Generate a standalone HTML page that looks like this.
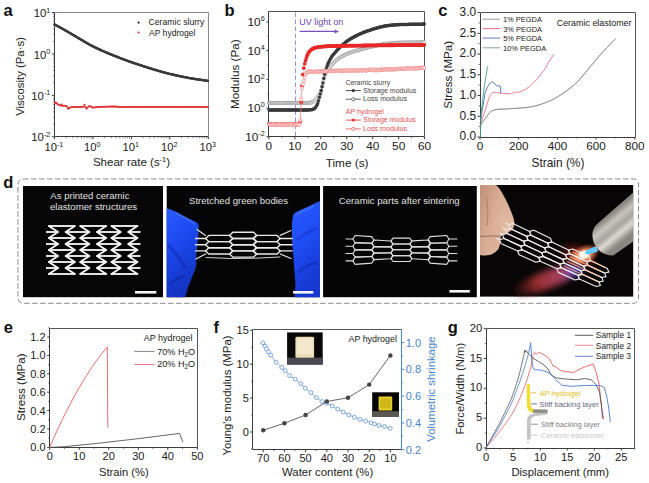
<!DOCTYPE html>
<html><head><meta charset="utf-8"><style>
html,body{margin:0;padding:0;background:#fff;width:649px;height:483px;overflow:hidden}
svg{display:block}
text{font-family:"Liberation Sans", sans-serif}
</style></head><body>
<svg width="649" height="483" viewBox="0 0 649 483" font-family='"Liberation Sans", sans-serif'><defs>
<linearGradient id="glL" x1="0" y1="0" x2="0.3" y2="1"><stop offset="0" stop-color="#2a5cff"/><stop offset="0.45" stop-color="#1c48f0"/><stop offset="1" stop-color="#1234c0"/></linearGradient>
<linearGradient id="glR" x1="0" y1="0" x2="0.3" y2="1"><stop offset="0" stop-color="#2a5cff"/><stop offset="0.5" stop-color="#1e4cf4"/><stop offset="1" stop-color="#1638d0"/></linearGradient>
<linearGradient id="torch" gradientUnits="userSpaceOnUse" x1="606" y1="218" x2="624" y2="240"><stop offset="0" stop-color="#8a8680"/><stop offset="0.25" stop-color="#c8c4be"/><stop offset="0.5" stop-color="#a8a49e"/><stop offset="0.72" stop-color="#dcd8d2"/><stop offset="1" stop-color="#8a8680"/></linearGradient>
<linearGradient id="plume" x1="0" y1="0" x2="1" y2="0"><stop offset="0" stop-color="#401010" stop-opacity="0.3"/><stop offset="0.35" stop-color="#9a3030"/><stop offset="0.7" stop-color="#a04060"/><stop offset="0.88" stop-color="#6050d0"/><stop offset="1" stop-color="#4060ff"/></linearGradient>
<linearGradient id="skin" x1="0" y1="0" x2="1" y2="0.6"><stop offset="0" stop-color="#c09078"/><stop offset="0.5" stop-color="#d8ae94"/><stop offset="1" stop-color="#e0b8a0"/></linearGradient>
<radialGradient id="redglow" cx="0.5" cy="0.5" r="0.5"><stop offset="0" stop-color="#c05030" stop-opacity="0.85"/><stop offset="0.5" stop-color="#802018" stop-opacity="0.5"/><stop offset="1" stop-color="#300808" stop-opacity="0"/></radialGradient>
<radialGradient id="glow" cx="0.5" cy="0.5" r="0.5"><stop offset="0" stop-color="#fff8f0"/><stop offset="0.35" stop-color="#ffb080"/><stop offset="1" stop-color="#ff6030" stop-opacity="0"/></radialGradient>
<radialGradient id="haze" cx="0.5" cy="0.5" r="0.5"><stop offset="0" stop-color="#a03068" stop-opacity="0.75"/><stop offset="0.6" stop-color="#602050" stop-opacity="0.45"/><stop offset="1" stop-color="#301030" stop-opacity="0"/></radialGradient>
<radialGradient id="bluef" cx="0.5" cy="0.5" r="0.5"><stop offset="0" stop-color="#a0d0ff"/><stop offset="0.5" stop-color="#3070ff" stop-opacity="0.8"/><stop offset="1" stop-color="#2040ff" stop-opacity="0"/></radialGradient>
<filter id="bl05" x="-50%" y="-50%" width="200%" height="200%"><feGaussianBlur stdDeviation="0.35"/></filter>
<filter id="bl1" x="-50%" y="-50%" width="200%" height="200%"><feGaussianBlur stdDeviation="0.6"/></filter>
<filter id="bl3" x="-50%" y="-50%" width="200%" height="200%"><feGaussianBlur stdDeviation="3"/></filter>
<filter id="bl5" x="-50%" y="-50%" width="200%" height="200%"><feGaussianBlur stdDeviation="5"/></filter>
</defs><line x1="54.50" y1="136.50" x2="208.50" y2="136.50" stroke="#3c3c3c" stroke-width="1"/>
<line x1="54.50" y1="12.50" x2="54.50" y2="136.50" stroke="#3c3c3c" stroke-width="1"/>
<line x1="54.50" y1="12.50" x2="208.50" y2="12.50" stroke="#8a8a8a" stroke-width="1"/>
<line x1="208.50" y1="12.50" x2="208.50" y2="136.50" stroke="#8a8a8a" stroke-width="1"/>
<line x1="54.50" y1="136.80" x2="54.50" y2="139.30" stroke="#3c3c3c" stroke-width="1"/>
<line x1="66.07" y1="136.80" x2="66.07" y2="138.30" stroke="#3c3c3c" stroke-width="0.6"/>
<line x1="72.85" y1="136.80" x2="72.85" y2="138.30" stroke="#3c3c3c" stroke-width="0.6"/>
<line x1="77.65" y1="136.80" x2="77.65" y2="138.30" stroke="#3c3c3c" stroke-width="0.6"/>
<line x1="81.38" y1="136.80" x2="81.38" y2="138.30" stroke="#3c3c3c" stroke-width="0.6"/>
<line x1="84.42" y1="136.80" x2="84.42" y2="138.30" stroke="#3c3c3c" stroke-width="0.6"/>
<line x1="86.99" y1="136.80" x2="86.99" y2="138.30" stroke="#3c3c3c" stroke-width="0.6"/>
<line x1="89.22" y1="136.80" x2="89.22" y2="138.30" stroke="#3c3c3c" stroke-width="0.6"/>
<line x1="91.19" y1="136.80" x2="91.19" y2="138.30" stroke="#3c3c3c" stroke-width="0.6"/>
<text x="53.90" y="151.10" font-size="11.2" text-anchor="middle" fill="#222">10<tspan dy="-4.6" font-size="7.2">-1</tspan></text>
<line x1="92.95" y1="136.80" x2="92.95" y2="139.30" stroke="#3c3c3c" stroke-width="1"/>
<line x1="104.52" y1="136.80" x2="104.52" y2="138.30" stroke="#3c3c3c" stroke-width="0.6"/>
<line x1="111.30" y1="136.80" x2="111.30" y2="138.30" stroke="#3c3c3c" stroke-width="0.6"/>
<line x1="116.10" y1="136.80" x2="116.10" y2="138.30" stroke="#3c3c3c" stroke-width="0.6"/>
<line x1="119.83" y1="136.80" x2="119.83" y2="138.30" stroke="#3c3c3c" stroke-width="0.6"/>
<line x1="122.87" y1="136.80" x2="122.87" y2="138.30" stroke="#3c3c3c" stroke-width="0.6"/>
<line x1="125.44" y1="136.80" x2="125.44" y2="138.30" stroke="#3c3c3c" stroke-width="0.6"/>
<line x1="127.67" y1="136.80" x2="127.67" y2="138.30" stroke="#3c3c3c" stroke-width="0.6"/>
<line x1="129.64" y1="136.80" x2="129.64" y2="138.30" stroke="#3c3c3c" stroke-width="0.6"/>
<text x="92.35" y="151.10" font-size="11.2" text-anchor="middle" fill="#222">10<tspan dy="-4.6" font-size="7.2">0</tspan></text>
<line x1="131.40" y1="136.80" x2="131.40" y2="139.30" stroke="#3c3c3c" stroke-width="1"/>
<line x1="142.97" y1="136.80" x2="142.97" y2="138.30" stroke="#3c3c3c" stroke-width="0.6"/>
<line x1="149.75" y1="136.80" x2="149.75" y2="138.30" stroke="#3c3c3c" stroke-width="0.6"/>
<line x1="154.55" y1="136.80" x2="154.55" y2="138.30" stroke="#3c3c3c" stroke-width="0.6"/>
<line x1="158.28" y1="136.80" x2="158.28" y2="138.30" stroke="#3c3c3c" stroke-width="0.6"/>
<line x1="161.32" y1="136.80" x2="161.32" y2="138.30" stroke="#3c3c3c" stroke-width="0.6"/>
<line x1="163.89" y1="136.80" x2="163.89" y2="138.30" stroke="#3c3c3c" stroke-width="0.6"/>
<line x1="166.12" y1="136.80" x2="166.12" y2="138.30" stroke="#3c3c3c" stroke-width="0.6"/>
<line x1="168.09" y1="136.80" x2="168.09" y2="138.30" stroke="#3c3c3c" stroke-width="0.6"/>
<text x="130.80" y="151.10" font-size="11.2" text-anchor="middle" fill="#222">10<tspan dy="-4.6" font-size="7.2">1</tspan></text>
<line x1="169.85" y1="136.80" x2="169.85" y2="139.30" stroke="#3c3c3c" stroke-width="1"/>
<line x1="181.42" y1="136.80" x2="181.42" y2="138.30" stroke="#3c3c3c" stroke-width="0.6"/>
<line x1="188.20" y1="136.80" x2="188.20" y2="138.30" stroke="#3c3c3c" stroke-width="0.6"/>
<line x1="193.00" y1="136.80" x2="193.00" y2="138.30" stroke="#3c3c3c" stroke-width="0.6"/>
<line x1="196.73" y1="136.80" x2="196.73" y2="138.30" stroke="#3c3c3c" stroke-width="0.6"/>
<line x1="199.77" y1="136.80" x2="199.77" y2="138.30" stroke="#3c3c3c" stroke-width="0.6"/>
<line x1="202.34" y1="136.80" x2="202.34" y2="138.30" stroke="#3c3c3c" stroke-width="0.6"/>
<line x1="204.57" y1="136.80" x2="204.57" y2="138.30" stroke="#3c3c3c" stroke-width="0.6"/>
<line x1="206.54" y1="136.80" x2="206.54" y2="138.30" stroke="#3c3c3c" stroke-width="0.6"/>
<text x="169.25" y="151.10" font-size="11.2" text-anchor="middle" fill="#222">10<tspan dy="-4.6" font-size="7.2">2</tspan></text>
<line x1="208.30" y1="136.80" x2="208.30" y2="139.30" stroke="#3c3c3c" stroke-width="1"/>
<text x="207.70" y="151.10" font-size="11.2" text-anchor="middle" fill="#222">10<tspan dy="-4.6" font-size="7.2">3</tspan></text>
<line x1="52.00" y1="136.79" x2="54.50" y2="136.79" stroke="#3c3c3c" stroke-width="1"/>
<line x1="53.00" y1="124.32" x2="54.50" y2="124.32" stroke="#3c3c3c" stroke-width="0.6"/>
<line x1="53.00" y1="117.02" x2="54.50" y2="117.02" stroke="#3c3c3c" stroke-width="0.6"/>
<line x1="53.00" y1="111.85" x2="54.50" y2="111.85" stroke="#3c3c3c" stroke-width="0.6"/>
<line x1="53.00" y1="107.83" x2="54.50" y2="107.83" stroke="#3c3c3c" stroke-width="0.6"/>
<line x1="53.00" y1="104.55" x2="54.50" y2="104.55" stroke="#3c3c3c" stroke-width="0.6"/>
<line x1="53.00" y1="101.78" x2="54.50" y2="101.78" stroke="#3c3c3c" stroke-width="0.6"/>
<line x1="53.00" y1="99.37" x2="54.50" y2="99.37" stroke="#3c3c3c" stroke-width="0.6"/>
<line x1="53.00" y1="97.26" x2="54.50" y2="97.26" stroke="#3c3c3c" stroke-width="0.6"/>
<text x="50.30" y="141.39" font-size="11.3" text-anchor="end" fill="#222">10<tspan dy="-4.6" font-size="7.2">-2</tspan></text>
<line x1="52.00" y1="95.36" x2="54.50" y2="95.36" stroke="#3c3c3c" stroke-width="1"/>
<line x1="53.00" y1="82.89" x2="54.50" y2="82.89" stroke="#3c3c3c" stroke-width="0.6"/>
<line x1="53.00" y1="75.59" x2="54.50" y2="75.59" stroke="#3c3c3c" stroke-width="0.6"/>
<line x1="53.00" y1="70.42" x2="54.50" y2="70.42" stroke="#3c3c3c" stroke-width="0.6"/>
<line x1="53.00" y1="66.40" x2="54.50" y2="66.40" stroke="#3c3c3c" stroke-width="0.6"/>
<line x1="53.00" y1="63.12" x2="54.50" y2="63.12" stroke="#3c3c3c" stroke-width="0.6"/>
<line x1="53.00" y1="60.35" x2="54.50" y2="60.35" stroke="#3c3c3c" stroke-width="0.6"/>
<line x1="53.00" y1="57.94" x2="54.50" y2="57.94" stroke="#3c3c3c" stroke-width="0.6"/>
<line x1="53.00" y1="55.83" x2="54.50" y2="55.83" stroke="#3c3c3c" stroke-width="0.6"/>
<text x="50.30" y="99.96" font-size="11.3" text-anchor="end" fill="#222">10<tspan dy="-4.6" font-size="7.2">-1</tspan></text>
<line x1="52.00" y1="53.93" x2="54.50" y2="53.93" stroke="#3c3c3c" stroke-width="1"/>
<line x1="53.00" y1="41.46" x2="54.50" y2="41.46" stroke="#3c3c3c" stroke-width="0.6"/>
<line x1="53.00" y1="34.16" x2="54.50" y2="34.16" stroke="#3c3c3c" stroke-width="0.6"/>
<line x1="53.00" y1="28.99" x2="54.50" y2="28.99" stroke="#3c3c3c" stroke-width="0.6"/>
<line x1="53.00" y1="24.97" x2="54.50" y2="24.97" stroke="#3c3c3c" stroke-width="0.6"/>
<line x1="53.00" y1="21.69" x2="54.50" y2="21.69" stroke="#3c3c3c" stroke-width="0.6"/>
<line x1="53.00" y1="18.92" x2="54.50" y2="18.92" stroke="#3c3c3c" stroke-width="0.6"/>
<line x1="53.00" y1="16.51" x2="54.50" y2="16.51" stroke="#3c3c3c" stroke-width="0.6"/>
<line x1="53.00" y1="14.40" x2="54.50" y2="14.40" stroke="#3c3c3c" stroke-width="0.6"/>
<text x="50.30" y="58.53" font-size="11.3" text-anchor="end" fill="#222">10<tspan dy="-4.6" font-size="7.2">0</tspan></text>
<line x1="52.00" y1="12.50" x2="54.50" y2="12.50" stroke="#3c3c3c" stroke-width="1"/>
<text x="50.30" y="17.10" font-size="11.3" text-anchor="end" fill="#222">10<tspan dy="-4.6" font-size="7.2">1</tspan></text>
<text x="8.15" y="15.80" font-size="16.5" text-anchor="middle" fill="#111" font-weight="bold">a</text>
<text x="23.90" y="115.85" font-size="11.38" fill="#222" transform="rotate(-90 23.90 115.85)">Viscosity (Pa·s)</text>
<text x="131.50" y="166.40" font-size="11.55" text-anchor="middle" fill="#222">Shear rate (s<tspan dy="-4.6" font-size="7.4">-1</tspan><tspan dy="4.6">)</tspan></text>
<polyline points="54.60,24.50 54.95,24.69 55.39,24.93 55.91,25.20 56.48,25.51 57.11,25.84 57.77,26.20 58.47,26.57 59.19,26.96 59.91,27.35 60.62,27.74 61.32,28.13 62.00,28.50 62.66,28.87 63.33,29.24 64.00,29.62 64.68,30.01 65.37,30.40 66.06,30.79 66.76,31.20 67.47,31.60 68.19,32.02 68.92,32.44 69.65,32.87 70.40,33.30 71.15,33.74 71.91,34.19 72.67,34.64 73.44,35.10 74.22,35.57 75.01,36.04 75.80,36.52 76.61,37.00 77.44,37.49 78.28,37.99 79.13,38.49 80.00,39.00 80.89,39.52 81.80,40.06 82.72,40.60 83.66,41.16 84.61,41.72 85.57,42.29 86.54,42.85 87.52,43.42 88.51,43.98 89.50,44.53 90.50,45.07 91.50,45.60 92.51,46.12 93.53,46.63 94.56,47.15 95.60,47.65 96.65,48.15 97.71,48.65 98.76,49.14 99.82,49.63 100.87,50.10 101.92,50.58 102.97,51.04 104.00,51.50 105.03,51.95 106.06,52.39 107.08,52.82 108.10,53.25 109.12,53.67 110.14,54.09 111.16,54.50 112.17,54.90 113.19,55.31 114.19,55.71 115.20,56.10 116.20,56.50 117.19,56.89 118.18,57.28 119.15,57.66 120.13,58.04 121.09,58.42 122.06,58.79 123.03,59.16 124.01,59.53 124.99,59.90 125.98,60.27 126.98,60.63 128.00,61.00 129.03,61.36 130.06,61.73 131.10,62.08 132.14,62.44 133.19,62.80 134.25,63.15 135.32,63.50 136.39,63.86 137.48,64.22 138.57,64.57 139.68,64.94 140.80,65.30 141.93,65.67 143.09,66.05 144.26,66.42 145.44,66.81 146.63,67.19 147.83,67.58 149.03,67.96 150.23,68.34 151.43,68.71 152.63,69.08 153.82,69.45 155.00,69.80 156.16,70.15 157.29,70.48 158.40,70.81 159.50,71.14 160.59,71.46 161.70,71.78 162.82,72.09 163.97,72.41 165.15,72.72 166.38,73.05 167.66,73.37 169.00,73.70 170.41,74.04 171.87,74.38 173.38,74.73 174.93,75.09 176.51,75.44 178.12,75.80 179.76,76.15 181.41,76.50 183.06,76.84 184.72,77.17 186.37,77.49 188.00,77.80 189.70,78.10 191.51,78.41 193.40,78.72 195.33,79.02 197.28,79.32 199.19,79.61 201.03,79.88 202.78,80.13 204.38,80.37 205.81,80.57 207.03,80.75 208.00,80.90" fill="none" stroke="#404040" stroke-width="2.3" stroke-linejoin="round" stroke-linecap="round"/>
<circle cx="54.60" cy="24.50" r="1.2" fill="#3a3a3a" stroke="none" stroke-width="0"/>
<circle cx="55.60" cy="25.04" r="1.2" fill="#3a3a3a" stroke="none" stroke-width="0"/>
<circle cx="56.60" cy="25.58" r="1.2" fill="#3a3a3a" stroke="none" stroke-width="0"/>
<circle cx="57.60" cy="26.11" r="1.2" fill="#3a3a3a" stroke="none" stroke-width="0"/>
<circle cx="58.60" cy="26.65" r="1.2" fill="#3a3a3a" stroke="none" stroke-width="0"/>
<circle cx="59.60" cy="27.19" r="1.2" fill="#3a3a3a" stroke="none" stroke-width="0"/>
<circle cx="60.60" cy="27.73" r="1.2" fill="#3a3a3a" stroke="none" stroke-width="0"/>
<circle cx="61.60" cy="28.28" r="1.2" fill="#3a3a3a" stroke="none" stroke-width="0"/>
<circle cx="62.60" cy="28.83" r="1.2" fill="#3a3a3a" stroke="none" stroke-width="0"/>
<circle cx="63.60" cy="29.39" r="1.2" fill="#3a3a3a" stroke="none" stroke-width="0"/>
<circle cx="64.60" cy="29.96" r="1.2" fill="#3a3a3a" stroke="none" stroke-width="0"/>
<circle cx="65.60" cy="30.53" r="1.2" fill="#3a3a3a" stroke="none" stroke-width="0"/>
<circle cx="66.60" cy="31.10" r="1.2" fill="#3a3a3a" stroke="none" stroke-width="0"/>
<circle cx="67.60" cy="31.68" r="1.2" fill="#3a3a3a" stroke="none" stroke-width="0"/>
<circle cx="68.60" cy="32.25" r="1.2" fill="#3a3a3a" stroke="none" stroke-width="0"/>
<circle cx="69.60" cy="32.83" r="1.2" fill="#3a3a3a" stroke="none" stroke-width="0"/>
<circle cx="70.60" cy="33.42" r="1.2" fill="#3a3a3a" stroke="none" stroke-width="0"/>
<circle cx="71.60" cy="34.00" r="1.2" fill="#3a3a3a" stroke="none" stroke-width="0"/>
<circle cx="72.60" cy="34.59" r="1.2" fill="#3a3a3a" stroke="none" stroke-width="0"/>
<circle cx="73.60" cy="35.19" r="1.2" fill="#3a3a3a" stroke="none" stroke-width="0"/>
<circle cx="74.60" cy="35.79" r="1.2" fill="#3a3a3a" stroke="none" stroke-width="0"/>
<circle cx="75.60" cy="36.39" r="1.2" fill="#3a3a3a" stroke="none" stroke-width="0"/>
<circle cx="76.60" cy="36.99" r="1.2" fill="#3a3a3a" stroke="none" stroke-width="0"/>
<circle cx="77.60" cy="37.58" r="1.2" fill="#3a3a3a" stroke="none" stroke-width="0"/>
<circle cx="78.60" cy="38.18" r="1.2" fill="#3a3a3a" stroke="none" stroke-width="0"/>
<circle cx="79.60" cy="38.77" r="1.2" fill="#3a3a3a" stroke="none" stroke-width="0"/>
<circle cx="80.60" cy="39.35" r="1.2" fill="#3a3a3a" stroke="none" stroke-width="0"/>
<circle cx="81.60" cy="39.94" r="1.2" fill="#3a3a3a" stroke="none" stroke-width="0"/>
<circle cx="82.60" cy="40.53" r="1.2" fill="#3a3a3a" stroke="none" stroke-width="0"/>
<circle cx="83.60" cy="41.13" r="1.2" fill="#3a3a3a" stroke="none" stroke-width="0"/>
<circle cx="84.60" cy="41.72" r="1.2" fill="#3a3a3a" stroke="none" stroke-width="0"/>
<circle cx="85.60" cy="42.31" r="1.2" fill="#3a3a3a" stroke="none" stroke-width="0"/>
<circle cx="86.60" cy="42.89" r="1.2" fill="#3a3a3a" stroke="none" stroke-width="0"/>
<circle cx="87.60" cy="43.46" r="1.2" fill="#3a3a3a" stroke="none" stroke-width="0"/>
<circle cx="88.60" cy="44.03" r="1.2" fill="#3a3a3a" stroke="none" stroke-width="0"/>
<circle cx="89.60" cy="44.59" r="1.2" fill="#3a3a3a" stroke="none" stroke-width="0"/>
<circle cx="90.60" cy="45.13" r="1.2" fill="#3a3a3a" stroke="none" stroke-width="0"/>
<circle cx="91.60" cy="45.65" r="1.2" fill="#3a3a3a" stroke="none" stroke-width="0"/>
<circle cx="92.60" cy="46.16" r="1.2" fill="#3a3a3a" stroke="none" stroke-width="0"/>
<circle cx="93.60" cy="46.67" r="1.2" fill="#3a3a3a" stroke="none" stroke-width="0"/>
<circle cx="94.60" cy="47.16" r="1.2" fill="#3a3a3a" stroke="none" stroke-width="0"/>
<circle cx="95.60" cy="47.65" r="1.2" fill="#3a3a3a" stroke="none" stroke-width="0"/>
<circle cx="96.60" cy="48.13" r="1.2" fill="#3a3a3a" stroke="none" stroke-width="0"/>
<circle cx="97.60" cy="48.60" r="1.2" fill="#3a3a3a" stroke="none" stroke-width="0"/>
<circle cx="98.60" cy="49.07" r="1.2" fill="#3a3a3a" stroke="none" stroke-width="0"/>
<circle cx="99.60" cy="49.53" r="1.2" fill="#3a3a3a" stroke="none" stroke-width="0"/>
<circle cx="100.60" cy="49.99" r="1.2" fill="#3a3a3a" stroke="none" stroke-width="0"/>
<circle cx="101.60" cy="50.44" r="1.2" fill="#3a3a3a" stroke="none" stroke-width="0"/>
<circle cx="102.60" cy="50.88" r="1.2" fill="#3a3a3a" stroke="none" stroke-width="0"/>
<circle cx="103.60" cy="51.32" r="1.2" fill="#3a3a3a" stroke="none" stroke-width="0"/>
<circle cx="104.60" cy="51.76" r="1.2" fill="#3a3a3a" stroke="none" stroke-width="0"/>
<circle cx="105.60" cy="52.19" r="1.2" fill="#3a3a3a" stroke="none" stroke-width="0"/>
<circle cx="106.60" cy="52.62" r="1.2" fill="#3a3a3a" stroke="none" stroke-width="0"/>
<circle cx="107.60" cy="53.04" r="1.2" fill="#3a3a3a" stroke="none" stroke-width="0"/>
<circle cx="108.60" cy="53.45" r="1.2" fill="#3a3a3a" stroke="none" stroke-width="0"/>
<circle cx="109.60" cy="53.86" r="1.2" fill="#3a3a3a" stroke="none" stroke-width="0"/>
<circle cx="110.60" cy="54.27" r="1.2" fill="#3a3a3a" stroke="none" stroke-width="0"/>
<circle cx="111.60" cy="54.67" r="1.2" fill="#3a3a3a" stroke="none" stroke-width="0"/>
<circle cx="112.60" cy="55.07" r="1.2" fill="#3a3a3a" stroke="none" stroke-width="0"/>
<circle cx="113.60" cy="55.47" r="1.2" fill="#3a3a3a" stroke="none" stroke-width="0"/>
<circle cx="114.60" cy="55.87" r="1.2" fill="#3a3a3a" stroke="none" stroke-width="0"/>
<circle cx="115.60" cy="56.26" r="1.2" fill="#3a3a3a" stroke="none" stroke-width="0"/>
<circle cx="116.60" cy="56.66" r="1.2" fill="#3a3a3a" stroke="none" stroke-width="0"/>
<circle cx="117.60" cy="57.05" r="1.2" fill="#3a3a3a" stroke="none" stroke-width="0"/>
<circle cx="118.60" cy="57.45" r="1.2" fill="#3a3a3a" stroke="none" stroke-width="0"/>
<circle cx="119.60" cy="57.84" r="1.2" fill="#3a3a3a" stroke="none" stroke-width="0"/>
<circle cx="120.60" cy="58.23" r="1.2" fill="#3a3a3a" stroke="none" stroke-width="0"/>
<circle cx="121.60" cy="58.61" r="1.2" fill="#3a3a3a" stroke="none" stroke-width="0"/>
<circle cx="122.60" cy="59.00" r="1.2" fill="#3a3a3a" stroke="none" stroke-width="0"/>
<circle cx="123.60" cy="59.38" r="1.2" fill="#3a3a3a" stroke="none" stroke-width="0"/>
<circle cx="124.60" cy="59.75" r="1.2" fill="#3a3a3a" stroke="none" stroke-width="0"/>
<circle cx="125.60" cy="60.13" r="1.2" fill="#3a3a3a" stroke="none" stroke-width="0"/>
<circle cx="126.60" cy="60.49" r="1.2" fill="#3a3a3a" stroke="none" stroke-width="0"/>
<circle cx="127.60" cy="60.86" r="1.2" fill="#3a3a3a" stroke="none" stroke-width="0"/>
<circle cx="128.60" cy="61.21" r="1.2" fill="#3a3a3a" stroke="none" stroke-width="0"/>
<circle cx="129.60" cy="61.57" r="1.2" fill="#3a3a3a" stroke="none" stroke-width="0"/>
<circle cx="130.60" cy="61.91" r="1.2" fill="#3a3a3a" stroke="none" stroke-width="0"/>
<circle cx="131.60" cy="62.26" r="1.2" fill="#3a3a3a" stroke="none" stroke-width="0"/>
<circle cx="132.60" cy="62.60" r="1.2" fill="#3a3a3a" stroke="none" stroke-width="0"/>
<circle cx="133.60" cy="62.93" r="1.2" fill="#3a3a3a" stroke="none" stroke-width="0"/>
<circle cx="134.60" cy="63.27" r="1.2" fill="#3a3a3a" stroke="none" stroke-width="0"/>
<circle cx="135.60" cy="63.60" r="1.2" fill="#3a3a3a" stroke="none" stroke-width="0"/>
<circle cx="136.60" cy="63.93" r="1.2" fill="#3a3a3a" stroke="none" stroke-width="0"/>
<circle cx="137.60" cy="64.26" r="1.2" fill="#3a3a3a" stroke="none" stroke-width="0"/>
<circle cx="138.60" cy="64.58" r="1.2" fill="#3a3a3a" stroke="none" stroke-width="0"/>
<circle cx="139.60" cy="64.91" r="1.2" fill="#3a3a3a" stroke="none" stroke-width="0"/>
<circle cx="140.60" cy="65.23" r="1.2" fill="#3a3a3a" stroke="none" stroke-width="0"/>
<circle cx="141.60" cy="65.56" r="1.2" fill="#3a3a3a" stroke="none" stroke-width="0"/>
<circle cx="142.60" cy="65.89" r="1.2" fill="#3a3a3a" stroke="none" stroke-width="0"/>
<circle cx="143.60" cy="66.21" r="1.2" fill="#3a3a3a" stroke="none" stroke-width="0"/>
<circle cx="144.60" cy="66.54" r="1.2" fill="#3a3a3a" stroke="none" stroke-width="0"/>
<circle cx="145.60" cy="66.86" r="1.2" fill="#3a3a3a" stroke="none" stroke-width="0"/>
<circle cx="146.60" cy="67.19" r="1.2" fill="#3a3a3a" stroke="none" stroke-width="0"/>
<circle cx="147.60" cy="67.51" r="1.2" fill="#3a3a3a" stroke="none" stroke-width="0"/>
<circle cx="148.60" cy="67.83" r="1.2" fill="#3a3a3a" stroke="none" stroke-width="0"/>
<circle cx="149.60" cy="68.14" r="1.2" fill="#3a3a3a" stroke="none" stroke-width="0"/>
<circle cx="150.60" cy="68.46" r="1.2" fill="#3a3a3a" stroke="none" stroke-width="0"/>
<circle cx="151.60" cy="68.77" r="1.2" fill="#3a3a3a" stroke="none" stroke-width="0"/>
<circle cx="152.60" cy="69.08" r="1.2" fill="#3a3a3a" stroke="none" stroke-width="0"/>
<circle cx="153.60" cy="69.38" r="1.2" fill="#3a3a3a" stroke="none" stroke-width="0"/>
<circle cx="154.60" cy="69.68" r="1.2" fill="#3a3a3a" stroke="none" stroke-width="0"/>
<circle cx="155.60" cy="69.98" r="1.2" fill="#3a3a3a" stroke="none" stroke-width="0"/>
<circle cx="156.60" cy="70.27" r="1.2" fill="#3a3a3a" stroke="none" stroke-width="0"/>
<circle cx="157.60" cy="70.57" r="1.2" fill="#3a3a3a" stroke="none" stroke-width="0"/>
<circle cx="158.60" cy="70.86" r="1.2" fill="#3a3a3a" stroke="none" stroke-width="0"/>
<circle cx="159.60" cy="71.15" r="1.2" fill="#3a3a3a" stroke="none" stroke-width="0"/>
<circle cx="160.60" cy="71.44" r="1.2" fill="#3a3a3a" stroke="none" stroke-width="0"/>
<circle cx="161.60" cy="71.73" r="1.2" fill="#3a3a3a" stroke="none" stroke-width="0"/>
<circle cx="162.60" cy="72.01" r="1.2" fill="#3a3a3a" stroke="none" stroke-width="0"/>
<circle cx="163.60" cy="72.29" r="1.2" fill="#3a3a3a" stroke="none" stroke-width="0"/>
<circle cx="164.60" cy="72.56" r="1.2" fill="#3a3a3a" stroke="none" stroke-width="0"/>
<circle cx="165.60" cy="72.83" r="1.2" fill="#3a3a3a" stroke="none" stroke-width="0"/>
<circle cx="166.60" cy="73.09" r="1.2" fill="#3a3a3a" stroke="none" stroke-width="0"/>
<circle cx="167.60" cy="73.35" r="1.2" fill="#3a3a3a" stroke="none" stroke-width="0"/>
<circle cx="168.60" cy="73.60" r="1.2" fill="#3a3a3a" stroke="none" stroke-width="0"/>
<circle cx="169.60" cy="73.85" r="1.2" fill="#3a3a3a" stroke="none" stroke-width="0"/>
<circle cx="170.60" cy="74.09" r="1.2" fill="#3a3a3a" stroke="none" stroke-width="0"/>
<circle cx="171.60" cy="74.33" r="1.2" fill="#3a3a3a" stroke="none" stroke-width="0"/>
<circle cx="172.60" cy="74.56" r="1.2" fill="#3a3a3a" stroke="none" stroke-width="0"/>
<circle cx="173.60" cy="74.80" r="1.2" fill="#3a3a3a" stroke="none" stroke-width="0"/>
<circle cx="174.60" cy="75.03" r="1.2" fill="#3a3a3a" stroke="none" stroke-width="0"/>
<circle cx="175.60" cy="75.26" r="1.2" fill="#3a3a3a" stroke="none" stroke-width="0"/>
<circle cx="176.60" cy="75.48" r="1.2" fill="#3a3a3a" stroke="none" stroke-width="0"/>
<circle cx="177.60" cy="75.71" r="1.2" fill="#3a3a3a" stroke="none" stroke-width="0"/>
<circle cx="178.60" cy="75.92" r="1.2" fill="#3a3a3a" stroke="none" stroke-width="0"/>
<circle cx="179.60" cy="76.14" r="1.2" fill="#3a3a3a" stroke="none" stroke-width="0"/>
<circle cx="180.60" cy="76.35" r="1.2" fill="#3a3a3a" stroke="none" stroke-width="0"/>
<circle cx="181.60" cy="76.56" r="1.2" fill="#3a3a3a" stroke="none" stroke-width="0"/>
<circle cx="182.60" cy="76.76" r="1.2" fill="#3a3a3a" stroke="none" stroke-width="0"/>
<circle cx="183.60" cy="76.96" r="1.2" fill="#3a3a3a" stroke="none" stroke-width="0"/>
<circle cx="184.60" cy="77.16" r="1.2" fill="#3a3a3a" stroke="none" stroke-width="0"/>
<circle cx="185.60" cy="77.35" r="1.2" fill="#3a3a3a" stroke="none" stroke-width="0"/>
<circle cx="186.60" cy="77.54" r="1.2" fill="#3a3a3a" stroke="none" stroke-width="0"/>
<circle cx="187.60" cy="77.73" r="1.2" fill="#3a3a3a" stroke="none" stroke-width="0"/>
<circle cx="188.60" cy="77.91" r="1.2" fill="#3a3a3a" stroke="none" stroke-width="0"/>
<circle cx="189.60" cy="78.08" r="1.2" fill="#3a3a3a" stroke="none" stroke-width="0"/>
<circle cx="190.60" cy="78.25" r="1.2" fill="#3a3a3a" stroke="none" stroke-width="0"/>
<circle cx="191.60" cy="78.42" r="1.2" fill="#3a3a3a" stroke="none" stroke-width="0"/>
<circle cx="192.60" cy="78.58" r="1.2" fill="#3a3a3a" stroke="none" stroke-width="0"/>
<circle cx="193.60" cy="78.74" r="1.2" fill="#3a3a3a" stroke="none" stroke-width="0"/>
<circle cx="194.60" cy="78.90" r="1.2" fill="#3a3a3a" stroke="none" stroke-width="0"/>
<circle cx="195.60" cy="79.05" r="1.2" fill="#3a3a3a" stroke="none" stroke-width="0"/>
<circle cx="196.60" cy="79.20" r="1.2" fill="#3a3a3a" stroke="none" stroke-width="0"/>
<circle cx="197.60" cy="79.35" r="1.2" fill="#3a3a3a" stroke="none" stroke-width="0"/>
<circle cx="198.60" cy="79.50" r="1.2" fill="#3a3a3a" stroke="none" stroke-width="0"/>
<circle cx="199.60" cy="79.65" r="1.2" fill="#3a3a3a" stroke="none" stroke-width="0"/>
<circle cx="200.60" cy="79.80" r="1.2" fill="#3a3a3a" stroke="none" stroke-width="0"/>
<circle cx="201.60" cy="79.94" r="1.2" fill="#3a3a3a" stroke="none" stroke-width="0"/>
<circle cx="202.60" cy="80.09" r="1.2" fill="#3a3a3a" stroke="none" stroke-width="0"/>
<circle cx="203.60" cy="80.24" r="1.2" fill="#3a3a3a" stroke="none" stroke-width="0"/>
<circle cx="204.60" cy="80.39" r="1.2" fill="#3a3a3a" stroke="none" stroke-width="0"/>
<circle cx="205.60" cy="80.53" r="1.2" fill="#3a3a3a" stroke="none" stroke-width="0"/>
<circle cx="206.60" cy="80.69" r="1.2" fill="#3a3a3a" stroke="none" stroke-width="0"/>
<circle cx="207.60" cy="80.84" r="1.2" fill="#3a3a3a" stroke="none" stroke-width="0"/>
<circle cx="208.00" cy="80.90" r="1.2" fill="#3a3a3a" stroke="none" stroke-width="0"/>
<polyline points="54.80,103.40 56.50,103.10 58.00,104.30 59.70,105.20 62.90,105.80 66.20,105.80 68.30,108.20 71.60,107.10 77.00,106.90 82.40,107.10 84.50,106.20 86.70,108.10 89.40,106.00 93.10,107.60 98.50,106.90 103.90,106.70 114.70,106.50 120.00,106.90 140.00,107.00 170.00,107.00 208.20,107.00" fill="none" stroke="#e33a3a" stroke-width="1.5" stroke-linejoin="round" stroke-linecap="round"/>
<circle cx="54.80" cy="103.40" r="0.95" fill="#e03a3a" stroke="none" stroke-width="0"/>
<circle cx="56.10" cy="103.13" r="0.95" fill="#e03a3a" stroke="none" stroke-width="0"/>
<circle cx="57.40" cy="103.74" r="0.95" fill="#e03a3a" stroke="none" stroke-width="0"/>
<circle cx="58.70" cy="104.74" r="0.95" fill="#e03a3a" stroke="none" stroke-width="0"/>
<circle cx="60.00" cy="105.29" r="0.95" fill="#e03a3a" stroke="none" stroke-width="0"/>
<circle cx="61.30" cy="105.62" r="0.95" fill="#e03a3a" stroke="none" stroke-width="0"/>
<circle cx="62.60" cy="105.79" r="0.95" fill="#e03a3a" stroke="none" stroke-width="0"/>
<circle cx="63.90" cy="105.80" r="0.95" fill="#e03a3a" stroke="none" stroke-width="0"/>
<circle cx="65.20" cy="105.80" r="0.95" fill="#e03a3a" stroke="none" stroke-width="0"/>
<circle cx="66.50" cy="105.93" r="0.95" fill="#e03a3a" stroke="none" stroke-width="0"/>
<circle cx="67.80" cy="107.86" r="0.95" fill="#e03a3a" stroke="none" stroke-width="0"/>
<circle cx="69.10" cy="108.05" r="0.95" fill="#e03a3a" stroke="none" stroke-width="0"/>
<circle cx="70.40" cy="107.47" r="0.95" fill="#e03a3a" stroke="none" stroke-width="0"/>
<circle cx="71.70" cy="107.09" r="0.95" fill="#e03a3a" stroke="none" stroke-width="0"/>
<circle cx="73.00" cy="107.01" r="0.95" fill="#e03a3a" stroke="none" stroke-width="0"/>
<circle cx="74.30" cy="106.95" r="0.95" fill="#e03a3a" stroke="none" stroke-width="0"/>
<circle cx="75.60" cy="106.91" r="0.95" fill="#e03a3a" stroke="none" stroke-width="0"/>
<circle cx="76.90" cy="106.90" r="0.95" fill="#e03a3a" stroke="none" stroke-width="0"/>
<circle cx="78.20" cy="106.93" r="0.95" fill="#e03a3a" stroke="none" stroke-width="0"/>
<circle cx="79.50" cy="106.99" r="0.95" fill="#e03a3a" stroke="none" stroke-width="0"/>
<circle cx="80.80" cy="107.06" r="0.95" fill="#e03a3a" stroke="none" stroke-width="0"/>
<circle cx="82.10" cy="107.10" r="0.95" fill="#e03a3a" stroke="none" stroke-width="0"/>
<circle cx="83.40" cy="106.68" r="0.95" fill="#e03a3a" stroke="none" stroke-width="0"/>
<circle cx="84.70" cy="106.24" r="0.95" fill="#e03a3a" stroke="none" stroke-width="0"/>
<circle cx="86.00" cy="107.65" r="0.95" fill="#e03a3a" stroke="none" stroke-width="0"/>
<circle cx="87.30" cy="107.83" r="0.95" fill="#e03a3a" stroke="none" stroke-width="0"/>
<circle cx="88.60" cy="106.44" r="0.95" fill="#e03a3a" stroke="none" stroke-width="0"/>
<circle cx="89.90" cy="106.08" r="0.95" fill="#e03a3a" stroke="none" stroke-width="0"/>
<circle cx="91.20" cy="106.77" r="0.95" fill="#e03a3a" stroke="none" stroke-width="0"/>
<circle cx="92.50" cy="107.49" r="0.95" fill="#e03a3a" stroke="none" stroke-width="0"/>
<circle cx="93.80" cy="107.57" r="0.95" fill="#e03a3a" stroke="none" stroke-width="0"/>
<circle cx="95.10" cy="107.41" r="0.95" fill="#e03a3a" stroke="none" stroke-width="0"/>
<circle cx="96.40" cy="107.18" r="0.95" fill="#e03a3a" stroke="none" stroke-width="0"/>
<circle cx="97.70" cy="106.97" r="0.95" fill="#e03a3a" stroke="none" stroke-width="0"/>
<circle cx="99.00" cy="106.87" r="0.95" fill="#e03a3a" stroke="none" stroke-width="0"/>
<circle cx="100.30" cy="106.81" r="0.95" fill="#e03a3a" stroke="none" stroke-width="0"/>
<circle cx="101.60" cy="106.76" r="0.95" fill="#e03a3a" stroke="none" stroke-width="0"/>
<circle cx="102.90" cy="106.73" r="0.95" fill="#e03a3a" stroke="none" stroke-width="0"/>
<circle cx="104.20" cy="106.69" r="0.95" fill="#e03a3a" stroke="none" stroke-width="0"/>
<circle cx="105.50" cy="106.66" r="0.95" fill="#e03a3a" stroke="none" stroke-width="0"/>
<circle cx="106.80" cy="106.62" r="0.95" fill="#e03a3a" stroke="none" stroke-width="0"/>
<circle cx="108.10" cy="106.59" r="0.95" fill="#e03a3a" stroke="none" stroke-width="0"/>
<circle cx="109.40" cy="106.56" r="0.95" fill="#e03a3a" stroke="none" stroke-width="0"/>
<circle cx="110.70" cy="106.54" r="0.95" fill="#e03a3a" stroke="none" stroke-width="0"/>
<circle cx="112.00" cy="106.52" r="0.95" fill="#e03a3a" stroke="none" stroke-width="0"/>
<circle cx="113.30" cy="106.51" r="0.95" fill="#e03a3a" stroke="none" stroke-width="0"/>
<circle cx="114.60" cy="106.50" r="0.95" fill="#e03a3a" stroke="none" stroke-width="0"/>
<circle cx="115.90" cy="106.55" r="0.95" fill="#e03a3a" stroke="none" stroke-width="0"/>
<circle cx="117.20" cy="106.68" r="0.95" fill="#e03a3a" stroke="none" stroke-width="0"/>
<circle cx="118.50" cy="106.81" r="0.95" fill="#e03a3a" stroke="none" stroke-width="0"/>
<circle cx="119.80" cy="106.90" r="0.95" fill="#e03a3a" stroke="none" stroke-width="0"/>
<circle cx="121.10" cy="106.91" r="0.95" fill="#e03a3a" stroke="none" stroke-width="0"/>
<circle cx="122.40" cy="106.92" r="0.95" fill="#e03a3a" stroke="none" stroke-width="0"/>
<circle cx="123.70" cy="106.94" r="0.95" fill="#e03a3a" stroke="none" stroke-width="0"/>
<circle cx="125.00" cy="106.95" r="0.95" fill="#e03a3a" stroke="none" stroke-width="0"/>
<circle cx="126.30" cy="106.96" r="0.95" fill="#e03a3a" stroke="none" stroke-width="0"/>
<circle cx="127.60" cy="106.97" r="0.95" fill="#e03a3a" stroke="none" stroke-width="0"/>
<circle cx="128.90" cy="106.97" r="0.95" fill="#e03a3a" stroke="none" stroke-width="0"/>
<circle cx="130.20" cy="106.98" r="0.95" fill="#e03a3a" stroke="none" stroke-width="0"/>
<circle cx="131.50" cy="106.98" r="0.95" fill="#e03a3a" stroke="none" stroke-width="0"/>
<circle cx="132.80" cy="106.99" r="0.95" fill="#e03a3a" stroke="none" stroke-width="0"/>
<circle cx="134.10" cy="106.99" r="0.95" fill="#e03a3a" stroke="none" stroke-width="0"/>
<circle cx="135.40" cy="107.00" r="0.95" fill="#e03a3a" stroke="none" stroke-width="0"/>
<circle cx="136.70" cy="107.00" r="0.95" fill="#e03a3a" stroke="none" stroke-width="0"/>
<circle cx="138.00" cy="107.00" r="0.95" fill="#e03a3a" stroke="none" stroke-width="0"/>
<circle cx="139.30" cy="107.00" r="0.95" fill="#e03a3a" stroke="none" stroke-width="0"/>
<circle cx="140.60" cy="107.00" r="0.95" fill="#e03a3a" stroke="none" stroke-width="0"/>
<circle cx="141.90" cy="107.00" r="0.95" fill="#e03a3a" stroke="none" stroke-width="0"/>
<circle cx="143.20" cy="107.00" r="0.95" fill="#e03a3a" stroke="none" stroke-width="0"/>
<circle cx="144.50" cy="107.00" r="0.95" fill="#e03a3a" stroke="none" stroke-width="0"/>
<circle cx="145.80" cy="107.00" r="0.95" fill="#e03a3a" stroke="none" stroke-width="0"/>
<circle cx="147.10" cy="107.00" r="0.95" fill="#e03a3a" stroke="none" stroke-width="0"/>
<circle cx="148.40" cy="107.00" r="0.95" fill="#e03a3a" stroke="none" stroke-width="0"/>
<circle cx="149.70" cy="107.00" r="0.95" fill="#e03a3a" stroke="none" stroke-width="0"/>
<circle cx="151.00" cy="107.00" r="0.95" fill="#e03a3a" stroke="none" stroke-width="0"/>
<circle cx="152.30" cy="107.00" r="0.95" fill="#e03a3a" stroke="none" stroke-width="0"/>
<circle cx="153.60" cy="107.00" r="0.95" fill="#e03a3a" stroke="none" stroke-width="0"/>
<circle cx="154.90" cy="107.00" r="0.95" fill="#e03a3a" stroke="none" stroke-width="0"/>
<circle cx="156.20" cy="107.00" r="0.95" fill="#e03a3a" stroke="none" stroke-width="0"/>
<circle cx="157.50" cy="107.00" r="0.95" fill="#e03a3a" stroke="none" stroke-width="0"/>
<circle cx="158.80" cy="107.00" r="0.95" fill="#e03a3a" stroke="none" stroke-width="0"/>
<circle cx="160.10" cy="107.00" r="0.95" fill="#e03a3a" stroke="none" stroke-width="0"/>
<circle cx="161.40" cy="107.00" r="0.95" fill="#e03a3a" stroke="none" stroke-width="0"/>
<circle cx="162.70" cy="107.00" r="0.95" fill="#e03a3a" stroke="none" stroke-width="0"/>
<circle cx="164.00" cy="107.00" r="0.95" fill="#e03a3a" stroke="none" stroke-width="0"/>
<circle cx="165.30" cy="107.00" r="0.95" fill="#e03a3a" stroke="none" stroke-width="0"/>
<circle cx="166.60" cy="107.00" r="0.95" fill="#e03a3a" stroke="none" stroke-width="0"/>
<circle cx="167.90" cy="107.00" r="0.95" fill="#e03a3a" stroke="none" stroke-width="0"/>
<circle cx="169.20" cy="107.00" r="0.95" fill="#e03a3a" stroke="none" stroke-width="0"/>
<circle cx="170.50" cy="107.00" r="0.95" fill="#e03a3a" stroke="none" stroke-width="0"/>
<circle cx="171.80" cy="107.00" r="0.95" fill="#e03a3a" stroke="none" stroke-width="0"/>
<circle cx="173.10" cy="107.00" r="0.95" fill="#e03a3a" stroke="none" stroke-width="0"/>
<circle cx="174.40" cy="107.00" r="0.95" fill="#e03a3a" stroke="none" stroke-width="0"/>
<circle cx="175.70" cy="107.00" r="0.95" fill="#e03a3a" stroke="none" stroke-width="0"/>
<circle cx="177.00" cy="107.00" r="0.95" fill="#e03a3a" stroke="none" stroke-width="0"/>
<circle cx="178.30" cy="107.00" r="0.95" fill="#e03a3a" stroke="none" stroke-width="0"/>
<circle cx="179.60" cy="107.00" r="0.95" fill="#e03a3a" stroke="none" stroke-width="0"/>
<circle cx="180.90" cy="107.00" r="0.95" fill="#e03a3a" stroke="none" stroke-width="0"/>
<circle cx="182.20" cy="107.00" r="0.95" fill="#e03a3a" stroke="none" stroke-width="0"/>
<circle cx="183.50" cy="107.00" r="0.95" fill="#e03a3a" stroke="none" stroke-width="0"/>
<circle cx="184.80" cy="107.00" r="0.95" fill="#e03a3a" stroke="none" stroke-width="0"/>
<circle cx="186.10" cy="107.00" r="0.95" fill="#e03a3a" stroke="none" stroke-width="0"/>
<circle cx="187.40" cy="107.00" r="0.95" fill="#e03a3a" stroke="none" stroke-width="0"/>
<circle cx="188.70" cy="107.00" r="0.95" fill="#e03a3a" stroke="none" stroke-width="0"/>
<circle cx="190.00" cy="107.00" r="0.95" fill="#e03a3a" stroke="none" stroke-width="0"/>
<circle cx="191.30" cy="107.00" r="0.95" fill="#e03a3a" stroke="none" stroke-width="0"/>
<circle cx="192.60" cy="107.00" r="0.95" fill="#e03a3a" stroke="none" stroke-width="0"/>
<circle cx="193.90" cy="107.00" r="0.95" fill="#e03a3a" stroke="none" stroke-width="0"/>
<circle cx="195.20" cy="107.00" r="0.95" fill="#e03a3a" stroke="none" stroke-width="0"/>
<circle cx="196.50" cy="107.00" r="0.95" fill="#e03a3a" stroke="none" stroke-width="0"/>
<circle cx="197.80" cy="107.00" r="0.95" fill="#e03a3a" stroke="none" stroke-width="0"/>
<circle cx="199.10" cy="107.00" r="0.95" fill="#e03a3a" stroke="none" stroke-width="0"/>
<circle cx="200.40" cy="107.00" r="0.95" fill="#e03a3a" stroke="none" stroke-width="0"/>
<circle cx="201.70" cy="107.00" r="0.95" fill="#e03a3a" stroke="none" stroke-width="0"/>
<circle cx="203.00" cy="107.00" r="0.95" fill="#e03a3a" stroke="none" stroke-width="0"/>
<circle cx="204.30" cy="107.00" r="0.95" fill="#e03a3a" stroke="none" stroke-width="0"/>
<circle cx="205.60" cy="107.00" r="0.95" fill="#e03a3a" stroke="none" stroke-width="0"/>
<circle cx="206.90" cy="107.00" r="0.95" fill="#e03a3a" stroke="none" stroke-width="0"/>
<circle cx="208.20" cy="107.00" r="0.95" fill="#e03a3a" stroke="none" stroke-width="0"/>
<circle cx="55.20" cy="102.60" r="1.1" fill="#e03a3a" stroke="none" stroke-width="0"/>
<circle cx="84.50" cy="104.80" r="1.1" fill="#e03a3a" stroke="none" stroke-width="0"/>
<circle cx="86.70" cy="108.60" r="1.1" fill="#e03a3a" stroke="none" stroke-width="0"/>
<circle cx="68.30" cy="108.70" r="1.1" fill="#e03a3a" stroke="none" stroke-width="0"/>
<circle cx="61.50" cy="104.50" r="1.1" fill="#e03a3a" stroke="none" stroke-width="0"/>
<circle cx="138.60" cy="22.60" r="1.1" fill="#222" stroke="none" stroke-width="0"/>
<text x="148.52" y="24.90" font-size="8.66" fill="#222">Ceramic slurry</text>
<circle cx="138.60" cy="32.50" r="1.1" fill="#e03a3a" stroke="none" stroke-width="0"/>
<text x="148.95" y="35.60" font-size="8.58" fill="#222">AP hydrogel</text>
<line x1="268.50" y1="136.50" x2="424.50" y2="136.50" stroke="#3c3c3c" stroke-width="1"/>
<line x1="268.50" y1="11.50" x2="268.50" y2="136.50" stroke="#3c3c3c" stroke-width="1"/>
<line x1="268.50" y1="11.50" x2="424.50" y2="11.50" stroke="#555" stroke-width="1"/>
<line x1="424.50" y1="11.50" x2="424.50" y2="136.50" stroke="#555" stroke-width="1"/>
<line x1="268.90" y1="136.80" x2="268.90" y2="139.30" stroke="#3c3c3c" stroke-width="1"/>
<text x="268.90" y="150.40" font-size="11.8" text-anchor="middle" fill="#222">0</text>
<line x1="281.88" y1="136.80" x2="281.88" y2="138.30" stroke="#3c3c3c" stroke-width="0.7"/>
<line x1="294.85" y1="136.80" x2="294.85" y2="139.30" stroke="#3c3c3c" stroke-width="1"/>
<text x="294.85" y="150.40" font-size="11.8" text-anchor="middle" fill="#222">10</text>
<line x1="307.82" y1="136.80" x2="307.82" y2="138.30" stroke="#3c3c3c" stroke-width="0.7"/>
<line x1="320.80" y1="136.80" x2="320.80" y2="139.30" stroke="#3c3c3c" stroke-width="1"/>
<text x="320.80" y="150.40" font-size="11.8" text-anchor="middle" fill="#222">20</text>
<line x1="333.77" y1="136.80" x2="333.77" y2="138.30" stroke="#3c3c3c" stroke-width="0.7"/>
<line x1="346.75" y1="136.80" x2="346.75" y2="139.30" stroke="#3c3c3c" stroke-width="1"/>
<text x="346.75" y="150.40" font-size="11.8" text-anchor="middle" fill="#222">30</text>
<line x1="359.73" y1="136.80" x2="359.73" y2="138.30" stroke="#3c3c3c" stroke-width="0.7"/>
<line x1="372.70" y1="136.80" x2="372.70" y2="139.30" stroke="#3c3c3c" stroke-width="1"/>
<text x="372.70" y="150.40" font-size="11.8" text-anchor="middle" fill="#222">40</text>
<line x1="385.68" y1="136.80" x2="385.68" y2="138.30" stroke="#3c3c3c" stroke-width="0.7"/>
<line x1="398.65" y1="136.80" x2="398.65" y2="139.30" stroke="#3c3c3c" stroke-width="1"/>
<text x="398.65" y="150.40" font-size="11.8" text-anchor="middle" fill="#222">50</text>
<line x1="411.62" y1="136.80" x2="411.62" y2="138.30" stroke="#3c3c3c" stroke-width="0.7"/>
<line x1="424.60" y1="136.80" x2="424.60" y2="139.30" stroke="#3c3c3c" stroke-width="1"/>
<text x="424.60" y="150.40" font-size="11.8" text-anchor="middle" fill="#222">60</text>
<line x1="266.40" y1="136.80" x2="268.90" y2="136.80" stroke="#3c3c3c" stroke-width="1"/>
<text x="264.70" y="140.70" font-size="11.8" text-anchor="end" fill="#222">10<tspan dy="-4.6" font-size="7.2">-2</tspan></text>
<line x1="267.40" y1="122.45" x2="268.90" y2="122.45" stroke="#3c3c3c" stroke-width="0.7"/>
<line x1="266.40" y1="108.10" x2="268.90" y2="108.10" stroke="#3c3c3c" stroke-width="1"/>
<text x="264.70" y="112.00" font-size="11.8" text-anchor="end" fill="#222">10<tspan dy="-4.6" font-size="7.2">0</tspan></text>
<line x1="267.40" y1="93.75" x2="268.90" y2="93.75" stroke="#3c3c3c" stroke-width="0.7"/>
<line x1="266.40" y1="79.40" x2="268.90" y2="79.40" stroke="#3c3c3c" stroke-width="1"/>
<text x="264.70" y="83.30" font-size="11.8" text-anchor="end" fill="#222">10<tspan dy="-4.6" font-size="7.2">2</tspan></text>
<line x1="267.40" y1="65.05" x2="268.90" y2="65.05" stroke="#3c3c3c" stroke-width="0.7"/>
<line x1="266.40" y1="50.70" x2="268.90" y2="50.70" stroke="#3c3c3c" stroke-width="1"/>
<text x="264.70" y="54.60" font-size="11.8" text-anchor="end" fill="#222">10<tspan dy="-4.6" font-size="7.2">4</tspan></text>
<line x1="267.40" y1="36.35" x2="268.90" y2="36.35" stroke="#3c3c3c" stroke-width="0.7"/>
<line x1="266.40" y1="22.00" x2="268.90" y2="22.00" stroke="#3c3c3c" stroke-width="1"/>
<text x="264.70" y="25.90" font-size="11.8" text-anchor="end" fill="#222">10<tspan dy="-4.6" font-size="7.2">6</tspan></text>
<text x="229.60" y="15.60" font-size="16.5" text-anchor="middle" fill="#111" font-weight="bold">b</text>
<text x="238.70" y="109.09" font-size="11.75" fill="#222" transform="rotate(-90 238.70 109.09)">Modulus (Pa)</text>
<text x="325.71" y="166.60" font-size="11.81" fill="#222">Time (s)</text>
<line x1="295.50" y1="12.50" x2="295.50" y2="136.80" stroke="#8a70d0" stroke-width="0.8" stroke-dasharray="4.5,2.5"/>
<text x="299.32" y="24.90" font-size="9.00" fill="#6a45a8">UV light on</text>
<line x1="299.70" y1="31.40" x2="336.00" y2="31.40" stroke="#7b4fc0" stroke-width="1.1"/>
<polygon points="339.00,31.40 334.50,29.40 334.50,33.40" fill="#7b4fc0"/>
<polyline points="269.00,103.00 269.25,103.00 269.50,103.00 269.75,103.00 270.00,103.00 270.25,103.00 270.50,103.00 270.75,103.00 271.00,103.00 271.25,103.00 271.50,103.00 271.75,103.00 272.00,103.00 272.25,103.00 272.50,103.00 272.75,103.00 273.00,103.00 273.25,103.00 273.50,103.00 273.75,103.00 274.00,103.00 274.25,103.00 274.50,103.00 274.75,103.00 275.00,103.00 275.25,103.00 275.50,103.00 275.75,103.00 276.00,103.00 276.25,103.00 276.50,103.00 276.75,103.00 277.00,103.00 277.25,103.00 277.50,103.00 277.75,103.00 278.00,103.00 278.25,103.00 278.50,103.00 278.75,103.00 279.00,103.00 279.25,103.00 279.50,103.00 279.75,103.00 280.00,103.00 280.25,103.00 280.50,103.00 280.75,103.00 281.00,103.00 281.25,103.00 281.50,103.00 281.75,103.00 282.00,103.00 282.25,103.00 282.50,103.00 282.75,103.00 283.00,103.00 283.25,103.00 283.50,103.00 283.75,103.00 284.00,103.00 284.25,103.00 284.50,103.00 284.75,103.00 285.00,103.00 285.25,103.00 285.50,103.00 285.75,103.00 286.00,103.00 286.25,103.00 286.50,103.00 286.75,103.00 287.00,103.00 287.25,103.00 287.50,103.00 287.75,103.00 288.00,103.00 288.25,103.00 288.50,103.00 288.75,103.00 289.00,103.00 289.25,103.00 289.50,103.00 289.75,103.00 290.00,103.00 290.25,103.00 290.50,103.00 290.75,103.00 291.00,103.00 291.25,103.00 291.50,103.00 291.75,103.00 292.00,103.00 292.25,103.00 292.50,103.00 292.75,103.00 293.00,103.00 293.25,103.00 293.50,103.00 293.75,103.00 294.00,103.00 294.25,103.00 294.50,103.00 294.75,103.00 295.00,103.00 295.25,103.00 295.50,103.00 295.75,103.00 296.00,103.00 296.25,103.00 296.50,103.00 296.75,103.00 297.00,103.00 297.25,103.00 297.50,103.00 297.75,103.00 298.00,103.00 298.25,103.00 298.50,103.00 298.75,103.00 299.00,103.00 299.25,103.00 299.50,103.00 299.75,103.00 300.00,103.00 300.25,103.00 300.50,103.00 300.75,103.00 301.00,103.00 301.25,103.00 301.50,103.00 301.75,103.00 302.00,103.00 302.25,103.00 302.50,103.00 302.75,103.00 303.00,103.00 303.25,103.00 303.50,103.00 303.75,103.00 304.00,102.99 304.25,102.99 304.50,102.99 304.75,102.98 305.00,102.98 305.25,102.97 305.50,102.96 305.75,102.95 306.00,102.95 306.25,102.94 306.50,102.93 306.75,102.91 307.00,102.90 307.25,102.89 307.50,102.88 307.75,102.86 308.00,102.85 308.25,102.83 308.50,102.81 308.75,102.80 309.00,102.78 309.25,102.76 309.50,102.74 309.75,102.72 310.00,102.70 310.25,102.67 310.50,102.65 310.75,102.63 311.00,102.60 311.25,102.56 311.50,102.50 311.75,102.41 312.00,102.31 312.25,102.19 312.50,102.05 312.75,101.89 313.00,101.73 313.25,101.55 313.50,101.37 313.75,101.17 314.00,100.98 314.25,100.78 314.50,100.58 314.75,100.38 315.00,100.15 315.25,99.90 315.50,99.63 315.75,99.34 316.00,99.03 316.25,98.71 316.50,98.38 316.75,98.04 317.00,97.69 317.25,97.34 317.50,96.99 317.75,96.63 318.00,96.28 318.25,95.93 318.50,95.60 318.75,95.27 319.00,94.95 319.25,94.62 319.50,94.28 319.75,93.92 320.00,93.53 320.25,93.10 320.50,92.63 320.75,92.11 321.00,91.48 321.25,90.67 321.50,89.69 321.75,88.58 322.00,87.37 322.25,86.10 322.50,84.79 322.75,83.48 323.00,82.20 323.25,80.98 323.50,79.85 323.75,78.85 324.00,78.00 324.25,77.26 324.50,76.55 324.75,75.86 325.00,75.21 325.25,74.59 325.50,74.00 325.75,73.43 326.00,72.89 326.25,72.38 326.50,71.89 326.75,71.43 327.00,71.00 327.25,70.59 327.50,70.20 327.75,69.82 328.00,69.46 328.25,69.12 328.50,68.79 328.75,68.47 329.00,68.16 329.25,67.86 329.50,67.56 329.75,67.27 330.00,66.99 330.25,66.70 330.50,66.41 330.75,66.13 331.00,65.84 331.25,65.55 331.50,65.27 331.75,64.98 332.00,64.70 332.25,64.42 332.50,64.14 332.75,63.86 333.00,63.58 333.25,63.31 333.50,63.04 333.75,62.77 334.00,62.51 334.25,62.25 334.50,61.99 334.75,61.74 335.00,61.49 335.25,61.24 335.50,61.00 335.75,60.76 336.00,60.53 336.25,60.31 336.50,60.09 336.75,59.87 337.00,59.67 337.25,59.47 337.50,59.27 337.75,59.08 338.00,58.90 338.25,58.72 338.50,58.55 338.75,58.38 339.00,58.21 339.25,58.04 339.50,57.88 339.75,57.72 340.00,57.56 340.25,57.40 340.50,57.25 340.75,57.10 341.00,56.95 341.25,56.80 341.50,56.65 341.75,56.51 342.00,56.37 342.25,56.23 342.50,56.09 342.75,55.96 343.00,55.82 343.25,55.69 343.50,55.56 343.75,55.43 344.00,55.31 344.25,55.18 344.50,55.06 344.75,54.94 345.00,54.82 345.25,54.70 345.50,54.59 345.75,54.47 346.00,54.36 346.25,54.25 346.50,54.14 346.75,54.03 347.00,53.92 347.25,53.81 347.50,53.71 347.75,53.60 348.00,53.50 348.25,53.40 348.50,53.30 348.75,53.20 349.00,53.10 349.25,53.01 349.50,52.91 349.75,52.82 350.00,52.73 350.25,52.64 350.50,52.55 350.75,52.46 351.00,52.37 351.25,52.29 351.50,52.20 351.75,52.12 352.00,52.04 352.25,51.95 352.50,51.87 352.75,51.79 353.00,51.71 353.25,51.63 353.50,51.56 353.75,51.48 354.00,51.40 354.25,51.32 354.50,51.25 354.75,51.17 355.00,51.10 355.25,51.02 355.50,50.95 355.75,50.87 356.00,50.80 356.25,50.72 356.50,50.65 356.75,50.57 357.00,50.50 357.25,50.43 357.50,50.35 357.75,50.28 358.00,50.20 358.25,50.13 358.50,50.06 358.75,49.98 359.00,49.91 359.25,49.84 359.50,49.77 359.75,49.69 360.00,49.62 360.25,49.55 360.50,49.48 360.75,49.41 361.00,49.34 361.25,49.26 361.50,49.19 361.75,49.12 362.00,49.05 362.25,48.98 362.50,48.91 362.75,48.84 363.00,48.78 363.25,48.71 363.50,48.64 363.75,48.57 364.00,48.50 364.25,48.44 364.50,48.37 364.75,48.30 365.00,48.23 365.25,48.17 365.50,48.10 365.75,48.04 366.00,47.97 366.25,47.91 366.50,47.84 366.75,47.78 367.00,47.71 367.25,47.65 367.50,47.59 367.75,47.52 368.00,47.46 368.25,47.40 368.50,47.34 368.75,47.28 369.00,47.21 369.25,47.15 369.50,47.09 369.75,47.03 370.00,46.97 370.25,46.91 370.50,46.86 370.75,46.80 371.00,46.74 371.25,46.68 371.50,46.62 371.75,46.57 372.00,46.51 372.25,46.46 372.50,46.40 372.75,46.34 373.00,46.29 373.25,46.23 373.50,46.18 373.75,46.12 374.00,46.07 374.25,46.01 374.50,45.96 374.75,45.90 375.00,45.84 375.25,45.79 375.50,45.73 375.75,45.68 376.00,45.62 376.25,45.57 376.50,45.52 376.75,45.46 377.00,45.41 377.25,45.35 377.50,45.30 377.75,45.25 378.00,45.20 378.25,45.15 378.50,45.09 378.75,45.04 379.00,44.99 379.25,44.94 379.50,44.89 379.75,44.84 380.00,44.80 380.25,44.75 380.50,44.70 380.75,44.66 381.00,44.61 381.25,44.57 381.50,44.52 381.75,44.48 382.00,44.44 382.25,44.40 382.50,44.35 382.75,44.31 383.00,44.28 383.25,44.24 383.50,44.20 383.75,44.16 384.00,44.13 384.25,44.10 384.50,44.06 384.75,44.03 385.00,44.00 385.25,43.97 385.50,43.94 385.75,43.91 386.00,43.88 386.25,43.85 386.50,43.82 386.75,43.79 387.00,43.76 387.25,43.73 387.50,43.70 387.75,43.68 388.00,43.65 388.25,43.62 388.50,43.59 388.75,43.56 389.00,43.54 389.25,43.51 389.50,43.48 389.75,43.45 390.00,43.43 390.25,43.40 390.50,43.37 390.75,43.35 391.00,43.32 391.25,43.30 391.50,43.27 391.75,43.25 392.00,43.23 392.25,43.20 392.50,43.18 392.75,43.16 393.00,43.13 393.25,43.11 393.50,43.09 393.75,43.07 394.00,43.05 394.25,43.03 394.50,43.01 394.75,42.99 395.00,42.97 395.25,42.95 395.50,42.93 395.75,42.91 396.00,42.90 396.25,42.88 396.50,42.86 396.75,42.85 397.00,42.83 397.25,42.82 397.50,42.81 397.75,42.79 398.00,42.78 398.25,42.77 398.50,42.76 398.75,42.74 399.00,42.73 399.25,42.72 399.50,42.72 399.75,42.71 400.00,42.70 400.25,42.69 400.50,42.69 400.75,42.68 401.00,42.67 401.25,42.66 401.50,42.66 401.75,42.65 402.00,42.65 402.25,42.64 402.50,42.63 402.75,42.63 403.00,42.62 403.25,42.62 403.50,42.61 403.75,42.60 404.00,42.60 404.25,42.59 404.50,42.59 404.75,42.58 405.00,42.58 405.25,42.57 405.50,42.57 405.75,42.56 406.00,42.56 406.25,42.55 406.50,42.55 406.75,42.54 407.00,42.54 407.25,42.53 407.50,42.53 407.75,42.53 408.00,42.52 408.25,42.52 408.50,42.51 408.75,42.51 409.00,42.51 409.25,42.50 409.50,42.50 409.75,42.49 410.00,42.49 410.25,42.49 410.50,42.48 410.75,42.48 411.00,42.48 411.25,42.47 411.50,42.47 411.75,42.47 412.00,42.46 412.25,42.46 412.50,42.46 412.75,42.45 413.00,42.45 413.25,42.45 413.50,42.44 413.75,42.44 414.00,42.44 414.25,42.43 414.50,42.43 414.75,42.43 415.00,42.42 415.25,42.42 415.50,42.42 415.75,42.42 416.00,42.41 416.25,42.41 416.50,42.41 416.75,42.40 417.00,42.40 417.25,42.40 417.50,42.39 417.75,42.39 418.00,42.39 418.25,42.38 418.50,42.38 418.75,42.38 419.00,42.37 419.25,42.37 419.50,42.37 419.75,42.37 420.00,42.36 420.25,42.36 420.50,42.36 420.75,42.35 421.00,42.35 421.25,42.34 421.50,42.34 421.75,42.34 422.00,42.33 422.25,42.33 422.50,42.33 422.75,42.32 423.00,42.32 423.25,42.32 423.50,42.31 423.75,42.31 424.00,42.30 424.20,42.30" fill="none" stroke="#949494" stroke-width="0.8" stroke-linejoin="round" stroke-linecap="round"/>
<circle cx="269.00" cy="103.00" r="1.6" fill="#fff" stroke="#949494" stroke-width="0.65"/>
<circle cx="269.95" cy="103.00" r="1.6" fill="#fff" stroke="#949494" stroke-width="0.65"/>
<circle cx="270.90" cy="103.00" r="1.6" fill="#fff" stroke="#949494" stroke-width="0.65"/>
<circle cx="271.85" cy="103.00" r="1.6" fill="#fff" stroke="#949494" stroke-width="0.65"/>
<circle cx="272.80" cy="103.00" r="1.6" fill="#fff" stroke="#949494" stroke-width="0.65"/>
<circle cx="273.75" cy="103.00" r="1.6" fill="#fff" stroke="#949494" stroke-width="0.65"/>
<circle cx="274.70" cy="103.00" r="1.6" fill="#fff" stroke="#949494" stroke-width="0.65"/>
<circle cx="275.65" cy="103.00" r="1.6" fill="#fff" stroke="#949494" stroke-width="0.65"/>
<circle cx="276.60" cy="103.00" r="1.6" fill="#fff" stroke="#949494" stroke-width="0.65"/>
<circle cx="277.55" cy="103.00" r="1.6" fill="#fff" stroke="#949494" stroke-width="0.65"/>
<circle cx="278.50" cy="103.00" r="1.6" fill="#fff" stroke="#949494" stroke-width="0.65"/>
<circle cx="279.45" cy="103.00" r="1.6" fill="#fff" stroke="#949494" stroke-width="0.65"/>
<circle cx="280.40" cy="103.00" r="1.6" fill="#fff" stroke="#949494" stroke-width="0.65"/>
<circle cx="281.35" cy="103.00" r="1.6" fill="#fff" stroke="#949494" stroke-width="0.65"/>
<circle cx="282.30" cy="103.00" r="1.6" fill="#fff" stroke="#949494" stroke-width="0.65"/>
<circle cx="283.25" cy="103.00" r="1.6" fill="#fff" stroke="#949494" stroke-width="0.65"/>
<circle cx="284.20" cy="103.00" r="1.6" fill="#fff" stroke="#949494" stroke-width="0.65"/>
<circle cx="285.15" cy="103.00" r="1.6" fill="#fff" stroke="#949494" stroke-width="0.65"/>
<circle cx="286.10" cy="103.00" r="1.6" fill="#fff" stroke="#949494" stroke-width="0.65"/>
<circle cx="287.05" cy="103.00" r="1.6" fill="#fff" stroke="#949494" stroke-width="0.65"/>
<circle cx="288.00" cy="103.00" r="1.6" fill="#fff" stroke="#949494" stroke-width="0.65"/>
<circle cx="288.95" cy="103.00" r="1.6" fill="#fff" stroke="#949494" stroke-width="0.65"/>
<circle cx="289.90" cy="103.00" r="1.6" fill="#fff" stroke="#949494" stroke-width="0.65"/>
<circle cx="290.85" cy="103.00" r="1.6" fill="#fff" stroke="#949494" stroke-width="0.65"/>
<circle cx="291.80" cy="103.00" r="1.6" fill="#fff" stroke="#949494" stroke-width="0.65"/>
<circle cx="292.75" cy="103.00" r="1.6" fill="#fff" stroke="#949494" stroke-width="0.65"/>
<circle cx="293.70" cy="103.00" r="1.6" fill="#fff" stroke="#949494" stroke-width="0.65"/>
<circle cx="294.65" cy="103.00" r="1.6" fill="#fff" stroke="#949494" stroke-width="0.65"/>
<circle cx="295.60" cy="103.00" r="1.6" fill="#fff" stroke="#949494" stroke-width="0.65"/>
<circle cx="296.55" cy="103.00" r="1.6" fill="#fff" stroke="#949494" stroke-width="0.65"/>
<circle cx="297.50" cy="103.00" r="1.6" fill="#fff" stroke="#949494" stroke-width="0.65"/>
<circle cx="298.45" cy="103.00" r="1.6" fill="#fff" stroke="#949494" stroke-width="0.65"/>
<circle cx="299.40" cy="103.00" r="1.6" fill="#fff" stroke="#949494" stroke-width="0.65"/>
<circle cx="300.35" cy="103.00" r="1.6" fill="#fff" stroke="#949494" stroke-width="0.65"/>
<circle cx="301.30" cy="103.00" r="1.6" fill="#fff" stroke="#949494" stroke-width="0.65"/>
<circle cx="302.25" cy="103.00" r="1.6" fill="#fff" stroke="#949494" stroke-width="0.65"/>
<circle cx="303.20" cy="103.00" r="1.6" fill="#fff" stroke="#949494" stroke-width="0.65"/>
<circle cx="304.15" cy="102.99" r="1.6" fill="#fff" stroke="#949494" stroke-width="0.65"/>
<circle cx="305.10" cy="102.97" r="1.6" fill="#fff" stroke="#949494" stroke-width="0.65"/>
<circle cx="306.05" cy="102.94" r="1.6" fill="#fff" stroke="#949494" stroke-width="0.65"/>
<circle cx="307.00" cy="102.90" r="1.6" fill="#fff" stroke="#949494" stroke-width="0.65"/>
<circle cx="307.95" cy="102.85" r="1.6" fill="#fff" stroke="#949494" stroke-width="0.65"/>
<circle cx="308.90" cy="102.79" r="1.6" fill="#fff" stroke="#949494" stroke-width="0.65"/>
<circle cx="309.85" cy="102.71" r="1.6" fill="#fff" stroke="#949494" stroke-width="0.65"/>
<circle cx="310.80" cy="102.62" r="1.6" fill="#fff" stroke="#949494" stroke-width="0.65"/>
<circle cx="311.75" cy="102.41" r="1.6" fill="#fff" stroke="#949494" stroke-width="0.65"/>
<circle cx="312.70" cy="101.93" r="1.6" fill="#fff" stroke="#949494" stroke-width="0.65"/>
<circle cx="313.65" cy="101.25" r="1.6" fill="#fff" stroke="#949494" stroke-width="0.65"/>
<circle cx="314.60" cy="100.50" r="1.6" fill="#fff" stroke="#949494" stroke-width="0.65"/>
<circle cx="315.55" cy="99.57" r="1.6" fill="#fff" stroke="#949494" stroke-width="0.65"/>
<circle cx="316.50" cy="98.38" r="1.6" fill="#fff" stroke="#949494" stroke-width="0.65"/>
<circle cx="317.45" cy="97.06" r="1.6" fill="#fff" stroke="#949494" stroke-width="0.65"/>
<circle cx="318.40" cy="95.73" r="1.6" fill="#fff" stroke="#949494" stroke-width="0.65"/>
<circle cx="319.35" cy="94.48" r="1.6" fill="#fff" stroke="#949494" stroke-width="0.65"/>
<circle cx="320.30" cy="93.01" r="1.6" fill="#fff" stroke="#949494" stroke-width="0.65"/>
<circle cx="321.25" cy="90.67" r="1.6" fill="#fff" stroke="#949494" stroke-width="0.65"/>
<circle cx="322.20" cy="86.36" r="1.6" fill="#fff" stroke="#949494" stroke-width="0.65"/>
<circle cx="323.15" cy="81.46" r="1.6" fill="#fff" stroke="#949494" stroke-width="0.65"/>
<circle cx="324.10" cy="77.70" r="1.6" fill="#fff" stroke="#949494" stroke-width="0.65"/>
<circle cx="325.05" cy="75.09" r="1.6" fill="#fff" stroke="#949494" stroke-width="0.65"/>
<circle cx="326.00" cy="72.89" r="1.6" fill="#fff" stroke="#949494" stroke-width="0.65"/>
<circle cx="326.95" cy="71.08" r="1.6" fill="#fff" stroke="#949494" stroke-width="0.65"/>
<circle cx="327.90" cy="69.60" r="1.6" fill="#fff" stroke="#949494" stroke-width="0.65"/>
<circle cx="328.85" cy="68.35" r="1.6" fill="#fff" stroke="#949494" stroke-width="0.65"/>
<circle cx="329.80" cy="67.22" r="1.6" fill="#fff" stroke="#949494" stroke-width="0.65"/>
<circle cx="330.75" cy="66.13" r="1.6" fill="#fff" stroke="#949494" stroke-width="0.65"/>
<circle cx="331.70" cy="65.04" r="1.6" fill="#fff" stroke="#949494" stroke-width="0.65"/>
<circle cx="332.65" cy="63.97" r="1.6" fill="#fff" stroke="#949494" stroke-width="0.65"/>
<circle cx="333.60" cy="62.93" r="1.6" fill="#fff" stroke="#949494" stroke-width="0.65"/>
<circle cx="334.55" cy="61.94" r="1.6" fill="#fff" stroke="#949494" stroke-width="0.65"/>
<circle cx="335.50" cy="61.00" r="1.6" fill="#fff" stroke="#949494" stroke-width="0.65"/>
<circle cx="336.45" cy="60.13" r="1.6" fill="#fff" stroke="#949494" stroke-width="0.65"/>
<circle cx="337.40" cy="59.35" r="1.6" fill="#fff" stroke="#949494" stroke-width="0.65"/>
<circle cx="338.35" cy="58.65" r="1.6" fill="#fff" stroke="#949494" stroke-width="0.65"/>
<circle cx="339.30" cy="58.01" r="1.6" fill="#fff" stroke="#949494" stroke-width="0.65"/>
<circle cx="340.25" cy="57.40" r="1.6" fill="#fff" stroke="#949494" stroke-width="0.65"/>
<circle cx="341.20" cy="56.83" r="1.6" fill="#fff" stroke="#949494" stroke-width="0.65"/>
<circle cx="342.15" cy="56.28" r="1.6" fill="#fff" stroke="#949494" stroke-width="0.65"/>
<circle cx="343.10" cy="55.77" r="1.6" fill="#fff" stroke="#949494" stroke-width="0.65"/>
<circle cx="344.05" cy="55.28" r="1.6" fill="#fff" stroke="#949494" stroke-width="0.65"/>
<circle cx="345.00" cy="54.82" r="1.6" fill="#fff" stroke="#949494" stroke-width="0.65"/>
<circle cx="345.95" cy="54.38" r="1.6" fill="#fff" stroke="#949494" stroke-width="0.65"/>
<circle cx="346.90" cy="53.96" r="1.6" fill="#fff" stroke="#949494" stroke-width="0.65"/>
<circle cx="347.85" cy="53.56" r="1.6" fill="#fff" stroke="#949494" stroke-width="0.65"/>
<circle cx="348.80" cy="53.18" r="1.6" fill="#fff" stroke="#949494" stroke-width="0.65"/>
<circle cx="349.75" cy="52.82" r="1.6" fill="#fff" stroke="#949494" stroke-width="0.65"/>
<circle cx="350.70" cy="52.48" r="1.6" fill="#fff" stroke="#949494" stroke-width="0.65"/>
<circle cx="351.65" cy="52.15" r="1.6" fill="#fff" stroke="#949494" stroke-width="0.65"/>
<circle cx="352.60" cy="51.84" r="1.6" fill="#fff" stroke="#949494" stroke-width="0.65"/>
<circle cx="353.55" cy="51.54" r="1.6" fill="#fff" stroke="#949494" stroke-width="0.65"/>
<circle cx="354.50" cy="51.25" r="1.6" fill="#fff" stroke="#949494" stroke-width="0.65"/>
<circle cx="355.45" cy="50.96" r="1.6" fill="#fff" stroke="#949494" stroke-width="0.65"/>
<circle cx="356.40" cy="50.68" r="1.6" fill="#fff" stroke="#949494" stroke-width="0.65"/>
<circle cx="357.35" cy="50.40" r="1.6" fill="#fff" stroke="#949494" stroke-width="0.65"/>
<circle cx="358.30" cy="50.12" r="1.6" fill="#fff" stroke="#949494" stroke-width="0.65"/>
<circle cx="359.25" cy="49.84" r="1.6" fill="#fff" stroke="#949494" stroke-width="0.65"/>
<circle cx="360.20" cy="49.56" r="1.6" fill="#fff" stroke="#949494" stroke-width="0.65"/>
<circle cx="361.15" cy="49.29" r="1.6" fill="#fff" stroke="#949494" stroke-width="0.65"/>
<circle cx="362.10" cy="49.03" r="1.6" fill="#fff" stroke="#949494" stroke-width="0.65"/>
<circle cx="363.05" cy="48.76" r="1.6" fill="#fff" stroke="#949494" stroke-width="0.65"/>
<circle cx="364.00" cy="48.50" r="1.6" fill="#fff" stroke="#949494" stroke-width="0.65"/>
<circle cx="364.95" cy="48.25" r="1.6" fill="#fff" stroke="#949494" stroke-width="0.65"/>
<circle cx="365.90" cy="48.00" r="1.6" fill="#fff" stroke="#949494" stroke-width="0.65"/>
<circle cx="366.85" cy="47.75" r="1.6" fill="#fff" stroke="#949494" stroke-width="0.65"/>
<circle cx="367.80" cy="47.51" r="1.6" fill="#fff" stroke="#949494" stroke-width="0.65"/>
<circle cx="368.75" cy="47.28" r="1.6" fill="#fff" stroke="#949494" stroke-width="0.65"/>
<circle cx="369.70" cy="47.05" r="1.6" fill="#fff" stroke="#949494" stroke-width="0.65"/>
<circle cx="370.65" cy="46.82" r="1.6" fill="#fff" stroke="#949494" stroke-width="0.65"/>
<circle cx="371.60" cy="46.60" r="1.6" fill="#fff" stroke="#949494" stroke-width="0.65"/>
<circle cx="372.55" cy="46.39" r="1.6" fill="#fff" stroke="#949494" stroke-width="0.65"/>
<circle cx="373.50" cy="46.18" r="1.6" fill="#fff" stroke="#949494" stroke-width="0.65"/>
<circle cx="374.45" cy="45.97" r="1.6" fill="#fff" stroke="#949494" stroke-width="0.65"/>
<circle cx="375.40" cy="45.76" r="1.6" fill="#fff" stroke="#949494" stroke-width="0.65"/>
<circle cx="376.35" cy="45.55" r="1.6" fill="#fff" stroke="#949494" stroke-width="0.65"/>
<circle cx="377.30" cy="45.34" r="1.6" fill="#fff" stroke="#949494" stroke-width="0.65"/>
<circle cx="378.25" cy="45.15" r="1.6" fill="#fff" stroke="#949494" stroke-width="0.65"/>
<circle cx="379.20" cy="44.95" r="1.6" fill="#fff" stroke="#949494" stroke-width="0.65"/>
<circle cx="380.15" cy="44.77" r="1.6" fill="#fff" stroke="#949494" stroke-width="0.65"/>
<circle cx="381.10" cy="44.59" r="1.6" fill="#fff" stroke="#949494" stroke-width="0.65"/>
<circle cx="382.05" cy="44.43" r="1.6" fill="#fff" stroke="#949494" stroke-width="0.65"/>
<circle cx="383.00" cy="44.28" r="1.6" fill="#fff" stroke="#949494" stroke-width="0.65"/>
<circle cx="383.95" cy="44.14" r="1.6" fill="#fff" stroke="#949494" stroke-width="0.65"/>
<circle cx="384.90" cy="44.01" r="1.6" fill="#fff" stroke="#949494" stroke-width="0.65"/>
<circle cx="385.85" cy="43.90" r="1.6" fill="#fff" stroke="#949494" stroke-width="0.65"/>
<circle cx="386.80" cy="43.79" r="1.6" fill="#fff" stroke="#949494" stroke-width="0.65"/>
<circle cx="387.75" cy="43.68" r="1.6" fill="#fff" stroke="#949494" stroke-width="0.65"/>
<circle cx="388.70" cy="43.57" r="1.6" fill="#fff" stroke="#949494" stroke-width="0.65"/>
<circle cx="389.65" cy="43.46" r="1.6" fill="#fff" stroke="#949494" stroke-width="0.65"/>
<circle cx="390.60" cy="43.36" r="1.6" fill="#fff" stroke="#949494" stroke-width="0.65"/>
<circle cx="391.55" cy="43.27" r="1.6" fill="#fff" stroke="#949494" stroke-width="0.65"/>
<circle cx="392.50" cy="43.18" r="1.6" fill="#fff" stroke="#949494" stroke-width="0.65"/>
<circle cx="393.45" cy="43.09" r="1.6" fill="#fff" stroke="#949494" stroke-width="0.65"/>
<circle cx="394.40" cy="43.01" r="1.6" fill="#fff" stroke="#949494" stroke-width="0.65"/>
<circle cx="395.35" cy="42.94" r="1.6" fill="#fff" stroke="#949494" stroke-width="0.65"/>
<circle cx="396.30" cy="42.88" r="1.6" fill="#fff" stroke="#949494" stroke-width="0.65"/>
<circle cx="397.25" cy="42.82" r="1.6" fill="#fff" stroke="#949494" stroke-width="0.65"/>
<circle cx="398.20" cy="42.77" r="1.6" fill="#fff" stroke="#949494" stroke-width="0.65"/>
<circle cx="399.15" cy="42.73" r="1.6" fill="#fff" stroke="#949494" stroke-width="0.65"/>
<circle cx="400.10" cy="42.70" r="1.6" fill="#fff" stroke="#949494" stroke-width="0.65"/>
<circle cx="401.05" cy="42.67" r="1.6" fill="#fff" stroke="#949494" stroke-width="0.65"/>
<circle cx="402.00" cy="42.65" r="1.6" fill="#fff" stroke="#949494" stroke-width="0.65"/>
<circle cx="402.95" cy="42.62" r="1.6" fill="#fff" stroke="#949494" stroke-width="0.65"/>
<circle cx="403.90" cy="42.60" r="1.6" fill="#fff" stroke="#949494" stroke-width="0.65"/>
<circle cx="404.85" cy="42.58" r="1.6" fill="#fff" stroke="#949494" stroke-width="0.65"/>
<circle cx="405.80" cy="42.56" r="1.6" fill="#fff" stroke="#949494" stroke-width="0.65"/>
<circle cx="406.75" cy="42.54" r="1.6" fill="#fff" stroke="#949494" stroke-width="0.65"/>
<circle cx="407.70" cy="42.53" r="1.6" fill="#fff" stroke="#949494" stroke-width="0.65"/>
<circle cx="408.65" cy="42.51" r="1.6" fill="#fff" stroke="#949494" stroke-width="0.65"/>
<circle cx="409.60" cy="42.50" r="1.6" fill="#fff" stroke="#949494" stroke-width="0.65"/>
<circle cx="410.55" cy="42.48" r="1.6" fill="#fff" stroke="#949494" stroke-width="0.65"/>
<circle cx="411.50" cy="42.47" r="1.6" fill="#fff" stroke="#949494" stroke-width="0.65"/>
<circle cx="412.45" cy="42.46" r="1.6" fill="#fff" stroke="#949494" stroke-width="0.65"/>
<circle cx="413.40" cy="42.44" r="1.6" fill="#fff" stroke="#949494" stroke-width="0.65"/>
<circle cx="414.35" cy="42.43" r="1.6" fill="#fff" stroke="#949494" stroke-width="0.65"/>
<circle cx="415.30" cy="42.42" r="1.6" fill="#fff" stroke="#949494" stroke-width="0.65"/>
<circle cx="416.25" cy="42.41" r="1.6" fill="#fff" stroke="#949494" stroke-width="0.65"/>
<circle cx="417.20" cy="42.40" r="1.6" fill="#fff" stroke="#949494" stroke-width="0.65"/>
<circle cx="418.15" cy="42.39" r="1.6" fill="#fff" stroke="#949494" stroke-width="0.65"/>
<circle cx="419.10" cy="42.37" r="1.6" fill="#fff" stroke="#949494" stroke-width="0.65"/>
<circle cx="420.05" cy="42.36" r="1.6" fill="#fff" stroke="#949494" stroke-width="0.65"/>
<circle cx="421.00" cy="42.35" r="1.6" fill="#fff" stroke="#949494" stroke-width="0.65"/>
<circle cx="421.95" cy="42.33" r="1.6" fill="#fff" stroke="#949494" stroke-width="0.65"/>
<circle cx="422.90" cy="42.32" r="1.6" fill="#fff" stroke="#949494" stroke-width="0.65"/>
<circle cx="423.85" cy="42.31" r="1.6" fill="#fff" stroke="#949494" stroke-width="0.65"/>
<circle cx="424.20" cy="42.30" r="1.6" fill="#fff" stroke="#949494" stroke-width="0.65"/>
<circle cx="269.00" cy="110.00" r="1.75" fill="#3a3a3a" stroke="#3a3a3a" stroke-width="0.0"/>
<circle cx="269.87" cy="110.00" r="1.75" fill="#3a3a3a" stroke="#3a3a3a" stroke-width="0.0"/>
<circle cx="270.74" cy="110.00" r="1.75" fill="#3a3a3a" stroke="#3a3a3a" stroke-width="0.0"/>
<circle cx="271.61" cy="110.00" r="1.75" fill="#3a3a3a" stroke="#3a3a3a" stroke-width="0.0"/>
<circle cx="272.48" cy="110.00" r="1.75" fill="#3a3a3a" stroke="#3a3a3a" stroke-width="0.0"/>
<circle cx="273.35" cy="110.00" r="1.75" fill="#3a3a3a" stroke="#3a3a3a" stroke-width="0.0"/>
<circle cx="274.22" cy="110.00" r="1.75" fill="#3a3a3a" stroke="#3a3a3a" stroke-width="0.0"/>
<circle cx="275.09" cy="110.00" r="1.75" fill="#3a3a3a" stroke="#3a3a3a" stroke-width="0.0"/>
<circle cx="275.96" cy="110.00" r="1.75" fill="#3a3a3a" stroke="#3a3a3a" stroke-width="0.0"/>
<circle cx="276.83" cy="110.00" r="1.75" fill="#3a3a3a" stroke="#3a3a3a" stroke-width="0.0"/>
<circle cx="277.70" cy="110.00" r="1.75" fill="#3a3a3a" stroke="#3a3a3a" stroke-width="0.0"/>
<circle cx="278.57" cy="110.00" r="1.75" fill="#3a3a3a" stroke="#3a3a3a" stroke-width="0.0"/>
<circle cx="279.44" cy="110.00" r="1.75" fill="#3a3a3a" stroke="#3a3a3a" stroke-width="0.0"/>
<circle cx="280.31" cy="110.00" r="1.75" fill="#3a3a3a" stroke="#3a3a3a" stroke-width="0.0"/>
<circle cx="281.18" cy="110.00" r="1.75" fill="#3a3a3a" stroke="#3a3a3a" stroke-width="0.0"/>
<circle cx="282.05" cy="110.00" r="1.75" fill="#3a3a3a" stroke="#3a3a3a" stroke-width="0.0"/>
<circle cx="282.92" cy="110.00" r="1.75" fill="#3a3a3a" stroke="#3a3a3a" stroke-width="0.0"/>
<circle cx="283.79" cy="110.00" r="1.75" fill="#3a3a3a" stroke="#3a3a3a" stroke-width="0.0"/>
<circle cx="284.66" cy="110.00" r="1.75" fill="#3a3a3a" stroke="#3a3a3a" stroke-width="0.0"/>
<circle cx="285.53" cy="110.00" r="1.75" fill="#3a3a3a" stroke="#3a3a3a" stroke-width="0.0"/>
<circle cx="286.40" cy="110.00" r="1.75" fill="#3a3a3a" stroke="#3a3a3a" stroke-width="0.0"/>
<circle cx="287.27" cy="110.00" r="1.75" fill="#3a3a3a" stroke="#3a3a3a" stroke-width="0.0"/>
<circle cx="288.14" cy="110.00" r="1.75" fill="#3a3a3a" stroke="#3a3a3a" stroke-width="0.0"/>
<circle cx="289.01" cy="110.00" r="1.75" fill="#3a3a3a" stroke="#3a3a3a" stroke-width="0.0"/>
<circle cx="289.88" cy="110.00" r="1.75" fill="#3a3a3a" stroke="#3a3a3a" stroke-width="0.0"/>
<circle cx="290.75" cy="110.00" r="1.75" fill="#3a3a3a" stroke="#3a3a3a" stroke-width="0.0"/>
<circle cx="291.62" cy="110.00" r="1.75" fill="#3a3a3a" stroke="#3a3a3a" stroke-width="0.0"/>
<circle cx="292.49" cy="110.00" r="1.75" fill="#3a3a3a" stroke="#3a3a3a" stroke-width="0.0"/>
<circle cx="293.36" cy="110.00" r="1.75" fill="#3a3a3a" stroke="#3a3a3a" stroke-width="0.0"/>
<circle cx="294.23" cy="110.00" r="1.75" fill="#3a3a3a" stroke="#3a3a3a" stroke-width="0.0"/>
<circle cx="295.10" cy="110.00" r="1.75" fill="#3a3a3a" stroke="#3a3a3a" stroke-width="0.0"/>
<circle cx="295.97" cy="110.00" r="1.75" fill="#3a3a3a" stroke="#3a3a3a" stroke-width="0.0"/>
<circle cx="296.84" cy="110.00" r="1.75" fill="#3a3a3a" stroke="#3a3a3a" stroke-width="0.0"/>
<circle cx="297.71" cy="110.00" r="1.75" fill="#3a3a3a" stroke="#3a3a3a" stroke-width="0.0"/>
<circle cx="298.58" cy="110.00" r="1.75" fill="#3a3a3a" stroke="#3a3a3a" stroke-width="0.0"/>
<circle cx="299.45" cy="110.00" r="1.75" fill="#3a3a3a" stroke="#3a3a3a" stroke-width="0.0"/>
<circle cx="300.32" cy="110.00" r="1.75" fill="#3a3a3a" stroke="#3a3a3a" stroke-width="0.0"/>
<circle cx="301.19" cy="110.00" r="1.75" fill="#3a3a3a" stroke="#3a3a3a" stroke-width="0.0"/>
<circle cx="302.06" cy="109.99" r="1.75" fill="#3a3a3a" stroke="#3a3a3a" stroke-width="0.0"/>
<circle cx="302.93" cy="109.99" r="1.75" fill="#3a3a3a" stroke="#3a3a3a" stroke-width="0.0"/>
<circle cx="303.80" cy="109.98" r="1.75" fill="#3a3a3a" stroke="#3a3a3a" stroke-width="0.0"/>
<circle cx="304.67" cy="109.97" r="1.75" fill="#3a3a3a" stroke="#3a3a3a" stroke-width="0.0"/>
<circle cx="305.54" cy="109.96" r="1.75" fill="#3a3a3a" stroke="#3a3a3a" stroke-width="0.0"/>
<circle cx="306.41" cy="109.94" r="1.75" fill="#3a3a3a" stroke="#3a3a3a" stroke-width="0.0"/>
<circle cx="307.28" cy="109.92" r="1.75" fill="#3a3a3a" stroke="#3a3a3a" stroke-width="0.0"/>
<circle cx="308.15" cy="109.90" r="1.75" fill="#3a3a3a" stroke="#3a3a3a" stroke-width="0.0"/>
<circle cx="309.02" cy="109.87" r="1.75" fill="#3a3a3a" stroke="#3a3a3a" stroke-width="0.0"/>
<circle cx="309.89" cy="109.84" r="1.75" fill="#3a3a3a" stroke="#3a3a3a" stroke-width="0.0"/>
<circle cx="310.76" cy="109.81" r="1.75" fill="#3a3a3a" stroke="#3a3a3a" stroke-width="0.0"/>
<circle cx="311.63" cy="109.73" r="1.75" fill="#3a3a3a" stroke="#3a3a3a" stroke-width="0.0"/>
<circle cx="312.50" cy="109.49" r="1.75" fill="#3a3a3a" stroke="#3a3a3a" stroke-width="0.0"/>
<circle cx="313.37" cy="109.12" r="1.75" fill="#3a3a3a" stroke="#3a3a3a" stroke-width="0.0"/>
<circle cx="314.24" cy="108.65" r="1.75" fill="#3a3a3a" stroke="#3a3a3a" stroke-width="0.0"/>
<circle cx="315.11" cy="107.99" r="1.75" fill="#3a3a3a" stroke="#3a3a3a" stroke-width="0.0"/>
<circle cx="315.98" cy="106.85" r="1.75" fill="#3a3a3a" stroke="#3a3a3a" stroke-width="0.0"/>
<circle cx="316.85" cy="105.33" r="1.75" fill="#3a3a3a" stroke="#3a3a3a" stroke-width="0.0"/>
<circle cx="317.72" cy="103.48" r="1.75" fill="#3a3a3a" stroke="#3a3a3a" stroke-width="0.0"/>
<circle cx="318.59" cy="100.69" r="1.75" fill="#3a3a3a" stroke="#3a3a3a" stroke-width="0.0"/>
<circle cx="319.46" cy="97.31" r="1.75" fill="#3a3a3a" stroke="#3a3a3a" stroke-width="0.0"/>
<circle cx="320.33" cy="93.98" r="1.75" fill="#3a3a3a" stroke="#3a3a3a" stroke-width="0.0"/>
<circle cx="321.20" cy="90.50" r="1.75" fill="#3a3a3a" stroke="#3a3a3a" stroke-width="0.0"/>
<circle cx="322.07" cy="86.85" r="1.75" fill="#3a3a3a" stroke="#3a3a3a" stroke-width="0.0"/>
<circle cx="322.94" cy="82.97" r="1.75" fill="#3a3a3a" stroke="#3a3a3a" stroke-width="0.0"/>
<circle cx="323.81" cy="78.56" r="1.75" fill="#3a3a3a" stroke="#3a3a3a" stroke-width="0.0"/>
<circle cx="324.68" cy="74.22" r="1.75" fill="#3a3a3a" stroke="#3a3a3a" stroke-width="0.0"/>
<circle cx="325.55" cy="70.67" r="1.75" fill="#3a3a3a" stroke="#3a3a3a" stroke-width="0.0"/>
<circle cx="326.42" cy="67.96" r="1.75" fill="#3a3a3a" stroke="#3a3a3a" stroke-width="0.0"/>
<circle cx="327.29" cy="65.53" r="1.75" fill="#3a3a3a" stroke="#3a3a3a" stroke-width="0.0"/>
<circle cx="328.16" cy="63.37" r="1.75" fill="#3a3a3a" stroke="#3a3a3a" stroke-width="0.0"/>
<circle cx="329.03" cy="61.44" r="1.75" fill="#3a3a3a" stroke="#3a3a3a" stroke-width="0.0"/>
<circle cx="329.90" cy="59.73" r="1.75" fill="#3a3a3a" stroke="#3a3a3a" stroke-width="0.0"/>
<circle cx="330.77" cy="58.22" r="1.75" fill="#3a3a3a" stroke="#3a3a3a" stroke-width="0.0"/>
<circle cx="331.64" cy="56.86" r="1.75" fill="#3a3a3a" stroke="#3a3a3a" stroke-width="0.0"/>
<circle cx="332.51" cy="55.61" r="1.75" fill="#3a3a3a" stroke="#3a3a3a" stroke-width="0.0"/>
<circle cx="333.38" cy="54.46" r="1.75" fill="#3a3a3a" stroke="#3a3a3a" stroke-width="0.0"/>
<circle cx="334.25" cy="53.39" r="1.75" fill="#3a3a3a" stroke="#3a3a3a" stroke-width="0.0"/>
<circle cx="335.12" cy="52.38" r="1.75" fill="#3a3a3a" stroke="#3a3a3a" stroke-width="0.0"/>
<circle cx="335.99" cy="51.43" r="1.75" fill="#3a3a3a" stroke="#3a3a3a" stroke-width="0.0"/>
<circle cx="336.86" cy="50.50" r="1.75" fill="#3a3a3a" stroke="#3a3a3a" stroke-width="0.0"/>
<circle cx="337.73" cy="49.59" r="1.75" fill="#3a3a3a" stroke="#3a3a3a" stroke-width="0.0"/>
<circle cx="338.60" cy="48.69" r="1.75" fill="#3a3a3a" stroke="#3a3a3a" stroke-width="0.0"/>
<circle cx="339.47" cy="47.80" r="1.75" fill="#3a3a3a" stroke="#3a3a3a" stroke-width="0.0"/>
<circle cx="340.34" cy="46.93" r="1.75" fill="#3a3a3a" stroke="#3a3a3a" stroke-width="0.0"/>
<circle cx="341.21" cy="46.08" r="1.75" fill="#3a3a3a" stroke="#3a3a3a" stroke-width="0.0"/>
<circle cx="342.08" cy="45.26" r="1.75" fill="#3a3a3a" stroke="#3a3a3a" stroke-width="0.0"/>
<circle cx="342.95" cy="44.47" r="1.75" fill="#3a3a3a" stroke="#3a3a3a" stroke-width="0.0"/>
<circle cx="343.82" cy="43.71" r="1.75" fill="#3a3a3a" stroke="#3a3a3a" stroke-width="0.0"/>
<circle cx="344.69" cy="42.98" r="1.75" fill="#3a3a3a" stroke="#3a3a3a" stroke-width="0.0"/>
<circle cx="345.56" cy="42.28" r="1.75" fill="#3a3a3a" stroke="#3a3a3a" stroke-width="0.0"/>
<circle cx="346.43" cy="41.62" r="1.75" fill="#3a3a3a" stroke="#3a3a3a" stroke-width="0.0"/>
<circle cx="347.30" cy="41.00" r="1.75" fill="#3a3a3a" stroke="#3a3a3a" stroke-width="0.0"/>
<circle cx="348.17" cy="40.40" r="1.75" fill="#3a3a3a" stroke="#3a3a3a" stroke-width="0.0"/>
<circle cx="349.04" cy="39.83" r="1.75" fill="#3a3a3a" stroke="#3a3a3a" stroke-width="0.0"/>
<circle cx="349.91" cy="39.28" r="1.75" fill="#3a3a3a" stroke="#3a3a3a" stroke-width="0.0"/>
<circle cx="350.78" cy="38.75" r="1.75" fill="#3a3a3a" stroke="#3a3a3a" stroke-width="0.0"/>
<circle cx="351.65" cy="38.24" r="1.75" fill="#3a3a3a" stroke="#3a3a3a" stroke-width="0.0"/>
<circle cx="352.52" cy="37.75" r="1.75" fill="#3a3a3a" stroke="#3a3a3a" stroke-width="0.0"/>
<circle cx="353.39" cy="37.27" r="1.75" fill="#3a3a3a" stroke="#3a3a3a" stroke-width="0.0"/>
<circle cx="354.26" cy="36.79" r="1.75" fill="#3a3a3a" stroke="#3a3a3a" stroke-width="0.0"/>
<circle cx="355.13" cy="36.33" r="1.75" fill="#3a3a3a" stroke="#3a3a3a" stroke-width="0.0"/>
<circle cx="356.00" cy="35.88" r="1.75" fill="#3a3a3a" stroke="#3a3a3a" stroke-width="0.0"/>
<circle cx="356.87" cy="35.43" r="1.75" fill="#3a3a3a" stroke="#3a3a3a" stroke-width="0.0"/>
<circle cx="357.74" cy="35.00" r="1.75" fill="#3a3a3a" stroke="#3a3a3a" stroke-width="0.0"/>
<circle cx="358.61" cy="34.58" r="1.75" fill="#3a3a3a" stroke="#3a3a3a" stroke-width="0.0"/>
<circle cx="359.48" cy="34.17" r="1.75" fill="#3a3a3a" stroke="#3a3a3a" stroke-width="0.0"/>
<circle cx="360.35" cy="33.77" r="1.75" fill="#3a3a3a" stroke="#3a3a3a" stroke-width="0.0"/>
<circle cx="361.22" cy="33.39" r="1.75" fill="#3a3a3a" stroke="#3a3a3a" stroke-width="0.0"/>
<circle cx="362.09" cy="33.02" r="1.75" fill="#3a3a3a" stroke="#3a3a3a" stroke-width="0.0"/>
<circle cx="362.96" cy="32.66" r="1.75" fill="#3a3a3a" stroke="#3a3a3a" stroke-width="0.0"/>
<circle cx="363.83" cy="32.31" r="1.75" fill="#3a3a3a" stroke="#3a3a3a" stroke-width="0.0"/>
<circle cx="364.70" cy="31.99" r="1.75" fill="#3a3a3a" stroke="#3a3a3a" stroke-width="0.0"/>
<circle cx="365.57" cy="31.67" r="1.75" fill="#3a3a3a" stroke="#3a3a3a" stroke-width="0.0"/>
<circle cx="366.44" cy="31.37" r="1.75" fill="#3a3a3a" stroke="#3a3a3a" stroke-width="0.0"/>
<circle cx="367.31" cy="31.07" r="1.75" fill="#3a3a3a" stroke="#3a3a3a" stroke-width="0.0"/>
<circle cx="368.18" cy="30.78" r="1.75" fill="#3a3a3a" stroke="#3a3a3a" stroke-width="0.0"/>
<circle cx="369.05" cy="30.48" r="1.75" fill="#3a3a3a" stroke="#3a3a3a" stroke-width="0.0"/>
<circle cx="369.92" cy="30.18" r="1.75" fill="#3a3a3a" stroke="#3a3a3a" stroke-width="0.0"/>
<circle cx="370.79" cy="29.88" r="1.75" fill="#3a3a3a" stroke="#3a3a3a" stroke-width="0.0"/>
<circle cx="371.66" cy="29.58" r="1.75" fill="#3a3a3a" stroke="#3a3a3a" stroke-width="0.0"/>
<circle cx="372.53" cy="29.28" r="1.75" fill="#3a3a3a" stroke="#3a3a3a" stroke-width="0.0"/>
<circle cx="373.40" cy="28.98" r="1.75" fill="#3a3a3a" stroke="#3a3a3a" stroke-width="0.0"/>
<circle cx="374.27" cy="28.69" r="1.75" fill="#3a3a3a" stroke="#3a3a3a" stroke-width="0.0"/>
<circle cx="375.14" cy="28.41" r="1.75" fill="#3a3a3a" stroke="#3a3a3a" stroke-width="0.0"/>
<circle cx="376.01" cy="28.14" r="1.75" fill="#3a3a3a" stroke="#3a3a3a" stroke-width="0.0"/>
<circle cx="376.88" cy="27.89" r="1.75" fill="#3a3a3a" stroke="#3a3a3a" stroke-width="0.0"/>
<circle cx="377.75" cy="27.66" r="1.75" fill="#3a3a3a" stroke="#3a3a3a" stroke-width="0.0"/>
<circle cx="378.62" cy="27.45" r="1.75" fill="#3a3a3a" stroke="#3a3a3a" stroke-width="0.0"/>
<circle cx="379.49" cy="27.24" r="1.75" fill="#3a3a3a" stroke="#3a3a3a" stroke-width="0.0"/>
<circle cx="380.36" cy="27.03" r="1.75" fill="#3a3a3a" stroke="#3a3a3a" stroke-width="0.0"/>
<circle cx="381.23" cy="26.83" r="1.75" fill="#3a3a3a" stroke="#3a3a3a" stroke-width="0.0"/>
<circle cx="382.10" cy="26.63" r="1.75" fill="#3a3a3a" stroke="#3a3a3a" stroke-width="0.0"/>
<circle cx="382.97" cy="26.44" r="1.75" fill="#3a3a3a" stroke="#3a3a3a" stroke-width="0.0"/>
<circle cx="383.84" cy="26.26" r="1.75" fill="#3a3a3a" stroke="#3a3a3a" stroke-width="0.0"/>
<circle cx="384.71" cy="26.09" r="1.75" fill="#3a3a3a" stroke="#3a3a3a" stroke-width="0.0"/>
<circle cx="385.58" cy="25.94" r="1.75" fill="#3a3a3a" stroke="#3a3a3a" stroke-width="0.0"/>
<circle cx="386.45" cy="25.79" r="1.75" fill="#3a3a3a" stroke="#3a3a3a" stroke-width="0.0"/>
<circle cx="387.32" cy="25.66" r="1.75" fill="#3a3a3a" stroke="#3a3a3a" stroke-width="0.0"/>
<circle cx="388.19" cy="25.55" r="1.75" fill="#3a3a3a" stroke="#3a3a3a" stroke-width="0.0"/>
<circle cx="389.06" cy="25.45" r="1.75" fill="#3a3a3a" stroke="#3a3a3a" stroke-width="0.0"/>
<circle cx="389.93" cy="25.35" r="1.75" fill="#3a3a3a" stroke="#3a3a3a" stroke-width="0.0"/>
<circle cx="390.80" cy="25.26" r="1.75" fill="#3a3a3a" stroke="#3a3a3a" stroke-width="0.0"/>
<circle cx="391.67" cy="25.17" r="1.75" fill="#3a3a3a" stroke="#3a3a3a" stroke-width="0.0"/>
<circle cx="392.54" cy="25.09" r="1.75" fill="#3a3a3a" stroke="#3a3a3a" stroke-width="0.0"/>
<circle cx="393.41" cy="25.01" r="1.75" fill="#3a3a3a" stroke="#3a3a3a" stroke-width="0.0"/>
<circle cx="394.28" cy="24.94" r="1.75" fill="#3a3a3a" stroke="#3a3a3a" stroke-width="0.0"/>
<circle cx="395.15" cy="24.87" r="1.75" fill="#3a3a3a" stroke="#3a3a3a" stroke-width="0.0"/>
<circle cx="396.02" cy="24.81" r="1.75" fill="#3a3a3a" stroke="#3a3a3a" stroke-width="0.0"/>
<circle cx="396.89" cy="24.75" r="1.75" fill="#3a3a3a" stroke="#3a3a3a" stroke-width="0.0"/>
<circle cx="397.76" cy="24.70" r="1.75" fill="#3a3a3a" stroke="#3a3a3a" stroke-width="0.0"/>
<circle cx="398.63" cy="24.66" r="1.75" fill="#3a3a3a" stroke="#3a3a3a" stroke-width="0.0"/>
<circle cx="399.50" cy="24.62" r="1.75" fill="#3a3a3a" stroke="#3a3a3a" stroke-width="0.0"/>
<circle cx="400.37" cy="24.59" r="1.75" fill="#3a3a3a" stroke="#3a3a3a" stroke-width="0.0"/>
<circle cx="401.24" cy="24.56" r="1.75" fill="#3a3a3a" stroke="#3a3a3a" stroke-width="0.0"/>
<circle cx="402.11" cy="24.53" r="1.75" fill="#3a3a3a" stroke="#3a3a3a" stroke-width="0.0"/>
<circle cx="402.98" cy="24.51" r="1.75" fill="#3a3a3a" stroke="#3a3a3a" stroke-width="0.0"/>
<circle cx="403.85" cy="24.48" r="1.75" fill="#3a3a3a" stroke="#3a3a3a" stroke-width="0.0"/>
<circle cx="404.72" cy="24.46" r="1.75" fill="#3a3a3a" stroke="#3a3a3a" stroke-width="0.0"/>
<circle cx="405.59" cy="24.44" r="1.75" fill="#3a3a3a" stroke="#3a3a3a" stroke-width="0.0"/>
<circle cx="406.46" cy="24.42" r="1.75" fill="#3a3a3a" stroke="#3a3a3a" stroke-width="0.0"/>
<circle cx="407.33" cy="24.40" r="1.75" fill="#3a3a3a" stroke="#3a3a3a" stroke-width="0.0"/>
<circle cx="408.20" cy="24.38" r="1.75" fill="#3a3a3a" stroke="#3a3a3a" stroke-width="0.0"/>
<circle cx="409.07" cy="24.36" r="1.75" fill="#3a3a3a" stroke="#3a3a3a" stroke-width="0.0"/>
<circle cx="409.94" cy="24.34" r="1.75" fill="#3a3a3a" stroke="#3a3a3a" stroke-width="0.0"/>
<circle cx="410.81" cy="24.33" r="1.75" fill="#3a3a3a" stroke="#3a3a3a" stroke-width="0.0"/>
<circle cx="411.68" cy="24.31" r="1.75" fill="#3a3a3a" stroke="#3a3a3a" stroke-width="0.0"/>
<circle cx="412.55" cy="24.30" r="1.75" fill="#3a3a3a" stroke="#3a3a3a" stroke-width="0.0"/>
<circle cx="413.42" cy="24.28" r="1.75" fill="#3a3a3a" stroke="#3a3a3a" stroke-width="0.0"/>
<circle cx="414.29" cy="24.27" r="1.75" fill="#3a3a3a" stroke="#3a3a3a" stroke-width="0.0"/>
<circle cx="415.16" cy="24.26" r="1.75" fill="#3a3a3a" stroke="#3a3a3a" stroke-width="0.0"/>
<circle cx="416.03" cy="24.24" r="1.75" fill="#3a3a3a" stroke="#3a3a3a" stroke-width="0.0"/>
<circle cx="416.90" cy="24.23" r="1.75" fill="#3a3a3a" stroke="#3a3a3a" stroke-width="0.0"/>
<circle cx="417.77" cy="24.21" r="1.75" fill="#3a3a3a" stroke="#3a3a3a" stroke-width="0.0"/>
<circle cx="418.64" cy="24.20" r="1.75" fill="#3a3a3a" stroke="#3a3a3a" stroke-width="0.0"/>
<circle cx="419.51" cy="24.19" r="1.75" fill="#3a3a3a" stroke="#3a3a3a" stroke-width="0.0"/>
<circle cx="420.38" cy="24.17" r="1.75" fill="#3a3a3a" stroke="#3a3a3a" stroke-width="0.0"/>
<circle cx="421.25" cy="24.16" r="1.75" fill="#3a3a3a" stroke="#3a3a3a" stroke-width="0.0"/>
<circle cx="422.12" cy="24.14" r="1.75" fill="#3a3a3a" stroke="#3a3a3a" stroke-width="0.0"/>
<circle cx="422.99" cy="24.12" r="1.75" fill="#3a3a3a" stroke="#3a3a3a" stroke-width="0.0"/>
<circle cx="423.86" cy="24.11" r="1.75" fill="#3a3a3a" stroke="#3a3a3a" stroke-width="0.0"/>
<circle cx="424.20" cy="24.10" r="1.75" fill="#3a3a3a" stroke="#3a3a3a" stroke-width="0.0"/>
<circle cx="269.00" cy="124.30" r="1.9" fill="#e82828" stroke="#e82828" stroke-width="0.0"/>
<circle cx="269.87" cy="124.30" r="1.9" fill="#e82828" stroke="#e82828" stroke-width="0.0"/>
<circle cx="270.74" cy="124.30" r="1.9" fill="#e82828" stroke="#e82828" stroke-width="0.0"/>
<circle cx="271.61" cy="124.30" r="1.9" fill="#e82828" stroke="#e82828" stroke-width="0.0"/>
<circle cx="272.48" cy="124.30" r="1.9" fill="#e82828" stroke="#e82828" stroke-width="0.0"/>
<circle cx="273.35" cy="124.30" r="1.9" fill="#e82828" stroke="#e82828" stroke-width="0.0"/>
<circle cx="274.22" cy="124.30" r="1.9" fill="#e82828" stroke="#e82828" stroke-width="0.0"/>
<circle cx="275.09" cy="124.30" r="1.9" fill="#e82828" stroke="#e82828" stroke-width="0.0"/>
<circle cx="275.96" cy="124.30" r="1.9" fill="#e82828" stroke="#e82828" stroke-width="0.0"/>
<circle cx="276.83" cy="124.30" r="1.9" fill="#e82828" stroke="#e82828" stroke-width="0.0"/>
<circle cx="277.70" cy="124.30" r="1.9" fill="#e82828" stroke="#e82828" stroke-width="0.0"/>
<circle cx="278.57" cy="124.30" r="1.9" fill="#e82828" stroke="#e82828" stroke-width="0.0"/>
<circle cx="279.44" cy="124.30" r="1.9" fill="#e82828" stroke="#e82828" stroke-width="0.0"/>
<circle cx="280.31" cy="124.30" r="1.9" fill="#e82828" stroke="#e82828" stroke-width="0.0"/>
<circle cx="281.18" cy="124.30" r="1.9" fill="#e82828" stroke="#e82828" stroke-width="0.0"/>
<circle cx="282.05" cy="124.30" r="1.9" fill="#e82828" stroke="#e82828" stroke-width="0.0"/>
<circle cx="282.92" cy="124.30" r="1.9" fill="#e82828" stroke="#e82828" stroke-width="0.0"/>
<circle cx="283.79" cy="124.30" r="1.9" fill="#e82828" stroke="#e82828" stroke-width="0.0"/>
<circle cx="284.66" cy="124.30" r="1.9" fill="#e82828" stroke="#e82828" stroke-width="0.0"/>
<circle cx="285.53" cy="124.30" r="1.9" fill="#e82828" stroke="#e82828" stroke-width="0.0"/>
<circle cx="286.40" cy="124.30" r="1.9" fill="#e82828" stroke="#e82828" stroke-width="0.0"/>
<circle cx="287.27" cy="124.30" r="1.9" fill="#e82828" stroke="#e82828" stroke-width="0.0"/>
<circle cx="288.14" cy="124.30" r="1.9" fill="#e82828" stroke="#e82828" stroke-width="0.0"/>
<circle cx="289.01" cy="124.30" r="1.9" fill="#e82828" stroke="#e82828" stroke-width="0.0"/>
<circle cx="289.88" cy="124.30" r="1.9" fill="#e82828" stroke="#e82828" stroke-width="0.0"/>
<circle cx="290.75" cy="124.30" r="1.9" fill="#e82828" stroke="#e82828" stroke-width="0.0"/>
<circle cx="291.62" cy="124.30" r="1.9" fill="#e82828" stroke="#e82828" stroke-width="0.0"/>
<circle cx="292.49" cy="124.30" r="1.9" fill="#e82828" stroke="#e82828" stroke-width="0.0"/>
<circle cx="293.36" cy="124.30" r="1.9" fill="#e82828" stroke="#e82828" stroke-width="0.0"/>
<circle cx="294.23" cy="124.30" r="1.9" fill="#e82828" stroke="#e82828" stroke-width="0.0"/>
<circle cx="295.10" cy="124.30" r="1.9" fill="#e82828" stroke="#e82828" stroke-width="0.0"/>
<circle cx="295.97" cy="124.30" r="1.9" fill="#e82828" stroke="#e82828" stroke-width="0.0"/>
<circle cx="296.84" cy="124.30" r="1.9" fill="#e82828" stroke="#e82828" stroke-width="0.0"/>
<circle cx="297.71" cy="124.30" r="1.9" fill="#e82828" stroke="#e82828" stroke-width="0.0"/>
<circle cx="298.58" cy="124.30" r="1.9" fill="#e82828" stroke="#e82828" stroke-width="0.0"/>
<circle cx="299.45" cy="123.85" r="1.9" fill="#e82828" stroke="#e82828" stroke-width="0.0"/>
<circle cx="300.32" cy="120.90" r="1.9" fill="#e82828" stroke="#e82828" stroke-width="0.0"/>
<circle cx="301.19" cy="102.31" r="1.9" fill="#e82828" stroke="#e82828" stroke-width="0.0"/>
<circle cx="302.06" cy="85.76" r="1.9" fill="#e82828" stroke="#e82828" stroke-width="0.0"/>
<circle cx="302.93" cy="74.50" r="1.9" fill="#e82828" stroke="#e82828" stroke-width="0.0"/>
<circle cx="303.80" cy="68.11" r="1.9" fill="#e82828" stroke="#e82828" stroke-width="0.0"/>
<circle cx="304.67" cy="63.79" r="1.9" fill="#e82828" stroke="#e82828" stroke-width="0.0"/>
<circle cx="305.54" cy="60.55" r="1.9" fill="#e82828" stroke="#e82828" stroke-width="0.0"/>
<circle cx="306.41" cy="57.79" r="1.9" fill="#e82828" stroke="#e82828" stroke-width="0.0"/>
<circle cx="307.28" cy="55.33" r="1.9" fill="#e82828" stroke="#e82828" stroke-width="0.0"/>
<circle cx="308.15" cy="53.31" r="1.9" fill="#e82828" stroke="#e82828" stroke-width="0.0"/>
<circle cx="309.02" cy="51.89" r="1.9" fill="#e82828" stroke="#e82828" stroke-width="0.0"/>
<circle cx="309.89" cy="50.95" r="1.9" fill="#e82828" stroke="#e82828" stroke-width="0.0"/>
<circle cx="310.76" cy="50.13" r="1.9" fill="#e82828" stroke="#e82828" stroke-width="0.0"/>
<circle cx="311.63" cy="49.41" r="1.9" fill="#e82828" stroke="#e82828" stroke-width="0.0"/>
<circle cx="312.50" cy="48.82" r="1.9" fill="#e82828" stroke="#e82828" stroke-width="0.0"/>
<circle cx="313.37" cy="48.34" r="1.9" fill="#e82828" stroke="#e82828" stroke-width="0.0"/>
<circle cx="314.24" cy="47.99" r="1.9" fill="#e82828" stroke="#e82828" stroke-width="0.0"/>
<circle cx="315.11" cy="47.75" r="1.9" fill="#e82828" stroke="#e82828" stroke-width="0.0"/>
<circle cx="315.98" cy="47.57" r="1.9" fill="#e82828" stroke="#e82828" stroke-width="0.0"/>
<circle cx="316.85" cy="47.39" r="1.9" fill="#e82828" stroke="#e82828" stroke-width="0.0"/>
<circle cx="317.72" cy="47.23" r="1.9" fill="#e82828" stroke="#e82828" stroke-width="0.0"/>
<circle cx="318.59" cy="47.09" r="1.9" fill="#e82828" stroke="#e82828" stroke-width="0.0"/>
<circle cx="319.46" cy="46.95" r="1.9" fill="#e82828" stroke="#e82828" stroke-width="0.0"/>
<circle cx="320.33" cy="46.83" r="1.9" fill="#e82828" stroke="#e82828" stroke-width="0.0"/>
<circle cx="321.20" cy="46.72" r="1.9" fill="#e82828" stroke="#e82828" stroke-width="0.0"/>
<circle cx="322.07" cy="46.62" r="1.9" fill="#e82828" stroke="#e82828" stroke-width="0.0"/>
<circle cx="322.94" cy="46.53" r="1.9" fill="#e82828" stroke="#e82828" stroke-width="0.0"/>
<circle cx="323.81" cy="46.46" r="1.9" fill="#e82828" stroke="#e82828" stroke-width="0.0"/>
<circle cx="324.68" cy="46.39" r="1.9" fill="#e82828" stroke="#e82828" stroke-width="0.0"/>
<circle cx="325.55" cy="46.33" r="1.9" fill="#e82828" stroke="#e82828" stroke-width="0.0"/>
<circle cx="326.42" cy="46.28" r="1.9" fill="#e82828" stroke="#e82828" stroke-width="0.0"/>
<circle cx="327.29" cy="46.23" r="1.9" fill="#e82828" stroke="#e82828" stroke-width="0.0"/>
<circle cx="328.16" cy="46.20" r="1.9" fill="#e82828" stroke="#e82828" stroke-width="0.0"/>
<circle cx="329.03" cy="46.17" r="1.9" fill="#e82828" stroke="#e82828" stroke-width="0.0"/>
<circle cx="329.90" cy="46.14" r="1.9" fill="#e82828" stroke="#e82828" stroke-width="0.0"/>
<circle cx="330.77" cy="46.11" r="1.9" fill="#e82828" stroke="#e82828" stroke-width="0.0"/>
<circle cx="331.64" cy="46.08" r="1.9" fill="#e82828" stroke="#e82828" stroke-width="0.0"/>
<circle cx="332.51" cy="46.05" r="1.9" fill="#e82828" stroke="#e82828" stroke-width="0.0"/>
<circle cx="333.38" cy="46.03" r="1.9" fill="#e82828" stroke="#e82828" stroke-width="0.0"/>
<circle cx="334.25" cy="46.00" r="1.9" fill="#e82828" stroke="#e82828" stroke-width="0.0"/>
<circle cx="335.12" cy="45.98" r="1.9" fill="#e82828" stroke="#e82828" stroke-width="0.0"/>
<circle cx="335.99" cy="45.95" r="1.9" fill="#e82828" stroke="#e82828" stroke-width="0.0"/>
<circle cx="336.86" cy="45.93" r="1.9" fill="#e82828" stroke="#e82828" stroke-width="0.0"/>
<circle cx="337.73" cy="45.91" r="1.9" fill="#e82828" stroke="#e82828" stroke-width="0.0"/>
<circle cx="338.60" cy="45.89" r="1.9" fill="#e82828" stroke="#e82828" stroke-width="0.0"/>
<circle cx="339.47" cy="45.87" r="1.9" fill="#e82828" stroke="#e82828" stroke-width="0.0"/>
<circle cx="340.34" cy="45.85" r="1.9" fill="#e82828" stroke="#e82828" stroke-width="0.0"/>
<circle cx="341.21" cy="45.83" r="1.9" fill="#e82828" stroke="#e82828" stroke-width="0.0"/>
<circle cx="342.08" cy="45.81" r="1.9" fill="#e82828" stroke="#e82828" stroke-width="0.0"/>
<circle cx="342.95" cy="45.80" r="1.9" fill="#e82828" stroke="#e82828" stroke-width="0.0"/>
<circle cx="343.82" cy="45.78" r="1.9" fill="#e82828" stroke="#e82828" stroke-width="0.0"/>
<circle cx="344.69" cy="45.77" r="1.9" fill="#e82828" stroke="#e82828" stroke-width="0.0"/>
<circle cx="345.56" cy="45.75" r="1.9" fill="#e82828" stroke="#e82828" stroke-width="0.0"/>
<circle cx="346.43" cy="45.74" r="1.9" fill="#e82828" stroke="#e82828" stroke-width="0.0"/>
<circle cx="347.30" cy="45.72" r="1.9" fill="#e82828" stroke="#e82828" stroke-width="0.0"/>
<circle cx="348.17" cy="45.71" r="1.9" fill="#e82828" stroke="#e82828" stroke-width="0.0"/>
<circle cx="349.04" cy="45.70" r="1.9" fill="#e82828" stroke="#e82828" stroke-width="0.0"/>
<circle cx="349.91" cy="45.68" r="1.9" fill="#e82828" stroke="#e82828" stroke-width="0.0"/>
<circle cx="350.78" cy="45.67" r="1.9" fill="#e82828" stroke="#e82828" stroke-width="0.0"/>
<circle cx="351.65" cy="45.66" r="1.9" fill="#e82828" stroke="#e82828" stroke-width="0.0"/>
<circle cx="352.52" cy="45.65" r="1.9" fill="#e82828" stroke="#e82828" stroke-width="0.0"/>
<circle cx="353.39" cy="45.64" r="1.9" fill="#e82828" stroke="#e82828" stroke-width="0.0"/>
<circle cx="354.26" cy="45.63" r="1.9" fill="#e82828" stroke="#e82828" stroke-width="0.0"/>
<circle cx="355.13" cy="45.62" r="1.9" fill="#e82828" stroke="#e82828" stroke-width="0.0"/>
<circle cx="356.00" cy="45.61" r="1.9" fill="#e82828" stroke="#e82828" stroke-width="0.0"/>
<circle cx="356.87" cy="45.59" r="1.9" fill="#e82828" stroke="#e82828" stroke-width="0.0"/>
<circle cx="357.74" cy="45.58" r="1.9" fill="#e82828" stroke="#e82828" stroke-width="0.0"/>
<circle cx="358.61" cy="45.57" r="1.9" fill="#e82828" stroke="#e82828" stroke-width="0.0"/>
<circle cx="359.48" cy="45.56" r="1.9" fill="#e82828" stroke="#e82828" stroke-width="0.0"/>
<circle cx="360.35" cy="45.55" r="1.9" fill="#e82828" stroke="#e82828" stroke-width="0.0"/>
<circle cx="361.22" cy="45.54" r="1.9" fill="#e82828" stroke="#e82828" stroke-width="0.0"/>
<circle cx="362.09" cy="45.53" r="1.9" fill="#e82828" stroke="#e82828" stroke-width="0.0"/>
<circle cx="362.96" cy="45.52" r="1.9" fill="#e82828" stroke="#e82828" stroke-width="0.0"/>
<circle cx="363.83" cy="45.51" r="1.9" fill="#e82828" stroke="#e82828" stroke-width="0.0"/>
<circle cx="364.70" cy="45.50" r="1.9" fill="#e82828" stroke="#e82828" stroke-width="0.0"/>
<circle cx="365.57" cy="45.49" r="1.9" fill="#e82828" stroke="#e82828" stroke-width="0.0"/>
<circle cx="366.44" cy="45.48" r="1.9" fill="#e82828" stroke="#e82828" stroke-width="0.0"/>
<circle cx="367.31" cy="45.47" r="1.9" fill="#e82828" stroke="#e82828" stroke-width="0.0"/>
<circle cx="368.18" cy="45.46" r="1.9" fill="#e82828" stroke="#e82828" stroke-width="0.0"/>
<circle cx="369.05" cy="45.45" r="1.9" fill="#e82828" stroke="#e82828" stroke-width="0.0"/>
<circle cx="369.92" cy="45.44" r="1.9" fill="#e82828" stroke="#e82828" stroke-width="0.0"/>
<circle cx="370.79" cy="45.43" r="1.9" fill="#e82828" stroke="#e82828" stroke-width="0.0"/>
<circle cx="371.66" cy="45.42" r="1.9" fill="#e82828" stroke="#e82828" stroke-width="0.0"/>
<circle cx="372.53" cy="45.42" r="1.9" fill="#e82828" stroke="#e82828" stroke-width="0.0"/>
<circle cx="373.40" cy="45.41" r="1.9" fill="#e82828" stroke="#e82828" stroke-width="0.0"/>
<circle cx="374.27" cy="45.40" r="1.9" fill="#e82828" stroke="#e82828" stroke-width="0.0"/>
<circle cx="375.14" cy="45.39" r="1.9" fill="#e82828" stroke="#e82828" stroke-width="0.0"/>
<circle cx="376.01" cy="45.38" r="1.9" fill="#e82828" stroke="#e82828" stroke-width="0.0"/>
<circle cx="376.88" cy="45.37" r="1.9" fill="#e82828" stroke="#e82828" stroke-width="0.0"/>
<circle cx="377.75" cy="45.36" r="1.9" fill="#e82828" stroke="#e82828" stroke-width="0.0"/>
<circle cx="378.62" cy="45.36" r="1.9" fill="#e82828" stroke="#e82828" stroke-width="0.0"/>
<circle cx="379.49" cy="45.35" r="1.9" fill="#e82828" stroke="#e82828" stroke-width="0.0"/>
<circle cx="380.36" cy="45.34" r="1.9" fill="#e82828" stroke="#e82828" stroke-width="0.0"/>
<circle cx="381.23" cy="45.33" r="1.9" fill="#e82828" stroke="#e82828" stroke-width="0.0"/>
<circle cx="382.10" cy="45.32" r="1.9" fill="#e82828" stroke="#e82828" stroke-width="0.0"/>
<circle cx="382.97" cy="45.32" r="1.9" fill="#e82828" stroke="#e82828" stroke-width="0.0"/>
<circle cx="383.84" cy="45.31" r="1.9" fill="#e82828" stroke="#e82828" stroke-width="0.0"/>
<circle cx="384.71" cy="45.30" r="1.9" fill="#e82828" stroke="#e82828" stroke-width="0.0"/>
<circle cx="385.58" cy="45.29" r="1.9" fill="#e82828" stroke="#e82828" stroke-width="0.0"/>
<circle cx="386.45" cy="45.29" r="1.9" fill="#e82828" stroke="#e82828" stroke-width="0.0"/>
<circle cx="387.32" cy="45.28" r="1.9" fill="#e82828" stroke="#e82828" stroke-width="0.0"/>
<circle cx="388.19" cy="45.27" r="1.9" fill="#e82828" stroke="#e82828" stroke-width="0.0"/>
<circle cx="389.06" cy="45.27" r="1.9" fill="#e82828" stroke="#e82828" stroke-width="0.0"/>
<circle cx="389.93" cy="45.26" r="1.9" fill="#e82828" stroke="#e82828" stroke-width="0.0"/>
<circle cx="390.80" cy="45.25" r="1.9" fill="#e82828" stroke="#e82828" stroke-width="0.0"/>
<circle cx="391.67" cy="45.25" r="1.9" fill="#e82828" stroke="#e82828" stroke-width="0.0"/>
<circle cx="392.54" cy="45.24" r="1.9" fill="#e82828" stroke="#e82828" stroke-width="0.0"/>
<circle cx="393.41" cy="45.23" r="1.9" fill="#e82828" stroke="#e82828" stroke-width="0.0"/>
<circle cx="394.28" cy="45.23" r="1.9" fill="#e82828" stroke="#e82828" stroke-width="0.0"/>
<circle cx="395.15" cy="45.22" r="1.9" fill="#e82828" stroke="#e82828" stroke-width="0.0"/>
<circle cx="396.02" cy="45.21" r="1.9" fill="#e82828" stroke="#e82828" stroke-width="0.0"/>
<circle cx="396.89" cy="45.21" r="1.9" fill="#e82828" stroke="#e82828" stroke-width="0.0"/>
<circle cx="397.76" cy="45.20" r="1.9" fill="#e82828" stroke="#e82828" stroke-width="0.0"/>
<circle cx="398.63" cy="45.19" r="1.9" fill="#e82828" stroke="#e82828" stroke-width="0.0"/>
<circle cx="399.50" cy="45.19" r="1.9" fill="#e82828" stroke="#e82828" stroke-width="0.0"/>
<circle cx="400.37" cy="45.18" r="1.9" fill="#e82828" stroke="#e82828" stroke-width="0.0"/>
<circle cx="401.24" cy="45.17" r="1.9" fill="#e82828" stroke="#e82828" stroke-width="0.0"/>
<circle cx="402.11" cy="45.17" r="1.9" fill="#e82828" stroke="#e82828" stroke-width="0.0"/>
<circle cx="402.98" cy="45.16" r="1.9" fill="#e82828" stroke="#e82828" stroke-width="0.0"/>
<circle cx="403.85" cy="45.16" r="1.9" fill="#e82828" stroke="#e82828" stroke-width="0.0"/>
<circle cx="404.72" cy="45.15" r="1.9" fill="#e82828" stroke="#e82828" stroke-width="0.0"/>
<circle cx="405.59" cy="45.14" r="1.9" fill="#e82828" stroke="#e82828" stroke-width="0.0"/>
<circle cx="406.46" cy="45.14" r="1.9" fill="#e82828" stroke="#e82828" stroke-width="0.0"/>
<circle cx="407.33" cy="45.13" r="1.9" fill="#e82828" stroke="#e82828" stroke-width="0.0"/>
<circle cx="408.20" cy="45.12" r="1.9" fill="#e82828" stroke="#e82828" stroke-width="0.0"/>
<circle cx="409.07" cy="45.12" r="1.9" fill="#e82828" stroke="#e82828" stroke-width="0.0"/>
<circle cx="409.94" cy="45.11" r="1.9" fill="#e82828" stroke="#e82828" stroke-width="0.0"/>
<circle cx="410.81" cy="45.10" r="1.9" fill="#e82828" stroke="#e82828" stroke-width="0.0"/>
<circle cx="411.68" cy="45.10" r="1.9" fill="#e82828" stroke="#e82828" stroke-width="0.0"/>
<circle cx="412.55" cy="45.09" r="1.9" fill="#e82828" stroke="#e82828" stroke-width="0.0"/>
<circle cx="413.42" cy="45.09" r="1.9" fill="#e82828" stroke="#e82828" stroke-width="0.0"/>
<circle cx="414.29" cy="45.08" r="1.9" fill="#e82828" stroke="#e82828" stroke-width="0.0"/>
<circle cx="415.16" cy="45.07" r="1.9" fill="#e82828" stroke="#e82828" stroke-width="0.0"/>
<circle cx="416.03" cy="45.07" r="1.9" fill="#e82828" stroke="#e82828" stroke-width="0.0"/>
<circle cx="416.90" cy="45.06" r="1.9" fill="#e82828" stroke="#e82828" stroke-width="0.0"/>
<circle cx="417.77" cy="45.05" r="1.9" fill="#e82828" stroke="#e82828" stroke-width="0.0"/>
<circle cx="418.64" cy="45.05" r="1.9" fill="#e82828" stroke="#e82828" stroke-width="0.0"/>
<circle cx="419.51" cy="45.04" r="1.9" fill="#e82828" stroke="#e82828" stroke-width="0.0"/>
<circle cx="420.38" cy="45.03" r="1.9" fill="#e82828" stroke="#e82828" stroke-width="0.0"/>
<circle cx="421.25" cy="45.02" r="1.9" fill="#e82828" stroke="#e82828" stroke-width="0.0"/>
<circle cx="422.12" cy="45.02" r="1.9" fill="#e82828" stroke="#e82828" stroke-width="0.0"/>
<circle cx="422.99" cy="45.01" r="1.9" fill="#e82828" stroke="#e82828" stroke-width="0.0"/>
<circle cx="423.86" cy="45.00" r="1.9" fill="#e82828" stroke="#e82828" stroke-width="0.0"/>
<circle cx="424.20" cy="45.00" r="1.9" fill="#e82828" stroke="#e82828" stroke-width="0.0"/>
<polyline points="269.00,124.60 269.25,124.60 269.50,124.60 269.75,124.60 270.00,124.60 270.25,124.60 270.50,124.60 270.75,124.60 271.00,124.60 271.25,124.60 271.50,124.60 271.75,124.60 272.00,124.60 272.25,124.60 272.50,124.60 272.75,124.60 273.00,124.60 273.25,124.60 273.50,124.60 273.75,124.60 274.00,124.60 274.25,124.60 274.50,124.60 274.75,124.60 275.00,124.60 275.25,124.60 275.50,124.60 275.75,124.60 276.00,124.60 276.25,124.60 276.50,124.60 276.75,124.60 277.00,124.60 277.25,124.60 277.50,124.60 277.75,124.60 278.00,124.60 278.25,124.60 278.50,124.60 278.75,124.60 279.00,124.60 279.25,124.60 279.50,124.60 279.75,124.60 280.00,124.60 280.25,124.60 280.50,124.60 280.75,124.60 281.00,124.60 281.25,124.60 281.50,124.60 281.75,124.60 282.00,124.60 282.25,124.60 282.50,124.60 282.75,124.60 283.00,124.60 283.25,124.60 283.50,124.60 283.75,124.60 284.00,124.60 284.25,124.60 284.50,124.60 284.75,124.60 285.00,124.60 285.25,124.60 285.50,124.60 285.75,124.60 286.00,124.60 286.25,124.60 286.50,124.60 286.75,124.60 287.00,124.60 287.25,124.60 287.50,124.60 287.75,124.60 288.00,124.60 288.25,124.60 288.50,124.60 288.75,124.60 289.00,124.60 289.25,124.60 289.50,124.60 289.75,124.60 290.00,124.60 290.25,124.60 290.50,124.60 290.75,124.60 291.00,124.60 291.25,124.60 291.50,124.60 291.75,124.60 292.00,124.60 292.25,124.60 292.50,124.60 292.75,124.60 293.00,124.60 293.25,124.60 293.50,124.60 293.75,124.60 294.00,124.60 294.25,124.60 294.50,124.60 294.75,124.60 295.00,124.60 295.25,124.60 295.50,124.60 295.75,124.60 296.00,124.60 296.25,124.60 296.50,124.60 296.75,124.60 297.00,124.60 297.25,124.60 297.50,124.60 297.75,124.60 298.00,124.60 298.25,124.60 298.50,124.60 298.75,124.60 299.00,124.60 299.25,124.59 299.50,124.19 299.75,123.33 300.00,122.13 300.25,120.63 300.50,116.91 300.75,111.01 301.00,104.21 301.25,97.82 301.50,93.12 301.75,90.78 302.00,88.95 302.25,87.36 302.50,85.97 302.75,84.75 303.00,83.67 303.25,82.68 303.50,81.76 303.75,80.86 304.00,79.97 304.25,79.03 304.50,78.05 304.75,77.06 305.00,76.08 305.25,75.15 305.50,74.29 305.75,73.54 306.00,72.93 306.25,72.48 306.50,72.24 306.75,72.18 307.00,72.14 307.25,72.11 307.50,72.07 307.75,72.05 308.00,72.02 308.25,72.00 308.50,71.98 308.75,71.96 309.00,71.94 309.25,71.93 309.50,71.91 309.75,71.90 310.00,71.89 310.25,71.88 310.50,71.86 310.75,71.85 311.00,71.84 311.25,71.83 311.50,71.82 311.75,71.81 312.00,71.80 312.25,71.79 312.50,71.78 312.75,71.76 313.00,71.75 313.25,71.74 313.50,71.73 313.75,71.72 314.00,71.71 314.25,71.70 314.50,71.69 314.75,71.68 315.00,71.67 315.25,71.65 315.50,71.64 315.75,71.63 316.00,71.63 316.25,71.62 316.50,71.61 316.75,71.60 317.00,71.59 317.25,71.58 317.50,71.57 317.75,71.56 318.00,71.55 318.25,71.54 318.50,71.54 318.75,71.53 319.00,71.52 319.25,71.51 319.50,71.50 319.75,71.49 320.00,71.49 320.25,71.48 320.50,71.47 320.75,71.46 321.00,71.46 321.25,71.45 321.50,71.44 321.75,71.43 322.00,71.43 322.25,71.42 322.50,71.41 322.75,71.40 323.00,71.40 323.25,71.39 323.50,71.38 323.75,71.38 324.00,71.37 324.25,71.36 324.50,71.35 324.75,71.35 325.00,71.34 325.25,71.33 325.50,71.33 325.75,71.32 326.00,71.31 326.25,71.31 326.50,71.30 326.75,71.29 327.00,71.29 327.25,71.28 327.50,71.27 327.75,71.26 328.00,71.26 328.25,71.25 328.50,71.24 328.75,71.24 329.00,71.23 329.25,71.22 329.50,71.21 329.75,71.21 330.00,71.20 330.25,71.19 330.50,71.19 330.75,71.18 331.00,71.17 331.25,71.16 331.50,71.16 331.75,71.15 332.00,71.14 332.25,71.14 332.50,71.13 332.75,71.12 333.00,71.11 333.25,71.11 333.50,71.10 333.75,71.09 334.00,71.09 334.25,71.08 334.50,71.07 334.75,71.07 335.00,71.06 335.25,71.05 335.50,71.05 335.75,71.04 336.00,71.04 336.25,71.03 336.50,71.02 336.75,71.02 337.00,71.01 337.25,71.00 337.50,71.00 337.75,70.99 338.00,70.98 338.25,70.98 338.50,70.97 338.75,70.97 339.00,70.96 339.25,70.95 339.50,70.95 339.75,70.94 340.00,70.94 340.25,70.93 340.50,70.92 340.75,70.92 341.00,70.91 341.25,70.91 341.50,70.90 341.75,70.89 342.00,70.89 342.25,70.88 342.50,70.88 342.75,70.87 343.00,70.86 343.25,70.86 343.50,70.85 343.75,70.85 344.00,70.84 344.25,70.83 344.50,70.83 344.75,70.82 345.00,70.82 345.25,70.81 345.50,70.80 345.75,70.80 346.00,70.79 346.25,70.79 346.50,70.78 346.75,70.78 347.00,70.77 347.25,70.76 347.50,70.76 347.75,70.75 348.00,70.75 348.25,70.74 348.50,70.73 348.75,70.73 349.00,70.72 349.25,70.72 349.50,70.71 349.75,70.71 350.00,70.70 350.25,70.69 350.50,70.69 350.75,70.68 351.00,70.68 351.25,70.67 351.50,70.66 351.75,70.66 352.00,70.65 352.25,70.65 352.50,70.64 352.75,70.63 353.00,70.63 353.25,70.62 353.50,70.62 353.75,70.61 354.00,70.60 354.25,70.60 354.50,70.59 354.75,70.58 355.00,70.58 355.25,70.57 355.50,70.57 355.75,70.56 356.00,70.55 356.25,70.55 356.50,70.54 356.75,70.53 357.00,70.53 357.25,70.52 357.50,70.51 357.75,70.51 358.00,70.50 358.25,70.49 358.50,70.49 358.75,70.48 359.00,70.47 359.25,70.47 359.50,70.46 359.75,70.45 360.00,70.45 360.25,70.44 360.50,70.43 360.75,70.43 361.00,70.42 361.25,70.41 361.50,70.40 361.75,70.40 362.00,70.39 362.25,70.38 362.50,70.38 362.75,70.37 363.00,70.36 363.25,70.35 363.50,70.35 363.75,70.34 364.00,70.33 364.25,70.32 364.50,70.32 364.75,70.31 365.00,70.30 365.25,70.29 365.50,70.28 365.75,70.28 366.00,70.27 366.25,70.26 366.50,70.25 366.75,70.24 367.00,70.24 367.25,70.23 367.50,70.22 367.75,70.21 368.00,70.20 368.25,70.19 368.50,70.19 368.75,70.18 369.00,70.17 369.25,70.16 369.50,70.15 369.75,70.14 370.00,70.13 370.25,70.13 370.50,70.12 370.75,70.11 371.00,70.10 371.25,70.09 371.50,70.08 371.75,70.07 372.00,70.06 372.25,70.05 372.50,70.05 372.75,70.04 373.00,70.03 373.25,70.02 373.50,70.01 373.75,70.00 374.00,69.99 374.25,69.98 374.50,69.97 374.75,69.96 375.00,69.95 375.25,69.94 375.50,69.93 375.75,69.92 376.00,69.92 376.25,69.91 376.50,69.90 376.75,69.89 377.00,69.88 377.25,69.87 377.50,69.86 377.75,69.85 378.00,69.84 378.25,69.83 378.50,69.82 378.75,69.81 379.00,69.80 379.25,69.79 379.50,69.78 379.75,69.77 380.00,69.76 380.25,69.75 380.50,69.74 380.75,69.73 381.00,69.72 381.25,69.71 381.50,69.70 381.75,69.69 382.00,69.68 382.25,69.67 382.50,69.66 382.75,69.65 383.00,69.64 383.25,69.62 383.50,69.61 383.75,69.60 384.00,69.59 384.25,69.58 384.50,69.57 384.75,69.56 385.00,69.55 385.25,69.54 385.50,69.53 385.75,69.52 386.00,69.51 386.25,69.50 386.50,69.49 386.75,69.48 387.00,69.47 387.25,69.46 387.50,69.44 387.75,69.43 388.00,69.42 388.25,69.41 388.50,69.40 388.75,69.39 389.00,69.38 389.25,69.37 389.50,69.36 389.75,69.35 390.00,69.34 390.25,69.32 390.50,69.31 390.75,69.30 391.00,69.29 391.25,69.28 391.50,69.27 391.75,69.26 392.00,69.25 392.25,69.24 392.50,69.22 392.75,69.21 393.00,69.20 393.25,69.19 393.50,69.18 393.75,69.17 394.00,69.16 394.25,69.15 394.50,69.14 394.75,69.12 395.00,69.11 395.25,69.10 395.50,69.09 395.75,69.08 396.00,69.07 396.25,69.06 396.50,69.05 396.75,69.03 397.00,69.02 397.25,69.01 397.50,69.00 397.75,68.99 398.00,68.98 398.25,68.97 398.50,68.95 398.75,68.94 399.00,68.93 399.25,68.92 399.50,68.91 399.75,68.90 400.00,68.89 400.25,68.87 400.50,68.86 400.75,68.85 401.00,68.84 401.25,68.83 401.50,68.82 401.75,68.81 402.00,68.79 402.25,68.78 402.50,68.77 402.75,68.76 403.00,68.75 403.25,68.74 403.50,68.73 403.75,68.71 404.00,68.70 404.25,68.69 404.50,68.68 404.75,68.67 405.00,68.66 405.25,68.65 405.50,68.63 405.75,68.62 406.00,68.61 406.25,68.60 406.50,68.59 406.75,68.58 407.00,68.57 407.25,68.55 407.50,68.54 407.75,68.53 408.00,68.52 408.25,68.51 408.50,68.50 408.75,68.48 409.00,68.47 409.25,68.46 409.50,68.45 409.75,68.44 410.00,68.43 410.25,68.42 410.50,68.41 410.75,68.39 411.00,68.38 411.25,68.37 411.50,68.36 411.75,68.35 412.00,68.34 412.25,68.33 412.50,68.31 412.75,68.30 413.00,68.29 413.25,68.28 413.50,68.27 413.75,68.26 414.00,68.25 414.25,68.24 414.50,68.22 414.75,68.21 415.00,68.20 415.25,68.19 415.50,68.18 415.75,68.17 416.00,68.16 416.25,68.15 416.50,68.13 416.75,68.12 417.00,68.11 417.25,68.10 417.50,68.09 417.75,68.08 418.00,68.07 418.25,68.06 418.50,68.05 418.75,68.04 419.00,68.02 419.25,68.01 419.50,68.00 419.75,67.99 420.00,67.98 420.25,67.97 420.50,67.96 420.75,67.95 421.00,67.94 421.25,67.93 421.50,67.92 421.75,67.90 422.00,67.89 422.25,67.88 422.50,67.87 422.75,67.86 423.00,67.85 423.25,67.84 423.50,67.83 423.75,67.82 424.00,67.81 424.20,67.80" fill="none" stroke="#f08a8a" stroke-width="0.8" stroke-linejoin="round" stroke-linecap="round"/>
<circle cx="269.00" cy="124.40" r="1.6" fill="#fff" stroke="#f08a8a" stroke-width="0.75"/>
<circle cx="269.87" cy="124.96" r="1.6" fill="#fff" stroke="#f08a8a" stroke-width="0.75"/>
<circle cx="270.74" cy="124.58" r="1.6" fill="#fff" stroke="#f08a8a" stroke-width="0.75"/>
<circle cx="271.61" cy="124.70" r="1.6" fill="#fff" stroke="#f08a8a" stroke-width="0.75"/>
<circle cx="272.48" cy="124.83" r="1.6" fill="#fff" stroke="#f08a8a" stroke-width="0.75"/>
<circle cx="273.35" cy="124.10" r="1.6" fill="#fff" stroke="#f08a8a" stroke-width="0.75"/>
<circle cx="274.22" cy="124.87" r="1.6" fill="#fff" stroke="#f08a8a" stroke-width="0.75"/>
<circle cx="275.09" cy="124.76" r="1.6" fill="#fff" stroke="#f08a8a" stroke-width="0.75"/>
<circle cx="275.96" cy="124.59" r="1.6" fill="#fff" stroke="#f08a8a" stroke-width="0.75"/>
<circle cx="276.83" cy="124.62" r="1.6" fill="#fff" stroke="#f08a8a" stroke-width="0.75"/>
<circle cx="277.70" cy="124.56" r="1.6" fill="#fff" stroke="#f08a8a" stroke-width="0.75"/>
<circle cx="278.57" cy="124.29" r="1.6" fill="#fff" stroke="#f08a8a" stroke-width="0.75"/>
<circle cx="279.44" cy="124.63" r="1.6" fill="#fff" stroke="#f08a8a" stroke-width="0.75"/>
<circle cx="280.31" cy="124.14" r="1.6" fill="#fff" stroke="#f08a8a" stroke-width="0.75"/>
<circle cx="281.18" cy="124.60" r="1.6" fill="#fff" stroke="#f08a8a" stroke-width="0.75"/>
<circle cx="282.05" cy="124.75" r="1.6" fill="#fff" stroke="#f08a8a" stroke-width="0.75"/>
<circle cx="282.92" cy="124.54" r="1.6" fill="#fff" stroke="#f08a8a" stroke-width="0.75"/>
<circle cx="283.79" cy="124.67" r="1.6" fill="#fff" stroke="#f08a8a" stroke-width="0.75"/>
<circle cx="284.66" cy="125.06" r="1.6" fill="#fff" stroke="#f08a8a" stroke-width="0.75"/>
<circle cx="285.53" cy="124.99" r="1.6" fill="#fff" stroke="#f08a8a" stroke-width="0.75"/>
<circle cx="286.40" cy="124.24" r="1.6" fill="#fff" stroke="#f08a8a" stroke-width="0.75"/>
<circle cx="287.27" cy="124.89" r="1.6" fill="#fff" stroke="#f08a8a" stroke-width="0.75"/>
<circle cx="288.14" cy="124.72" r="1.6" fill="#fff" stroke="#f08a8a" stroke-width="0.75"/>
<circle cx="289.01" cy="124.15" r="1.6" fill="#fff" stroke="#f08a8a" stroke-width="0.75"/>
<circle cx="289.88" cy="124.46" r="1.6" fill="#fff" stroke="#f08a8a" stroke-width="0.75"/>
<circle cx="290.75" cy="124.33" r="1.6" fill="#fff" stroke="#f08a8a" stroke-width="0.75"/>
<circle cx="291.62" cy="124.18" r="1.6" fill="#fff" stroke="#f08a8a" stroke-width="0.75"/>
<circle cx="292.49" cy="124.64" r="1.6" fill="#fff" stroke="#f08a8a" stroke-width="0.75"/>
<circle cx="293.36" cy="125.03" r="1.6" fill="#fff" stroke="#f08a8a" stroke-width="0.75"/>
<circle cx="294.23" cy="124.42" r="1.6" fill="#fff" stroke="#f08a8a" stroke-width="0.75"/>
<circle cx="295.10" cy="124.97" r="1.6" fill="#fff" stroke="#f08a8a" stroke-width="0.75"/>
<circle cx="295.97" cy="124.79" r="1.6" fill="#fff" stroke="#f08a8a" stroke-width="0.75"/>
<circle cx="296.84" cy="124.23" r="1.6" fill="#fff" stroke="#f08a8a" stroke-width="0.75"/>
<circle cx="297.71" cy="124.96" r="1.6" fill="#fff" stroke="#f08a8a" stroke-width="0.75"/>
<circle cx="298.58" cy="124.70" r="1.6" fill="#fff" stroke="#f08a8a" stroke-width="0.75"/>
<circle cx="299.45" cy="124.74" r="1.6" fill="#fff" stroke="#f08a8a" stroke-width="0.75"/>
<circle cx="300.32" cy="120.10" r="1.6" fill="#fff" stroke="#f08a8a" stroke-width="0.75"/>
<circle cx="301.19" cy="99.48" r="1.6" fill="#fff" stroke="#f08a8a" stroke-width="0.75"/>
<circle cx="302.06" cy="88.39" r="1.6" fill="#fff" stroke="#f08a8a" stroke-width="0.75"/>
<circle cx="302.93" cy="84.27" r="1.6" fill="#fff" stroke="#f08a8a" stroke-width="0.75"/>
<circle cx="303.80" cy="81.12" r="1.6" fill="#fff" stroke="#f08a8a" stroke-width="0.75"/>
<circle cx="304.67" cy="77.74" r="1.6" fill="#fff" stroke="#f08a8a" stroke-width="0.75"/>
<circle cx="305.54" cy="74.10" r="1.6" fill="#fff" stroke="#f08a8a" stroke-width="0.75"/>
<circle cx="306.41" cy="72.56" r="1.6" fill="#fff" stroke="#f08a8a" stroke-width="0.75"/>
<circle cx="307.28" cy="72.09" r="1.6" fill="#fff" stroke="#f08a8a" stroke-width="0.75"/>
<circle cx="308.15" cy="71.62" r="1.6" fill="#fff" stroke="#f08a8a" stroke-width="0.75"/>
<circle cx="309.02" cy="71.48" r="1.6" fill="#fff" stroke="#f08a8a" stroke-width="0.75"/>
<circle cx="309.89" cy="71.47" r="1.6" fill="#fff" stroke="#f08a8a" stroke-width="0.75"/>
<circle cx="310.76" cy="71.55" r="1.6" fill="#fff" stroke="#f08a8a" stroke-width="0.75"/>
<circle cx="311.63" cy="71.48" r="1.6" fill="#fff" stroke="#f08a8a" stroke-width="0.75"/>
<circle cx="312.50" cy="71.77" r="1.6" fill="#fff" stroke="#f08a8a" stroke-width="0.75"/>
<circle cx="313.37" cy="71.93" r="1.6" fill="#fff" stroke="#f08a8a" stroke-width="0.75"/>
<circle cx="314.24" cy="71.73" r="1.6" fill="#fff" stroke="#f08a8a" stroke-width="0.75"/>
<circle cx="315.11" cy="71.58" r="1.6" fill="#fff" stroke="#f08a8a" stroke-width="0.75"/>
<circle cx="315.98" cy="71.78" r="1.6" fill="#fff" stroke="#f08a8a" stroke-width="0.75"/>
<circle cx="316.85" cy="71.40" r="1.6" fill="#fff" stroke="#f08a8a" stroke-width="0.75"/>
<circle cx="317.72" cy="71.53" r="1.6" fill="#fff" stroke="#f08a8a" stroke-width="0.75"/>
<circle cx="318.59" cy="71.79" r="1.6" fill="#fff" stroke="#f08a8a" stroke-width="0.75"/>
<circle cx="319.46" cy="71.40" r="1.6" fill="#fff" stroke="#f08a8a" stroke-width="0.75"/>
<circle cx="320.33" cy="71.16" r="1.6" fill="#fff" stroke="#f08a8a" stroke-width="0.75"/>
<circle cx="321.20" cy="71.85" r="1.6" fill="#fff" stroke="#f08a8a" stroke-width="0.75"/>
<circle cx="322.07" cy="71.64" r="1.6" fill="#fff" stroke="#f08a8a" stroke-width="0.75"/>
<circle cx="322.94" cy="71.27" r="1.6" fill="#fff" stroke="#f08a8a" stroke-width="0.75"/>
<circle cx="323.81" cy="71.24" r="1.6" fill="#fff" stroke="#f08a8a" stroke-width="0.75"/>
<circle cx="324.68" cy="71.38" r="1.6" fill="#fff" stroke="#f08a8a" stroke-width="0.75"/>
<circle cx="325.55" cy="71.42" r="1.6" fill="#fff" stroke="#f08a8a" stroke-width="0.75"/>
<circle cx="326.42" cy="71.03" r="1.6" fill="#fff" stroke="#f08a8a" stroke-width="0.75"/>
<circle cx="327.29" cy="70.78" r="1.6" fill="#fff" stroke="#f08a8a" stroke-width="0.75"/>
<circle cx="328.16" cy="70.96" r="1.6" fill="#fff" stroke="#f08a8a" stroke-width="0.75"/>
<circle cx="329.03" cy="71.51" r="1.6" fill="#fff" stroke="#f08a8a" stroke-width="0.75"/>
<circle cx="329.90" cy="70.85" r="1.6" fill="#fff" stroke="#f08a8a" stroke-width="0.75"/>
<circle cx="330.77" cy="71.14" r="1.6" fill="#fff" stroke="#f08a8a" stroke-width="0.75"/>
<circle cx="331.64" cy="70.85" r="1.6" fill="#fff" stroke="#f08a8a" stroke-width="0.75"/>
<circle cx="332.51" cy="70.84" r="1.6" fill="#fff" stroke="#f08a8a" stroke-width="0.75"/>
<circle cx="333.38" cy="70.78" r="1.6" fill="#fff" stroke="#f08a8a" stroke-width="0.75"/>
<circle cx="334.25" cy="70.98" r="1.6" fill="#fff" stroke="#f08a8a" stroke-width="0.75"/>
<circle cx="335.12" cy="70.73" r="1.6" fill="#fff" stroke="#f08a8a" stroke-width="0.75"/>
<circle cx="335.99" cy="70.56" r="1.6" fill="#fff" stroke="#f08a8a" stroke-width="0.75"/>
<circle cx="336.86" cy="70.62" r="1.6" fill="#fff" stroke="#f08a8a" stroke-width="0.75"/>
<circle cx="337.73" cy="70.66" r="1.6" fill="#fff" stroke="#f08a8a" stroke-width="0.75"/>
<circle cx="338.60" cy="70.96" r="1.6" fill="#fff" stroke="#f08a8a" stroke-width="0.75"/>
<circle cx="339.47" cy="70.51" r="1.6" fill="#fff" stroke="#f08a8a" stroke-width="0.75"/>
<circle cx="340.34" cy="70.45" r="1.6" fill="#fff" stroke="#f08a8a" stroke-width="0.75"/>
<circle cx="341.21" cy="70.85" r="1.6" fill="#fff" stroke="#f08a8a" stroke-width="0.75"/>
<circle cx="342.08" cy="70.79" r="1.6" fill="#fff" stroke="#f08a8a" stroke-width="0.75"/>
<circle cx="342.95" cy="71.07" r="1.6" fill="#fff" stroke="#f08a8a" stroke-width="0.75"/>
<circle cx="343.82" cy="70.40" r="1.6" fill="#fff" stroke="#f08a8a" stroke-width="0.75"/>
<circle cx="344.69" cy="70.73" r="1.6" fill="#fff" stroke="#f08a8a" stroke-width="0.75"/>
<circle cx="345.56" cy="70.70" r="1.6" fill="#fff" stroke="#f08a8a" stroke-width="0.75"/>
<circle cx="346.43" cy="70.31" r="1.6" fill="#fff" stroke="#f08a8a" stroke-width="0.75"/>
<circle cx="347.30" cy="71.23" r="1.6" fill="#fff" stroke="#f08a8a" stroke-width="0.75"/>
<circle cx="348.17" cy="70.46" r="1.6" fill="#fff" stroke="#f08a8a" stroke-width="0.75"/>
<circle cx="349.04" cy="70.32" r="1.6" fill="#fff" stroke="#f08a8a" stroke-width="0.75"/>
<circle cx="349.91" cy="70.68" r="1.6" fill="#fff" stroke="#f08a8a" stroke-width="0.75"/>
<circle cx="350.78" cy="70.35" r="1.6" fill="#fff" stroke="#f08a8a" stroke-width="0.75"/>
<circle cx="351.65" cy="70.78" r="1.6" fill="#fff" stroke="#f08a8a" stroke-width="0.75"/>
<circle cx="352.52" cy="70.49" r="1.6" fill="#fff" stroke="#f08a8a" stroke-width="0.75"/>
<circle cx="353.39" cy="70.24" r="1.6" fill="#fff" stroke="#f08a8a" stroke-width="0.75"/>
<circle cx="354.26" cy="70.15" r="1.6" fill="#fff" stroke="#f08a8a" stroke-width="0.75"/>
<circle cx="355.13" cy="70.80" r="1.6" fill="#fff" stroke="#f08a8a" stroke-width="0.75"/>
<circle cx="356.00" cy="70.33" r="1.6" fill="#fff" stroke="#f08a8a" stroke-width="0.75"/>
<circle cx="356.87" cy="70.82" r="1.6" fill="#fff" stroke="#f08a8a" stroke-width="0.75"/>
<circle cx="357.74" cy="70.47" r="1.6" fill="#fff" stroke="#f08a8a" stroke-width="0.75"/>
<circle cx="358.61" cy="70.92" r="1.6" fill="#fff" stroke="#f08a8a" stroke-width="0.75"/>
<circle cx="359.48" cy="70.26" r="1.6" fill="#fff" stroke="#f08a8a" stroke-width="0.75"/>
<circle cx="360.35" cy="70.19" r="1.6" fill="#fff" stroke="#f08a8a" stroke-width="0.75"/>
<circle cx="361.22" cy="70.18" r="1.6" fill="#fff" stroke="#f08a8a" stroke-width="0.75"/>
<circle cx="362.09" cy="70.70" r="1.6" fill="#fff" stroke="#f08a8a" stroke-width="0.75"/>
<circle cx="362.96" cy="70.49" r="1.6" fill="#fff" stroke="#f08a8a" stroke-width="0.75"/>
<circle cx="363.83" cy="70.18" r="1.6" fill="#fff" stroke="#f08a8a" stroke-width="0.75"/>
<circle cx="364.70" cy="69.90" r="1.6" fill="#fff" stroke="#f08a8a" stroke-width="0.75"/>
<circle cx="365.57" cy="70.46" r="1.6" fill="#fff" stroke="#f08a8a" stroke-width="0.75"/>
<circle cx="366.44" cy="70.72" r="1.6" fill="#fff" stroke="#f08a8a" stroke-width="0.75"/>
<circle cx="367.31" cy="70.32" r="1.6" fill="#fff" stroke="#f08a8a" stroke-width="0.75"/>
<circle cx="368.18" cy="69.70" r="1.6" fill="#fff" stroke="#f08a8a" stroke-width="0.75"/>
<circle cx="369.05" cy="69.70" r="1.6" fill="#fff" stroke="#f08a8a" stroke-width="0.75"/>
<circle cx="369.92" cy="69.73" r="1.6" fill="#fff" stroke="#f08a8a" stroke-width="0.75"/>
<circle cx="370.79" cy="69.78" r="1.6" fill="#fff" stroke="#f08a8a" stroke-width="0.75"/>
<circle cx="371.66" cy="69.61" r="1.6" fill="#fff" stroke="#f08a8a" stroke-width="0.75"/>
<circle cx="372.53" cy="69.60" r="1.6" fill="#fff" stroke="#f08a8a" stroke-width="0.75"/>
<circle cx="373.40" cy="70.17" r="1.6" fill="#fff" stroke="#f08a8a" stroke-width="0.75"/>
<circle cx="374.27" cy="70.38" r="1.6" fill="#fff" stroke="#f08a8a" stroke-width="0.75"/>
<circle cx="375.14" cy="69.65" r="1.6" fill="#fff" stroke="#f08a8a" stroke-width="0.75"/>
<circle cx="376.01" cy="70.39" r="1.6" fill="#fff" stroke="#f08a8a" stroke-width="0.75"/>
<circle cx="376.88" cy="69.86" r="1.6" fill="#fff" stroke="#f08a8a" stroke-width="0.75"/>
<circle cx="377.75" cy="70.15" r="1.6" fill="#fff" stroke="#f08a8a" stroke-width="0.75"/>
<circle cx="378.62" cy="70.23" r="1.6" fill="#fff" stroke="#f08a8a" stroke-width="0.75"/>
<circle cx="379.49" cy="70.22" r="1.6" fill="#fff" stroke="#f08a8a" stroke-width="0.75"/>
<circle cx="380.36" cy="69.28" r="1.6" fill="#fff" stroke="#f08a8a" stroke-width="0.75"/>
<circle cx="381.23" cy="69.51" r="1.6" fill="#fff" stroke="#f08a8a" stroke-width="0.75"/>
<circle cx="382.10" cy="69.78" r="1.6" fill="#fff" stroke="#f08a8a" stroke-width="0.75"/>
<circle cx="382.97" cy="70.08" r="1.6" fill="#fff" stroke="#f08a8a" stroke-width="0.75"/>
<circle cx="383.84" cy="69.19" r="1.6" fill="#fff" stroke="#f08a8a" stroke-width="0.75"/>
<circle cx="384.71" cy="69.36" r="1.6" fill="#fff" stroke="#f08a8a" stroke-width="0.75"/>
<circle cx="385.58" cy="69.88" r="1.6" fill="#fff" stroke="#f08a8a" stroke-width="0.75"/>
<circle cx="386.45" cy="69.10" r="1.6" fill="#fff" stroke="#f08a8a" stroke-width="0.75"/>
<circle cx="387.32" cy="69.34" r="1.6" fill="#fff" stroke="#f08a8a" stroke-width="0.75"/>
<circle cx="388.19" cy="69.25" r="1.6" fill="#fff" stroke="#f08a8a" stroke-width="0.75"/>
<circle cx="389.06" cy="69.56" r="1.6" fill="#fff" stroke="#f08a8a" stroke-width="0.75"/>
<circle cx="389.93" cy="69.77" r="1.6" fill="#fff" stroke="#f08a8a" stroke-width="0.75"/>
<circle cx="390.80" cy="68.97" r="1.6" fill="#fff" stroke="#f08a8a" stroke-width="0.75"/>
<circle cx="391.67" cy="69.50" r="1.6" fill="#fff" stroke="#f08a8a" stroke-width="0.75"/>
<circle cx="392.54" cy="69.46" r="1.6" fill="#fff" stroke="#f08a8a" stroke-width="0.75"/>
<circle cx="393.41" cy="69.52" r="1.6" fill="#fff" stroke="#f08a8a" stroke-width="0.75"/>
<circle cx="394.28" cy="69.20" r="1.6" fill="#fff" stroke="#f08a8a" stroke-width="0.75"/>
<circle cx="395.15" cy="69.53" r="1.6" fill="#fff" stroke="#f08a8a" stroke-width="0.75"/>
<circle cx="396.02" cy="68.93" r="1.6" fill="#fff" stroke="#f08a8a" stroke-width="0.75"/>
<circle cx="396.89" cy="68.94" r="1.6" fill="#fff" stroke="#f08a8a" stroke-width="0.75"/>
<circle cx="397.76" cy="68.72" r="1.6" fill="#fff" stroke="#f08a8a" stroke-width="0.75"/>
<circle cx="398.63" cy="69.23" r="1.6" fill="#fff" stroke="#f08a8a" stroke-width="0.75"/>
<circle cx="399.50" cy="68.89" r="1.6" fill="#fff" stroke="#f08a8a" stroke-width="0.75"/>
<circle cx="400.37" cy="68.64" r="1.6" fill="#fff" stroke="#f08a8a" stroke-width="0.75"/>
<circle cx="401.24" cy="68.50" r="1.6" fill="#fff" stroke="#f08a8a" stroke-width="0.75"/>
<circle cx="402.11" cy="69.01" r="1.6" fill="#fff" stroke="#f08a8a" stroke-width="0.75"/>
<circle cx="402.98" cy="68.86" r="1.6" fill="#fff" stroke="#f08a8a" stroke-width="0.75"/>
<circle cx="403.85" cy="68.92" r="1.6" fill="#fff" stroke="#f08a8a" stroke-width="0.75"/>
<circle cx="404.72" cy="68.56" r="1.6" fill="#fff" stroke="#f08a8a" stroke-width="0.75"/>
<circle cx="405.59" cy="68.62" r="1.6" fill="#fff" stroke="#f08a8a" stroke-width="0.75"/>
<circle cx="406.46" cy="68.24" r="1.6" fill="#fff" stroke="#f08a8a" stroke-width="0.75"/>
<circle cx="407.33" cy="68.76" r="1.6" fill="#fff" stroke="#f08a8a" stroke-width="0.75"/>
<circle cx="408.20" cy="68.03" r="1.6" fill="#fff" stroke="#f08a8a" stroke-width="0.75"/>
<circle cx="409.07" cy="68.44" r="1.6" fill="#fff" stroke="#f08a8a" stroke-width="0.75"/>
<circle cx="409.94" cy="68.69" r="1.6" fill="#fff" stroke="#f08a8a" stroke-width="0.75"/>
<circle cx="410.81" cy="68.57" r="1.6" fill="#fff" stroke="#f08a8a" stroke-width="0.75"/>
<circle cx="411.68" cy="67.95" r="1.6" fill="#fff" stroke="#f08a8a" stroke-width="0.75"/>
<circle cx="412.55" cy="68.05" r="1.6" fill="#fff" stroke="#f08a8a" stroke-width="0.75"/>
<circle cx="413.42" cy="68.62" r="1.6" fill="#fff" stroke="#f08a8a" stroke-width="0.75"/>
<circle cx="414.29" cy="68.38" r="1.6" fill="#fff" stroke="#f08a8a" stroke-width="0.75"/>
<circle cx="415.16" cy="68.57" r="1.6" fill="#fff" stroke="#f08a8a" stroke-width="0.75"/>
<circle cx="416.03" cy="68.53" r="1.6" fill="#fff" stroke="#f08a8a" stroke-width="0.75"/>
<circle cx="416.90" cy="68.07" r="1.6" fill="#fff" stroke="#f08a8a" stroke-width="0.75"/>
<circle cx="417.77" cy="68.48" r="1.6" fill="#fff" stroke="#f08a8a" stroke-width="0.75"/>
<circle cx="418.64" cy="68.27" r="1.6" fill="#fff" stroke="#f08a8a" stroke-width="0.75"/>
<circle cx="419.51" cy="67.84" r="1.6" fill="#fff" stroke="#f08a8a" stroke-width="0.75"/>
<circle cx="420.38" cy="67.83" r="1.6" fill="#fff" stroke="#f08a8a" stroke-width="0.75"/>
<circle cx="421.25" cy="67.50" r="1.6" fill="#fff" stroke="#f08a8a" stroke-width="0.75"/>
<circle cx="422.12" cy="67.79" r="1.6" fill="#fff" stroke="#f08a8a" stroke-width="0.75"/>
<circle cx="422.99" cy="68.31" r="1.6" fill="#fff" stroke="#f08a8a" stroke-width="0.75"/>
<circle cx="423.86" cy="67.42" r="1.6" fill="#fff" stroke="#f08a8a" stroke-width="0.75"/>
<circle cx="424.20" cy="67.87" r="1.6" fill="#fff" stroke="#f08a8a" stroke-width="0.75"/>
<text x="345.40" y="84.60" font-size="6.97" fill="#444">Ceramic slurry</text>
<line x1="345.90" y1="90.60" x2="360.80" y2="90.60" stroke="#333" stroke-width="0.9"/>
<circle cx="353.30" cy="90.60" r="1.6" fill="#333" stroke="none" stroke-width="0"/>
<text x="363.37" y="93.00" font-size="7.01" fill="#444">Storage modulus</text>
<line x1="345.90" y1="99.20" x2="360.80" y2="99.20" stroke="#555" stroke-width="0.9"/>
<circle cx="353.30" cy="99.20" r="1.6" fill="#fff" stroke="#555" stroke-width="0.8"/>
<text x="363.08" y="101.30" font-size="7.15" fill="#444">Loss modulus</text>
<text x="345.75" y="113.60" font-size="7.02" fill="#e85050">AP hydrogel</text>
<line x1="345.90" y1="120.10" x2="360.80" y2="120.10" stroke="#e03a3a" stroke-width="0.9"/>
<circle cx="353.30" cy="120.10" r="1.6" fill="#e03a3a" stroke="none" stroke-width="0"/>
<text x="363.37" y="122.20" font-size="6.93" fill="#e85050">Storage modulus</text>
<line x1="345.90" y1="128.90" x2="360.80" y2="128.90" stroke="#ee6060" stroke-width="0.9"/>
<circle cx="353.30" cy="128.90" r="1.6" fill="#fff" stroke="#ee6060" stroke-width="0.8"/>
<text x="363.08" y="130.90" font-size="7.11" fill="#e85050">Loss modulus</text>
<line x1="480.50" y1="137.50" x2="635.50" y2="137.50" stroke="#3c3c3c" stroke-width="1"/>
<line x1="480.50" y1="12.50" x2="480.50" y2="137.50" stroke="#3c3c3c" stroke-width="1"/>
<line x1="480.50" y1="12.50" x2="635.50" y2="12.50" stroke="#555" stroke-width="1"/>
<line x1="635.50" y1="12.50" x2="635.50" y2="137.50" stroke="#555" stroke-width="1"/>
<line x1="480.00" y1="137.00" x2="480.00" y2="139.50" stroke="#3c3c3c" stroke-width="1"/>
<text x="480.00" y="150.40" font-size="11.7" text-anchor="middle" fill="#222">0</text>
<line x1="499.35" y1="137.00" x2="499.35" y2="138.50" stroke="#3c3c3c" stroke-width="0.7"/>
<line x1="518.70" y1="137.00" x2="518.70" y2="139.50" stroke="#3c3c3c" stroke-width="1"/>
<text x="518.70" y="150.40" font-size="11.7" text-anchor="middle" fill="#222">200</text>
<line x1="538.05" y1="137.00" x2="538.05" y2="138.50" stroke="#3c3c3c" stroke-width="0.7"/>
<line x1="557.40" y1="137.00" x2="557.40" y2="139.50" stroke="#3c3c3c" stroke-width="1"/>
<text x="557.40" y="150.40" font-size="11.7" text-anchor="middle" fill="#222">400</text>
<line x1="576.75" y1="137.00" x2="576.75" y2="138.50" stroke="#3c3c3c" stroke-width="0.7"/>
<line x1="596.10" y1="137.00" x2="596.10" y2="139.50" stroke="#3c3c3c" stroke-width="1"/>
<text x="596.10" y="150.40" font-size="11.7" text-anchor="middle" fill="#222">600</text>
<line x1="615.45" y1="137.00" x2="615.45" y2="138.50" stroke="#3c3c3c" stroke-width="0.7"/>
<line x1="634.80" y1="137.00" x2="634.80" y2="139.50" stroke="#3c3c3c" stroke-width="1"/>
<text x="634.80" y="150.40" font-size="11.7" text-anchor="middle" fill="#222">800</text>
<line x1="477.50" y1="137.00" x2="480.00" y2="137.00" stroke="#3c3c3c" stroke-width="1"/>
<text x="476.10" y="140.30" font-size="11.9" text-anchor="end" fill="#222">0.0</text>
<line x1="478.50" y1="126.63" x2="480.00" y2="126.63" stroke="#3c3c3c" stroke-width="0.7"/>
<line x1="477.50" y1="116.27" x2="480.00" y2="116.27" stroke="#3c3c3c" stroke-width="1"/>
<text x="476.10" y="119.56" font-size="11.9" text-anchor="end" fill="#222">0.5</text>
<line x1="478.50" y1="105.90" x2="480.00" y2="105.90" stroke="#3c3c3c" stroke-width="0.7"/>
<line x1="477.50" y1="95.53" x2="480.00" y2="95.53" stroke="#3c3c3c" stroke-width="1"/>
<text x="476.10" y="98.83" font-size="11.9" text-anchor="end" fill="#222">1.0</text>
<line x1="478.50" y1="85.16" x2="480.00" y2="85.16" stroke="#3c3c3c" stroke-width="0.7"/>
<line x1="477.50" y1="74.80" x2="480.00" y2="74.80" stroke="#3c3c3c" stroke-width="1"/>
<text x="476.10" y="78.09" font-size="11.9" text-anchor="end" fill="#222">1.5</text>
<line x1="478.50" y1="64.43" x2="480.00" y2="64.43" stroke="#3c3c3c" stroke-width="0.7"/>
<line x1="477.50" y1="54.06" x2="480.00" y2="54.06" stroke="#3c3c3c" stroke-width="1"/>
<text x="476.10" y="57.36" font-size="11.9" text-anchor="end" fill="#222">2.0</text>
<line x1="478.50" y1="43.69" x2="480.00" y2="43.69" stroke="#3c3c3c" stroke-width="0.7"/>
<line x1="477.50" y1="33.33" x2="480.00" y2="33.33" stroke="#3c3c3c" stroke-width="1"/>
<text x="476.10" y="36.62" font-size="11.9" text-anchor="end" fill="#222">2.5</text>
<line x1="478.50" y1="22.96" x2="480.00" y2="22.96" stroke="#3c3c3c" stroke-width="0.7"/>
<line x1="477.50" y1="12.59" x2="480.00" y2="12.59" stroke="#3c3c3c" stroke-width="1"/>
<text x="476.10" y="15.89" font-size="11.9" text-anchor="end" fill="#222">3.0</text>
<text x="442.80" y="16.40" font-size="16.5" text-anchor="middle" fill="#111" font-weight="bold">c</text>
<text x="451.70" y="108.62" font-size="11.64" fill="#222" transform="rotate(-90 451.70 108.62)">Stress (MPa)</text>
<text x="531.47" y="166.60" font-size="11.92" fill="#222">Strain (%)</text>
<text x="556.70" y="25.90" font-size="8.93" fill="#222">Ceramic elastomer</text>
<polyline points="480.20,126.20 480.31,126.00 480.45,125.75 480.61,125.46 480.79,125.14 480.98,124.78 481.19,124.41 481.41,124.02 481.64,123.62 481.88,123.22 482.12,122.83 482.36,122.45 482.60,122.10 482.84,121.76 483.10,121.42 483.36,121.09 483.63,120.76 483.91,120.43 484.19,120.09 484.48,119.76 484.77,119.42 485.05,119.07 485.34,118.72 485.62,118.37 485.90,118.00 486.17,117.62 486.45,117.22 486.72,116.80 487.00,116.37 487.27,115.94 487.54,115.51 487.82,115.08 488.09,114.66 488.37,114.26 488.64,113.88 488.92,113.53 489.20,113.20 489.48,112.90 489.74,112.62 490.01,112.36 490.27,112.12 490.53,111.89 490.80,111.67 491.07,111.47 491.35,111.28 491.64,111.10 491.95,110.93 492.26,110.76 492.60,110.60 492.93,110.45 493.25,110.31 493.56,110.19 493.87,110.07 494.20,109.97 494.54,109.87 494.91,109.79 495.31,109.70 495.77,109.62 496.28,109.55 496.85,109.47 497.50,109.40 498.25,109.33 499.11,109.26 500.06,109.20 501.08,109.15 502.15,109.10 503.24,109.05 504.33,109.01 505.41,108.96 506.44,108.92 507.42,108.88 508.31,108.84 509.10,108.80 509.78,108.76 510.36,108.73 510.86,108.70 511.31,108.67 511.72,108.64 512.11,108.61 512.49,108.58 512.89,108.56 513.32,108.52 513.80,108.49 514.36,108.45 515.00,108.40 515.74,108.35 516.55,108.29 517.43,108.23 518.35,108.17 519.31,108.11 520.29,108.04 521.27,107.97 522.24,107.90 523.18,107.82 524.08,107.75 524.93,107.67 525.70,107.60 526.41,107.53 527.06,107.46 527.68,107.39 528.26,107.32 528.82,107.25 529.36,107.17 529.88,107.10 530.40,107.01 530.93,106.92 531.47,106.83 532.02,106.72 532.60,106.60 533.20,106.47 533.81,106.33 534.43,106.18 535.06,106.02 535.68,105.86 536.31,105.69 536.94,105.51 537.57,105.33 538.19,105.15 538.80,104.97 539.41,104.78 540.00,104.60 540.58,104.42 541.16,104.23 541.73,104.04 542.30,103.84 542.86,103.65 543.42,103.45 543.97,103.25 544.52,103.04 545.07,102.84 545.61,102.63 546.16,102.42 546.70,102.20 547.24,101.98 547.78,101.76 548.31,101.54 548.84,101.32 549.37,101.09 549.89,100.86 550.42,100.63 550.94,100.39 551.46,100.15 551.97,99.91 552.49,99.66 553.00,99.40 553.50,99.15 553.98,98.90 554.46,98.66 554.92,98.41 555.38,98.16 555.84,97.91 556.32,97.64 556.80,97.36 557.31,97.05 557.84,96.73 558.40,96.38 559.00,96.00 559.64,95.59 560.30,95.15 561.00,94.69 561.73,94.21 562.47,93.71 563.23,93.19 563.99,92.66 564.76,92.12 565.53,91.57 566.30,91.02 567.06,90.46 567.80,89.90 568.53,89.34 569.27,88.78 570.00,88.22 570.73,87.66 571.47,87.08 572.20,86.49 572.93,85.89 573.67,85.28 574.40,84.64 575.13,83.99 575.87,83.31 576.60,82.60 577.33,81.86 578.07,81.10 578.80,80.30 579.53,79.49 580.27,78.66 581.00,77.81 581.73,76.95 582.47,76.08 583.20,75.21 583.93,74.33 584.67,73.46 585.40,72.60 586.13,71.74 586.87,70.86 587.60,69.98 588.33,69.10 589.07,68.21 589.80,67.31 590.53,66.42 591.27,65.53 592.00,64.64 592.73,63.75 593.47,62.87 594.20,62.00 594.94,61.12 595.70,60.23 596.47,59.33 597.24,58.42 598.01,57.52 598.78,56.62 599.53,55.75 600.27,54.89 601.00,54.06 601.70,53.26 602.36,52.51 603.00,51.80 603.60,51.15 604.16,50.54 604.69,49.98 605.19,49.46 605.68,48.96 606.15,48.49 606.61,48.02 607.07,47.56 607.54,47.10 608.01,46.62 608.49,46.12 609.00,45.60 609.54,45.03 610.12,44.42 610.72,43.78 611.34,43.13 611.96,42.46 612.58,41.81 613.17,41.18 613.73,40.59 614.24,40.04 614.70,39.55 615.09,39.13 615.40,38.80" fill="none" stroke="#5a5a5a" stroke-width="0.9" stroke-linejoin="round" stroke-linecap="round"/>
<polyline points="480.20,126.20 480.31,125.81 480.45,125.33 480.61,124.77 480.79,124.14 480.98,123.46 481.19,122.73 481.41,121.96 481.64,121.17 481.88,120.37 482.12,119.57 482.36,118.77 482.60,118.00 482.85,117.22 483.11,116.42 483.38,115.58 483.66,114.73 483.95,113.86 484.24,112.99 484.54,112.12 484.83,111.26 485.11,110.41 485.39,109.58 485.65,108.77 485.90,108.00 486.14,107.25 486.36,106.51 486.58,105.79 486.79,105.07 487.00,104.37 487.20,103.68 487.40,103.01 487.60,102.35 487.79,101.71 487.99,101.09 488.19,100.48 488.40,99.90 488.61,99.33 488.81,98.77 489.01,98.21 489.20,97.68 489.40,97.16 489.60,96.66 489.80,96.18 490.01,95.72 490.22,95.29 490.44,94.90 490.66,94.53 490.90,94.20 491.14,93.91 491.37,93.65 491.59,93.42 491.82,93.22 492.05,93.05 492.29,92.90 492.55,92.78 492.83,92.67 493.12,92.58 493.45,92.51 493.81,92.45 494.20,92.40 494.63,92.37 495.09,92.37 495.58,92.40 496.09,92.44 496.63,92.51 497.19,92.59 497.76,92.67 498.35,92.77 498.95,92.86 499.56,92.95 500.18,93.03 500.80,93.10 501.44,93.17 502.11,93.26 502.81,93.35 503.53,93.45 504.26,93.55 504.99,93.64 505.73,93.73 506.45,93.81 507.15,93.87 507.84,93.90 508.49,93.92 509.10,93.90 509.68,93.85 510.24,93.76 510.78,93.64 511.30,93.50 511.80,93.34 512.29,93.17 512.77,93.00 513.23,92.83 513.69,92.66 514.13,92.52 514.57,92.40 515.00,92.30 515.41,92.24 515.78,92.22 516.12,92.22 516.45,92.24 516.76,92.27 517.08,92.29 517.39,92.31 517.73,92.32 518.09,92.30 518.48,92.24 518.92,92.15 519.40,92.00 519.94,91.81 520.52,91.58 521.15,91.33 521.80,91.05 522.48,90.75 523.18,90.42 523.89,90.07 524.60,89.70 525.30,89.32 525.99,88.92 526.66,88.52 527.30,88.10 527.91,87.68 528.51,87.25 529.09,86.81 529.66,86.36 530.23,85.90 530.79,85.41 531.36,84.90 531.94,84.37 532.52,83.81 533.13,83.21 533.75,82.57 534.40,81.90 535.08,81.17 535.81,80.38 536.56,79.54 537.34,78.66 538.12,77.74 538.91,76.81 539.70,75.87 540.46,74.93 541.21,74.01 541.92,73.10 542.58,72.23 543.20,71.40 543.76,70.60 544.29,69.83 544.77,69.06 545.23,68.31 545.66,67.57 546.07,66.84 546.48,66.12 546.87,65.41 547.26,64.70 547.66,64.00 548.07,63.30 548.50,62.60 548.95,61.88 549.43,61.13 549.93,60.36 550.43,59.58 550.94,58.80 551.43,58.05 551.91,57.33 552.36,56.64 552.77,56.02 553.14,55.46 553.45,54.98 553.70,54.60" fill="none" stroke="#ea6070" stroke-width="0.9" stroke-linejoin="round" stroke-linecap="round"/>
<polyline points="480.20,123.00 482.60,108.00 485.10,93.10 487.60,86.50 490.90,82.40 492.60,81.90 495.00,84.00 496.70,85.70 500.50,86.20 500.80,93.10" fill="none" stroke="#4a70c0" stroke-width="0.9" stroke-linejoin="round" stroke-linecap="round"/>
<polyline points="480.40,136.50 480.60,128.00 481.00,114.60 484.30,86.50 487.30,67.50 487.80,66.20" fill="none" stroke="#40a080" stroke-width="0.9" stroke-linejoin="round" stroke-linecap="round"/>
<line x1="482.50" y1="19.20" x2="500.30" y2="19.20" stroke="#999" stroke-width="1.0"/>
<text x="502.93" y="22.10" font-size="7.48" fill="#222">1% PEGDA</text>
<line x1="482.50" y1="28.60" x2="500.30" y2="28.60" stroke="#ee7088" stroke-width="1.0"/>
<text x="503.23" y="31.50" font-size="7.43" fill="#222">3% PEGDA</text>
<line x1="482.50" y1="38.10" x2="500.30" y2="38.10" stroke="#6a80c0" stroke-width="1.0"/>
<text x="503.15" y="41.00" font-size="7.44" fill="#222">5% PEGDA</text>
<line x1="482.50" y1="47.80" x2="500.30" y2="47.80" stroke="#80a898" stroke-width="1.0"/>
<text x="502.92" y="50.50" font-size="7.51" fill="#222">10% PEGDA</text>
<rect x="18" y="179" width="620.5" height="124.3" rx="5" ry="5" fill="none" stroke="#8a8a8a" stroke-width="1" stroke-dasharray="5.5,2.5"/>
<text x="8.40" y="187.70" font-size="16.5" text-anchor="middle" fill="#111" font-weight="bold">d</text>
<rect x="23.00" y="186.00" width="140.00" height="111.20" fill="#060606"/>
<text x="50.35" y="199.40" font-size="9.56" fill="#e0e0e0">As printed ceramic</text>
<text x="49.96" y="210.00" font-size="9.63" fill="#e0e0e0">elastomer structures</text>
<polyline points="48.80,226.00 58.10,232.00 48.80,238.00 58.10,244.00 48.80,250.00 58.10,256.00 48.80,262.00 58.10,268.00 48.80,274.00" fill="none" stroke="#fafafa" stroke-width="1.8" stroke-linejoin="round" stroke-linecap="round"/>
<polyline points="74.90,226.00 65.60,232.00 74.90,238.00 65.60,244.00 74.90,250.00 65.60,256.00 74.90,262.00 65.60,268.00 74.90,274.00" fill="none" stroke="#fafafa" stroke-width="1.8" stroke-linejoin="round" stroke-linecap="round"/>
<line x1="48.80" y1="226.00" x2="74.90" y2="226.00" stroke="#fafafa" stroke-width="1.8"/>
<line x1="48.80" y1="238.00" x2="74.90" y2="238.00" stroke="#fafafa" stroke-width="1.8"/>
<line x1="48.80" y1="250.00" x2="74.90" y2="250.00" stroke="#fafafa" stroke-width="1.8"/>
<line x1="48.80" y1="262.00" x2="74.90" y2="262.00" stroke="#fafafa" stroke-width="1.8"/>
<line x1="48.80" y1="274.00" x2="74.90" y2="274.00" stroke="#fafafa" stroke-width="1.8"/>
<polyline points="80.10,226.00 89.40,232.00 80.10,238.00 89.40,244.00 80.10,250.00 89.40,256.00 80.10,262.00 89.40,268.00 80.10,274.00" fill="none" stroke="#fafafa" stroke-width="1.8" stroke-linejoin="round" stroke-linecap="round"/>
<polyline points="106.20,226.00 96.90,232.00 106.20,238.00 96.90,244.00 106.20,250.00 96.90,256.00 106.20,262.00 96.90,268.00 106.20,274.00" fill="none" stroke="#fafafa" stroke-width="1.8" stroke-linejoin="round" stroke-linecap="round"/>
<line x1="80.10" y1="226.00" x2="106.20" y2="226.00" stroke="#fafafa" stroke-width="1.8"/>
<line x1="80.10" y1="238.00" x2="106.20" y2="238.00" stroke="#fafafa" stroke-width="1.8"/>
<line x1="80.10" y1="250.00" x2="106.20" y2="250.00" stroke="#fafafa" stroke-width="1.8"/>
<line x1="80.10" y1="262.00" x2="106.20" y2="262.00" stroke="#fafafa" stroke-width="1.8"/>
<line x1="80.10" y1="274.00" x2="106.20" y2="274.00" stroke="#fafafa" stroke-width="1.8"/>
<polyline points="111.40,226.00 120.70,232.00 111.40,238.00 120.70,244.00 111.40,250.00 120.70,256.00 111.40,262.00 120.70,268.00 111.40,274.00" fill="none" stroke="#fafafa" stroke-width="1.8" stroke-linejoin="round" stroke-linecap="round"/>
<polyline points="137.50,226.00 128.20,232.00 137.50,238.00 128.20,244.00 137.50,250.00 128.20,256.00 137.50,262.00 128.20,268.00 137.50,274.00" fill="none" stroke="#fafafa" stroke-width="1.8" stroke-linejoin="round" stroke-linecap="round"/>
<line x1="111.40" y1="226.00" x2="137.50" y2="226.00" stroke="#fafafa" stroke-width="1.8"/>
<line x1="111.40" y1="238.00" x2="137.50" y2="238.00" stroke="#fafafa" stroke-width="1.8"/>
<line x1="111.40" y1="250.00" x2="137.50" y2="250.00" stroke="#fafafa" stroke-width="1.8"/>
<line x1="111.40" y1="262.00" x2="137.50" y2="262.00" stroke="#fafafa" stroke-width="1.8"/>
<line x1="111.40" y1="274.00" x2="137.50" y2="274.00" stroke="#fafafa" stroke-width="1.8"/>
<line x1="46.00" y1="232.00" x2="58.10" y2="232.00" stroke="#fafafa" stroke-width="1.8"/>
<line x1="65.60" y1="232.00" x2="89.40" y2="232.00" stroke="#fafafa" stroke-width="1.8"/>
<line x1="96.90" y1="232.00" x2="120.70" y2="232.00" stroke="#fafafa" stroke-width="1.8"/>
<line x1="128.20" y1="232.00" x2="140.50" y2="232.00" stroke="#fafafa" stroke-width="1.8"/>
<line x1="46.00" y1="244.00" x2="58.10" y2="244.00" stroke="#fafafa" stroke-width="1.8"/>
<line x1="65.60" y1="244.00" x2="89.40" y2="244.00" stroke="#fafafa" stroke-width="1.8"/>
<line x1="96.90" y1="244.00" x2="120.70" y2="244.00" stroke="#fafafa" stroke-width="1.8"/>
<line x1="128.20" y1="244.00" x2="140.50" y2="244.00" stroke="#fafafa" stroke-width="1.8"/>
<line x1="46.00" y1="256.00" x2="58.10" y2="256.00" stroke="#fafafa" stroke-width="1.8"/>
<line x1="65.60" y1="256.00" x2="89.40" y2="256.00" stroke="#fafafa" stroke-width="1.8"/>
<line x1="96.90" y1="256.00" x2="120.70" y2="256.00" stroke="#fafafa" stroke-width="1.8"/>
<line x1="128.20" y1="256.00" x2="140.50" y2="256.00" stroke="#fafafa" stroke-width="1.8"/>
<line x1="46.00" y1="268.00" x2="58.10" y2="268.00" stroke="#fafafa" stroke-width="1.8"/>
<line x1="65.60" y1="268.00" x2="89.40" y2="268.00" stroke="#fafafa" stroke-width="1.8"/>
<line x1="96.90" y1="268.00" x2="120.70" y2="268.00" stroke="#fafafa" stroke-width="1.8"/>
<line x1="128.20" y1="268.00" x2="140.50" y2="268.00" stroke="#fafafa" stroke-width="1.8"/>
<rect x="135.00" y="291.00" width="21.30" height="2.60" fill="#f4f4f4"/>
<rect x="166.70" y="186.00" width="153.30" height="111.20" fill="#050505"/>
<path d="M166.7,207.9 L175.4,211.6 L186.8,217.8 L196.1,221.9 Q198.5,223.5 198.7,226.1 L198.4,235 L196.9,247.8 Q196,256 196.4,264.4 Q195.5,270 193.3,273.9 L188.6,285.8 L185,297.2 L166.7,297.2 Z" fill="url(#glL)"/>
<path d="M320,201 L306,207.6 L295.7,212.3 Q293.5,213.8 293.1,215.4 L292.1,221 L291.9,238.3 Q292.5,246 293.1,252.5 L294.3,269.1 L295.5,285.8 L294.3,297.2 L320,297.2 Z" fill="url(#glR)"/>
<path d="M168,245 Q178,255 186,268" stroke="#0b22a0" stroke-width="3" fill="none" opacity="0.45" filter="url(#bl1)"/>
<path d="M170,285 Q176,278 184,276" stroke="#0b22a0" stroke-width="3" fill="none" opacity="0.4" filter="url(#bl1)"/>
<path d="M318,228 Q306,232 297,240" stroke="#0b22a0" stroke-width="2.5" fill="none" opacity="0.3" filter="url(#bl1)"/>
<path d="M317,262 Q306,266 298,272" stroke="#0b22a0" stroke-width="3" fill="none" opacity="0.4" filter="url(#bl1)"/>
<path d="M176,213 Q187,218 195,224" stroke="#5a88ff" stroke-width="2" fill="none" opacity="0.4" filter="url(#bl1)"/>
<path d="M314,206 Q303,210.5 296,215" stroke="#5a88ff" stroke-width="2" fill="none" opacity="0.4" filter="url(#bl1)"/>
<text x="189.07" y="203.90" font-size="9.57" fill="#e0e0e0">Stretched green bodies</text>
<polyline points="205.60,238.50 208.80,235.40 229.60,235.40 232.80,238.50 229.60,241.60 208.80,241.60 205.60,238.50" fill="none" stroke="#e8e8e8" stroke-width="1.4" stroke-linejoin="round" stroke-linecap="round"/>
<polyline points="205.60,244.70 208.80,241.60 229.60,241.60 232.80,244.70 229.60,247.80 208.80,247.80 205.60,244.70" fill="none" stroke="#e8e8e8" stroke-width="1.4" stroke-linejoin="round" stroke-linecap="round"/>
<polyline points="205.60,250.90 208.80,247.80 229.60,247.80 232.80,250.90 229.60,254.00 208.80,254.00 205.60,250.90" fill="none" stroke="#e8e8e8" stroke-width="1.4" stroke-linejoin="round" stroke-linecap="round"/>
<polyline points="229.60,235.40 232.80,232.30 253.60,232.30 256.80,235.40 253.60,238.50 232.80,238.50 229.60,235.40" fill="none" stroke="#e8e8e8" stroke-width="1.4" stroke-linejoin="round" stroke-linecap="round"/>
<polyline points="229.60,241.60 232.80,238.50 253.60,238.50 256.80,241.60 253.60,244.70 232.80,244.70 229.60,241.60" fill="none" stroke="#e8e8e8" stroke-width="1.4" stroke-linejoin="round" stroke-linecap="round"/>
<polyline points="229.60,247.80 232.80,244.70 253.60,244.70 256.80,247.80 253.60,250.90 232.80,250.90 229.60,247.80" fill="none" stroke="#e8e8e8" stroke-width="1.4" stroke-linejoin="round" stroke-linecap="round"/>
<polyline points="229.60,254.00 232.80,250.90 253.60,250.90 256.80,254.00 253.60,257.10 232.80,257.10 229.60,254.00" fill="none" stroke="#e8e8e8" stroke-width="1.4" stroke-linejoin="round" stroke-linecap="round"/>
<polyline points="253.00,238.50 256.20,235.40 277.00,235.40 280.20,238.50 277.00,241.60 256.20,241.60 253.00,238.50" fill="none" stroke="#e8e8e8" stroke-width="1.4" stroke-linejoin="round" stroke-linecap="round"/>
<polyline points="253.00,244.70 256.20,241.60 277.00,241.60 280.20,244.70 277.00,247.80 256.20,247.80 253.00,244.70" fill="none" stroke="#e8e8e8" stroke-width="1.4" stroke-linejoin="round" stroke-linecap="round"/>
<polyline points="253.00,250.90 256.20,247.80 277.00,247.80 280.20,250.90 277.00,254.00 256.20,254.00 253.00,250.90" fill="none" stroke="#e8e8e8" stroke-width="1.4" stroke-linejoin="round" stroke-linecap="round"/>
<polyline points="205.60,238.50 195.60,238.50" fill="none" stroke="#e8e8e8" stroke-width="1.4" stroke-linejoin="round" stroke-linecap="round"/>
<polyline points="205.60,244.70 195.60,244.70" fill="none" stroke="#e8e8e8" stroke-width="1.4" stroke-linejoin="round" stroke-linecap="round"/>
<polyline points="205.60,250.90 195.60,250.90" fill="none" stroke="#e8e8e8" stroke-width="1.4" stroke-linejoin="round" stroke-linecap="round"/>
<polyline points="280.20,238.50 292.20,238.50" fill="none" stroke="#e8e8e8" stroke-width="1.4" stroke-linejoin="round" stroke-linecap="round"/>
<polyline points="280.20,244.70 292.20,244.70" fill="none" stroke="#e8e8e8" stroke-width="1.4" stroke-linejoin="round" stroke-linecap="round"/>
<polyline points="280.20,250.90 292.20,250.90" fill="none" stroke="#e8e8e8" stroke-width="1.4" stroke-linejoin="round" stroke-linecap="round"/>
<polyline points="206.00,257.50 232.00,258.50 256.00,258.20 280.00,257.00" fill="none" stroke="#cfcfcf" stroke-width="1.0" stroke-linejoin="round" stroke-linecap="round"/>
<polyline points="205.60,235.40 197.00,229.50" fill="none" stroke="#e6e6e6" stroke-width="1.2" stroke-linejoin="round" stroke-linecap="round"/>
<polyline points="280.20,235.40 291.00,230.50" fill="none" stroke="#e6e6e6" stroke-width="1.2" stroke-linejoin="round" stroke-linecap="round"/>
<polyline points="205.60,254.00 196.00,259.00" fill="none" stroke="#e6e6e6" stroke-width="1.2" stroke-linejoin="round" stroke-linecap="round"/>
<polyline points="280.20,254.00 291.00,258.50" fill="none" stroke="#e6e6e6" stroke-width="1.2" stroke-linejoin="round" stroke-linecap="round"/>
<rect x="293.00" y="291.00" width="20.30" height="2.60" fill="#f4f4f4"/>
<rect x="323.10" y="186.00" width="153.70" height="111.20" fill="#050505"/>
<text x="338.77" y="204.40" font-size="9.64" fill="#e0e0e0">Ceramic parts after sintering</text>
<polyline points="352.90,238.95 355.10,235.45 371.70,236.63 373.90,240.05 371.70,243.25 355.10,242.67 352.90,238.95" fill="none" stroke="#dedede" stroke-width="1.1" stroke-linejoin="round" stroke-linecap="round"/>
<polyline points="352.90,246.25 355.10,242.67 371.70,243.25 373.90,246.59 371.70,249.86 355.10,249.90 352.90,246.25" fill="none" stroke="#dedede" stroke-width="1.1" stroke-linejoin="round" stroke-linecap="round"/>
<polyline points="352.90,253.55 355.10,249.90 371.70,249.86 373.90,253.13 371.70,256.48 355.10,257.12 352.90,253.55" fill="none" stroke="#dedede" stroke-width="1.1" stroke-linejoin="round" stroke-linecap="round"/>
<polyline points="352.90,260.85 355.10,257.12 371.70,256.48 373.90,259.66 371.70,263.10 355.10,264.34 352.90,260.85" fill="none" stroke="#dedede" stroke-width="1.1" stroke-linejoin="round" stroke-linecap="round"/>
<polyline points="371.90,243.25 374.10,240.06 390.70,240.94 392.90,243.98 390.70,246.86 374.10,246.59 371.90,243.25" fill="none" stroke="#dedede" stroke-width="1.1" stroke-linejoin="round" stroke-linecap="round"/>
<polyline points="371.90,249.86 374.10,246.59 390.70,246.86 392.90,249.82 390.70,252.79 374.10,253.12 371.90,249.86" fill="none" stroke="#dedede" stroke-width="1.1" stroke-linejoin="round" stroke-linecap="round"/>
<polyline points="371.90,256.47 374.10,253.12 390.70,252.79 392.90,255.66 390.70,258.71 374.10,259.65 371.90,256.47" fill="none" stroke="#dedede" stroke-width="1.1" stroke-linejoin="round" stroke-linecap="round"/>
<polyline points="390.90,240.95 393.10,238.15 409.70,238.09 411.90,240.91 409.70,243.96 393.10,243.98 390.90,240.95" fill="none" stroke="#dedede" stroke-width="1.1" stroke-linejoin="round" stroke-linecap="round"/>
<polyline points="390.90,246.87 393.10,243.98 409.70,243.96 411.90,246.85 409.70,249.82 393.10,249.82 390.90,246.87" fill="none" stroke="#dedede" stroke-width="1.1" stroke-linejoin="round" stroke-linecap="round"/>
<polyline points="390.90,252.78 393.10,249.82 409.70,249.82 411.90,252.80 409.70,255.69 393.10,255.66 390.90,252.78" fill="none" stroke="#dedede" stroke-width="1.1" stroke-linejoin="round" stroke-linecap="round"/>
<polyline points="390.90,258.70 393.10,255.66 409.70,255.69 411.90,258.74 409.70,261.55 393.10,261.49 390.90,258.70" fill="none" stroke="#dedede" stroke-width="1.1" stroke-linejoin="round" stroke-linecap="round"/>
<polyline points="409.90,243.95 412.10,240.90 428.70,240.02 430.90,243.22 428.70,246.58 412.10,246.85 409.90,243.95" fill="none" stroke="#dedede" stroke-width="1.1" stroke-linejoin="round" stroke-linecap="round"/>
<polyline points="409.90,249.82 412.10,246.85 428.70,246.58 430.90,249.86 428.70,253.14 412.10,252.80 409.90,249.82" fill="none" stroke="#dedede" stroke-width="1.1" stroke-linejoin="round" stroke-linecap="round"/>
<polyline points="409.90,255.69 412.10,252.80 428.70,253.14 430.90,256.50 428.70,259.70 412.10,258.76 409.90,255.69" fill="none" stroke="#dedede" stroke-width="1.1" stroke-linejoin="round" stroke-linecap="round"/>
<polyline points="427.90,240.06 430.10,236.64 446.70,235.46 448.90,238.96 446.70,242.68 430.10,243.25 427.90,240.06" fill="none" stroke="#dedede" stroke-width="1.1" stroke-linejoin="round" stroke-linecap="round"/>
<polyline points="427.90,246.59 430.10,243.25 446.70,242.68 448.90,246.25 446.70,249.90 430.10,249.86 427.90,246.59" fill="none" stroke="#dedede" stroke-width="1.1" stroke-linejoin="round" stroke-linecap="round"/>
<polyline points="427.90,253.12 430.10,249.86 446.70,249.90 448.90,253.55 446.70,257.11 430.10,256.47 427.90,253.12" fill="none" stroke="#dedede" stroke-width="1.1" stroke-linejoin="round" stroke-linecap="round"/>
<polyline points="427.90,259.65 430.10,256.47 446.70,257.11 448.90,260.84 446.70,264.33 430.10,263.08 427.90,259.65" fill="none" stroke="#dedede" stroke-width="1.1" stroke-linejoin="round" stroke-linecap="round"/>
<polyline points="352.90,238.95 345.90,238.95" fill="none" stroke="#dedede" stroke-width="1.1" stroke-linejoin="round" stroke-linecap="round"/>
<polyline points="352.90,246.25 345.90,246.25" fill="none" stroke="#dedede" stroke-width="1.1" stroke-linejoin="round" stroke-linecap="round"/>
<polyline points="352.90,253.55 345.90,253.55" fill="none" stroke="#dedede" stroke-width="1.1" stroke-linejoin="round" stroke-linecap="round"/>
<polyline points="352.90,260.85 345.90,260.85" fill="none" stroke="#dedede" stroke-width="1.1" stroke-linejoin="round" stroke-linecap="round"/>
<polyline points="448.90,238.96 456.90,238.95" fill="none" stroke="#dedede" stroke-width="1.1" stroke-linejoin="round" stroke-linecap="round"/>
<polyline points="448.90,246.25 456.90,246.25" fill="none" stroke="#dedede" stroke-width="1.1" stroke-linejoin="round" stroke-linecap="round"/>
<polyline points="448.90,253.55 456.90,253.55" fill="none" stroke="#dedede" stroke-width="1.1" stroke-linejoin="round" stroke-linecap="round"/>
<polyline points="448.90,260.84 456.90,260.85" fill="none" stroke="#dedede" stroke-width="1.1" stroke-linejoin="round" stroke-linecap="round"/>
<rect x="449.40" y="290.00" width="20.40" height="2.60" fill="#f4f4f4"/>
<rect x="480.00" y="185.00" width="153.20" height="111.60" fill="#070505"/>
<ellipse cx="548" cy="279.5" rx="38" ry="9" fill="url(#plume)" transform="rotate(-21 548 279.5)" filter="url(#bl3)"/>
<ellipse cx="578" cy="256" rx="24" ry="15" fill="url(#redglow)" transform="rotate(25 578 256)"/>
<path d="M633.2,192.5 L598.2,223.1 Q592.4,228 592.3,234.5 Q592.6,243.5 598,249.5 Q604,255.5 613.1,255.5 L633.2,241.5 Z" fill="url(#torch)"/>
<ellipse cx="584" cy="255" rx="17" ry="10" fill="url(#glow)" transform="rotate(-25 584 255)"/>
<path d="M480,185 L496,185 Q499,187.5 501,191 L505.5,199 Q509,206 511.5,212.5 Q514,218 514.4,222.5 Q514.5,227 512,230 Q508,233 503.3,234.7 Q500.2,236 500.2,240 Q500.5,245 498.6,248.7 Q496,252.5 490,255 Q484,256 480,254.9 Z" fill="url(#skin)"/>
<path d="M480,236.5 Q490,235.5 500.5,236.2" stroke="#7a5040" stroke-width="1" fill="none" opacity="0.7"/>
<path d="M486,196 Q489,210 487,226" stroke="#9a6a50" stroke-width="1.2" fill="none" opacity="0.5" filter="url(#bl1)"/>
<ellipse cx="503" cy="222" rx="6" ry="8" fill="#f0c8b0" opacity="0.35" filter="url(#bl3)"/>
<polyline points="508.65,224.62 512.93,223.44 529.59,231.41 530.89,235.18 526.63,236.31 509.93,228.44 508.65,224.62" fill="none" stroke="#ecebea" stroke-width="1.15" stroke-linejoin="round" stroke-linecap="round"/>
<polyline points="505.64,229.63 509.93,228.44 526.63,236.31 527.94,240.07 523.67,241.22 506.93,233.43 505.64,229.63" fill="none" stroke="#ecebea" stroke-width="1.15" stroke-linejoin="round" stroke-linecap="round"/>
<polyline points="502.64,234.64 506.93,233.43 523.67,241.22 524.98,244.96 520.71,246.12 503.93,238.43 502.64,234.64" fill="none" stroke="#ecebea" stroke-width="1.15" stroke-linejoin="round" stroke-linecap="round"/>
<polyline points="499.63,239.65 503.93,238.43 520.71,246.12 522.03,249.85 517.75,251.03 500.93,243.42 499.63,239.65" fill="none" stroke="#ecebea" stroke-width="1.15" stroke-linejoin="round" stroke-linecap="round"/>
<polyline points="529.59,231.41 533.85,230.29 550.50,238.30 551.82,242.03 547.58,243.10 530.89,235.18 529.59,231.41" fill="none" stroke="#ecebea" stroke-width="1.15" stroke-linejoin="round" stroke-linecap="round"/>
<polyline points="526.63,236.31 530.89,235.18 547.58,243.10 548.90,246.81 544.66,247.90 527.94,240.07 526.63,236.31" fill="none" stroke="#ecebea" stroke-width="1.15" stroke-linejoin="round" stroke-linecap="round"/>
<polyline points="523.67,241.22 527.94,240.07 544.66,247.90 545.99,251.60 541.74,252.70 524.98,244.96 523.67,241.22" fill="none" stroke="#ecebea" stroke-width="1.15" stroke-linejoin="round" stroke-linecap="round"/>
<polyline points="520.71,246.12 524.98,244.96 541.74,252.70 543.08,256.38 538.82,257.50 522.03,249.85 520.71,246.12" fill="none" stroke="#ecebea" stroke-width="1.15" stroke-linejoin="round" stroke-linecap="round"/>
<polyline points="517.75,251.03 522.03,249.85 538.82,257.50 540.16,261.17 535.90,262.30 519.07,254.74 517.75,251.03" fill="none" stroke="#ecebea" stroke-width="1.15" stroke-linejoin="round" stroke-linecap="round"/>
<polyline points="547.58,243.10 551.82,242.03 568.49,249.99 569.83,253.66 565.61,254.69 548.90,246.81 547.58,243.10" fill="none" stroke="#ecebea" stroke-width="1.15" stroke-linejoin="round" stroke-linecap="round"/>
<polyline points="544.66,247.90 548.90,246.81 565.61,254.69 566.96,258.34 562.73,259.38 545.99,251.60 544.66,247.90" fill="none" stroke="#ecebea" stroke-width="1.15" stroke-linejoin="round" stroke-linecap="round"/>
<polyline points="541.74,252.70 545.99,251.60 562.73,259.38 564.08,263.02 559.85,264.08 543.08,256.38 541.74,252.70" fill="none" stroke="#ecebea" stroke-width="1.15" stroke-linejoin="round" stroke-linecap="round"/>
<polyline points="538.82,257.50 543.08,256.38 559.85,264.08 561.21,267.70 556.97,268.77 540.16,261.17 538.82,257.50" fill="none" stroke="#ecebea" stroke-width="1.15" stroke-linejoin="round" stroke-linecap="round"/>
<polyline points="568.49,249.99 572.70,248.98 589.35,256.99 590.71,260.61 586.51,261.58 569.83,253.66 568.49,249.99" fill="none" stroke="#ecebea" stroke-width="1.15" stroke-linejoin="round" stroke-linecap="round"/>
<polyline points="565.61,254.69 569.83,253.66 586.51,261.58 587.88,265.19 583.68,266.17 566.96,258.34 565.61,254.69" fill="none" stroke="#ecebea" stroke-width="1.15" stroke-linejoin="round" stroke-linecap="round"/>
<polyline points="562.73,259.38 566.96,258.34 583.68,266.17 585.05,269.76 580.84,270.76 564.08,263.02 562.73,259.38" fill="none" stroke="#ecebea" stroke-width="1.15" stroke-linejoin="round" stroke-linecap="round"/>
<polyline points="559.85,264.08 564.08,263.02 580.84,270.76 582.22,274.34 578.01,275.35 561.21,267.70 559.85,264.08" fill="none" stroke="#ecebea" stroke-width="1.15" stroke-linejoin="round" stroke-linecap="round"/>
<polyline points="556.97,268.77 561.21,267.70 578.01,275.35 579.39,278.91 575.17,279.94 558.34,272.38 556.97,268.77" fill="none" stroke="#ecebea" stroke-width="1.15" stroke-linejoin="round" stroke-linecap="round"/>
<polyline points="586.51,261.58 590.71,260.61 607.38,268.58 608.76,272.14 604.58,273.06 587.88,265.19 586.51,261.58" fill="none" stroke="#ecebea" stroke-width="1.15" stroke-linejoin="round" stroke-linecap="round"/>
<polyline points="583.68,266.17 587.88,265.19 604.58,273.06 605.97,276.61 601.79,277.55 585.05,269.76 583.68,266.17" fill="none" stroke="#ecebea" stroke-width="1.15" stroke-linejoin="round" stroke-linecap="round"/>
<polyline points="580.84,270.76 585.05,269.76 601.79,277.55 603.19,281.08 599.00,282.03 582.22,274.34 580.84,270.76" fill="none" stroke="#ecebea" stroke-width="1.15" stroke-linejoin="round" stroke-linecap="round"/>
<polyline points="578.01,275.35 582.22,274.34 599.00,282.03 600.40,285.55 596.20,286.52 579.39,278.91 578.01,275.35" fill="none" stroke="#ecebea" stroke-width="1.15" stroke-linejoin="round" stroke-linecap="round"/>
<polyline points="508.65,224.62 505.87,223.30" fill="none" stroke="#ecebea" stroke-width="1.15" stroke-linejoin="round" stroke-linecap="round"/>
<polyline points="505.64,229.63 502.86,228.33" fill="none" stroke="#ecebea" stroke-width="1.15" stroke-linejoin="round" stroke-linecap="round"/>
<polyline points="502.64,234.64 499.85,233.35" fill="none" stroke="#ecebea" stroke-width="1.15" stroke-linejoin="round" stroke-linecap="round"/>
<polyline points="499.63,239.65 496.84,238.38" fill="none" stroke="#ecebea" stroke-width="1.15" stroke-linejoin="round" stroke-linecap="round"/>
<g filter="url(#bl1)" opacity="0.75">
<polyline points="573.12,252.20 604.60,267.25" fill="none" stroke="#ffb080" stroke-width="1.2" stroke-linejoin="round" stroke-linecap="round"/>
<polyline points="570.25,256.88 601.80,271.75" fill="none" stroke="#ffb080" stroke-width="1.2" stroke-linejoin="round" stroke-linecap="round"/>
<polyline points="567.38,261.55 599.00,276.25" fill="none" stroke="#ffb080" stroke-width="1.2" stroke-linejoin="round" stroke-linecap="round"/>
<polyline points="564.51,266.22 596.20,280.75" fill="none" stroke="#ffb080" stroke-width="1.2" stroke-linejoin="round" stroke-linecap="round"/>
</g>
<ellipse cx="584" cy="254.5" rx="5" ry="4" fill="#fffaf0" opacity="0.9" filter="url(#bl1)"/>
<path d="M596.5,246 L587,250 L584.5,253.5 L588,254.5 L598,251.5 Z" fill="#60c8ff" filter="url(#bl1)"/>
<line x1="49.50" y1="447.50" x2="197.50" y2="447.50" stroke="#3c3c3c" stroke-width="1"/>
<line x1="49.50" y1="328.50" x2="49.50" y2="447.50" stroke="#3c3c3c" stroke-width="1"/>
<line x1="49.50" y1="328.50" x2="197.50" y2="328.50" stroke="#555" stroke-width="1"/>
<line x1="197.50" y1="328.50" x2="197.50" y2="447.50" stroke="#555" stroke-width="1"/>
<line x1="49.70" y1="447.40" x2="49.70" y2="449.90" stroke="#3c3c3c" stroke-width="1"/>
<text x="49.70" y="460.30" font-size="11.0" text-anchor="middle" fill="#222">0</text>
<line x1="64.46" y1="447.40" x2="64.46" y2="448.90" stroke="#3c3c3c" stroke-width="0.7"/>
<line x1="79.22" y1="447.40" x2="79.22" y2="449.90" stroke="#3c3c3c" stroke-width="1"/>
<text x="79.22" y="460.30" font-size="11.0" text-anchor="middle" fill="#222">10</text>
<line x1="93.98" y1="447.40" x2="93.98" y2="448.90" stroke="#3c3c3c" stroke-width="0.7"/>
<line x1="108.74" y1="447.40" x2="108.74" y2="449.90" stroke="#3c3c3c" stroke-width="1"/>
<text x="108.74" y="460.30" font-size="11.0" text-anchor="middle" fill="#222">20</text>
<line x1="123.50" y1="447.40" x2="123.50" y2="448.90" stroke="#3c3c3c" stroke-width="0.7"/>
<line x1="138.26" y1="447.40" x2="138.26" y2="449.90" stroke="#3c3c3c" stroke-width="1"/>
<text x="138.26" y="460.30" font-size="11.0" text-anchor="middle" fill="#222">30</text>
<line x1="153.02" y1="447.40" x2="153.02" y2="448.90" stroke="#3c3c3c" stroke-width="0.7"/>
<line x1="167.78" y1="447.40" x2="167.78" y2="449.90" stroke="#3c3c3c" stroke-width="1"/>
<text x="167.78" y="460.30" font-size="11.0" text-anchor="middle" fill="#222">40</text>
<line x1="182.54" y1="447.40" x2="182.54" y2="448.90" stroke="#3c3c3c" stroke-width="0.7"/>
<line x1="197.30" y1="447.40" x2="197.30" y2="449.90" stroke="#3c3c3c" stroke-width="1"/>
<text x="197.30" y="460.30" font-size="11.0" text-anchor="middle" fill="#222">50</text>
<line x1="47.20" y1="447.40" x2="49.70" y2="447.40" stroke="#3c3c3c" stroke-width="1"/>
<text x="45.50" y="451.30" font-size="11.0" text-anchor="end" fill="#222">0.0</text>
<line x1="48.20" y1="438.20" x2="49.70" y2="438.20" stroke="#3c3c3c" stroke-width="0.7"/>
<line x1="47.20" y1="429.00" x2="49.70" y2="429.00" stroke="#3c3c3c" stroke-width="1"/>
<text x="45.50" y="432.90" font-size="11.0" text-anchor="end" fill="#222">0.2</text>
<line x1="48.20" y1="419.80" x2="49.70" y2="419.80" stroke="#3c3c3c" stroke-width="0.7"/>
<line x1="47.20" y1="410.60" x2="49.70" y2="410.60" stroke="#3c3c3c" stroke-width="1"/>
<text x="45.50" y="414.50" font-size="11.0" text-anchor="end" fill="#222">0.4</text>
<line x1="48.20" y1="401.40" x2="49.70" y2="401.40" stroke="#3c3c3c" stroke-width="0.7"/>
<line x1="47.20" y1="392.20" x2="49.70" y2="392.20" stroke="#3c3c3c" stroke-width="1"/>
<text x="45.50" y="396.10" font-size="11.0" text-anchor="end" fill="#222">0.6</text>
<line x1="48.20" y1="383.00" x2="49.70" y2="383.00" stroke="#3c3c3c" stroke-width="0.7"/>
<line x1="47.20" y1="373.80" x2="49.70" y2="373.80" stroke="#3c3c3c" stroke-width="1"/>
<text x="45.50" y="377.70" font-size="11.0" text-anchor="end" fill="#222">0.8</text>
<line x1="48.20" y1="364.60" x2="49.70" y2="364.60" stroke="#3c3c3c" stroke-width="0.7"/>
<line x1="47.20" y1="355.40" x2="49.70" y2="355.40" stroke="#3c3c3c" stroke-width="1"/>
<text x="45.50" y="359.30" font-size="11.0" text-anchor="end" fill="#222">1.0</text>
<line x1="48.20" y1="346.20" x2="49.70" y2="346.20" stroke="#3c3c3c" stroke-width="0.7"/>
<line x1="47.20" y1="337.00" x2="49.70" y2="337.00" stroke="#3c3c3c" stroke-width="1"/>
<text x="45.50" y="340.90" font-size="11.0" text-anchor="end" fill="#222">1.2</text>
<line x1="48.20" y1="327.80" x2="49.70" y2="327.80" stroke="#3c3c3c" stroke-width="0.7"/>
<text x="8.30" y="333.20" font-size="16.5" text-anchor="middle" fill="#111" font-weight="bold">e</text>
<text x="25.20" y="420.91" font-size="11.57" fill="#222" transform="rotate(-90 25.20 420.91)">Stress (MPa)</text>
<text x="99.00" y="475.60" font-size="11.17" fill="#222">Strain (%)</text>
<polyline points="49.70,447.40 51.18,443.99 52.65,440.62 54.13,437.30 55.60,434.03 57.08,430.79 58.56,427.60 60.03,424.46 61.51,421.36 62.98,418.30 64.46,415.29 65.94,412.32 67.41,409.39 68.89,406.51 70.36,403.68 71.84,400.88 73.32,398.14 74.79,395.43 76.27,392.77 77.74,390.15 79.22,387.58 80.70,385.05 82.17,382.57 83.65,380.13 85.12,377.73 86.60,375.38 88.08,373.07 89.55,370.81 91.03,368.59 92.50,366.41 93.98,364.28 95.46,362.20 96.93,360.15 98.41,358.15 99.88,356.20 101.36,354.29 102.84,352.42 104.31,350.60 105.79,348.82 107.26,347.08 107.26,347.12 107.85,427.16" fill="none" stroke="#e85a5a" stroke-width="0.9" stroke-linejoin="round" stroke-linecap="round"/>
<polyline points="49.70,447.40 64.46,446.66 93.98,443.72 138.26,438.66 179.59,433.42 182.84,441.88" fill="none" stroke="#555" stroke-width="0.9" stroke-linejoin="round" stroke-linecap="round"/>
<text x="143.75" y="340.80" font-size="8.99" fill="#222">AP hydrogel</text>
<line x1="134.30" y1="351.40" x2="154.60" y2="351.40" stroke="#777" stroke-width="0.9"/>
<text x="157.20" y="354.60" font-size="9.1" text-anchor="start" fill="#222">70% H<tspan dy="2.2" font-size="6.3">2</tspan><tspan dy="-2.2">O</tspan></text>
<line x1="134.30" y1="364.50" x2="154.60" y2="364.50" stroke="#ee7a8a" stroke-width="1.0"/>
<text x="157.20" y="367.20" font-size="9.1" text-anchor="start" fill="#222">20% H<tspan dy="2.2" font-size="6.3">2</tspan><tspan dy="-2.2">O</tspan></text>
<line x1="252.50" y1="449.50" x2="401.50" y2="449.50" stroke="#3c3c3c" stroke-width="1"/>
<line x1="252.50" y1="329.50" x2="252.50" y2="449.50" stroke="#3c3c3c" stroke-width="1"/>
<line x1="252.50" y1="329.50" x2="401.50" y2="329.50" stroke="#555" stroke-width="1"/>
<line x1="401.50" y1="329.50" x2="401.50" y2="449.50" stroke="#555" stroke-width="1"/>
<line x1="401.50" y1="329.50" x2="401.50" y2="449.50" stroke="#4a84cc" stroke-width="1"/>
<line x1="263.20" y1="449.70" x2="263.20" y2="452.20" stroke="#3c3c3c" stroke-width="1"/>
<text x="263.20" y="461.90" font-size="11.0" text-anchor="middle" fill="#222">70</text>
<line x1="273.80" y1="449.70" x2="273.80" y2="451.20" stroke="#3c3c3c" stroke-width="0.7"/>
<line x1="284.40" y1="449.70" x2="284.40" y2="452.20" stroke="#3c3c3c" stroke-width="1"/>
<text x="284.40" y="461.90" font-size="11.0" text-anchor="middle" fill="#222">60</text>
<line x1="295.00" y1="449.70" x2="295.00" y2="451.20" stroke="#3c3c3c" stroke-width="0.7"/>
<line x1="305.60" y1="449.70" x2="305.60" y2="452.20" stroke="#3c3c3c" stroke-width="1"/>
<text x="305.60" y="461.90" font-size="11.0" text-anchor="middle" fill="#222">50</text>
<line x1="316.20" y1="449.70" x2="316.20" y2="451.20" stroke="#3c3c3c" stroke-width="0.7"/>
<line x1="326.80" y1="449.70" x2="326.80" y2="452.20" stroke="#3c3c3c" stroke-width="1"/>
<text x="326.80" y="461.90" font-size="11.0" text-anchor="middle" fill="#222">40</text>
<line x1="337.40" y1="449.70" x2="337.40" y2="451.20" stroke="#3c3c3c" stroke-width="0.7"/>
<line x1="348.00" y1="449.70" x2="348.00" y2="452.20" stroke="#3c3c3c" stroke-width="1"/>
<text x="348.00" y="461.90" font-size="11.0" text-anchor="middle" fill="#222">30</text>
<line x1="358.60" y1="449.70" x2="358.60" y2="451.20" stroke="#3c3c3c" stroke-width="0.7"/>
<line x1="369.20" y1="449.70" x2="369.20" y2="452.20" stroke="#3c3c3c" stroke-width="1"/>
<text x="369.20" y="461.90" font-size="11.0" text-anchor="middle" fill="#222">20</text>
<line x1="379.80" y1="449.70" x2="379.80" y2="451.20" stroke="#3c3c3c" stroke-width="0.7"/>
<line x1="390.40" y1="449.70" x2="390.40" y2="452.20" stroke="#3c3c3c" stroke-width="1"/>
<text x="390.40" y="461.90" font-size="11.0" text-anchor="middle" fill="#222">10</text>
<line x1="250.10" y1="432.00" x2="252.60" y2="432.00" stroke="#3c3c3c" stroke-width="1"/>
<text x="248.80" y="436.00" font-size="11.0" text-anchor="end" fill="#222">0</text>
<line x1="251.10" y1="448.95" x2="252.60" y2="448.95" stroke="#3c3c3c" stroke-width="0.7"/>
<line x1="250.10" y1="398.10" x2="252.60" y2="398.10" stroke="#3c3c3c" stroke-width="1"/>
<text x="248.80" y="402.10" font-size="11.0" text-anchor="end" fill="#222">5</text>
<line x1="251.10" y1="415.05" x2="252.60" y2="415.05" stroke="#3c3c3c" stroke-width="0.7"/>
<line x1="250.10" y1="364.20" x2="252.60" y2="364.20" stroke="#3c3c3c" stroke-width="1"/>
<text x="248.80" y="368.20" font-size="11.0" text-anchor="end" fill="#222">10</text>
<line x1="251.10" y1="381.15" x2="252.60" y2="381.15" stroke="#3c3c3c" stroke-width="0.7"/>
<line x1="250.10" y1="330.30" x2="252.60" y2="330.30" stroke="#3c3c3c" stroke-width="1"/>
<text x="248.80" y="334.30" font-size="11.0" text-anchor="end" fill="#222">15</text>
<line x1="251.10" y1="347.25" x2="252.60" y2="347.25" stroke="#3c3c3c" stroke-width="0.7"/>
<line x1="401.80" y1="449.70" x2="404.30" y2="449.70" stroke="#4a84cc" stroke-width="1"/>
<text x="405.80" y="453.70" font-size="11.0" text-anchor="start" fill="#4a84cc">0.2</text>
<line x1="401.80" y1="436.31" x2="403.30" y2="436.31" stroke="#4a84cc" stroke-width="0.7"/>
<line x1="401.80" y1="422.92" x2="404.30" y2="422.92" stroke="#4a84cc" stroke-width="1"/>
<text x="405.80" y="426.92" font-size="11.0" text-anchor="start" fill="#4a84cc">0.4</text>
<line x1="401.80" y1="409.53" x2="403.30" y2="409.53" stroke="#4a84cc" stroke-width="0.7"/>
<line x1="401.80" y1="396.14" x2="404.30" y2="396.14" stroke="#4a84cc" stroke-width="1"/>
<text x="405.80" y="400.14" font-size="11.0" text-anchor="start" fill="#4a84cc">0.6</text>
<line x1="401.80" y1="382.75" x2="403.30" y2="382.75" stroke="#4a84cc" stroke-width="0.7"/>
<line x1="401.80" y1="369.36" x2="404.30" y2="369.36" stroke="#4a84cc" stroke-width="1"/>
<text x="405.80" y="373.36" font-size="11.0" text-anchor="start" fill="#4a84cc">0.8</text>
<line x1="401.80" y1="355.97" x2="403.30" y2="355.97" stroke="#4a84cc" stroke-width="0.7"/>
<line x1="401.80" y1="342.58" x2="404.30" y2="342.58" stroke="#4a84cc" stroke-width="1"/>
<text x="405.80" y="346.58" font-size="11.0" text-anchor="start" fill="#4a84cc">1.0</text>
<text x="216.20" y="332.90" font-size="16.5" text-anchor="middle" fill="#111" font-weight="bold">f</text>
<text x="231.20" y="455.48" font-size="11.38" fill="#222" transform="rotate(-90 231.20 455.48)">Young's modulus (MPa)</text>
<text x="434.70" y="441.75" font-size="11.35" fill="#4a84cc" transform="rotate(-90 434.70 441.75)">Volumetric shrinkage</text>
<text x="282.05" y="475.70" font-size="11.37" fill="#222">Water content (%)</text>
<text x="348.45" y="341.60" font-size="8.93" fill="#222">AP hydrogel</text>
<rect x="287.10" y="332.40" width="35.60" height="32.10" fill="#0a0806"/>
<rect x="287.10" y="357.60" width="35.60" height="6.90" fill="#4a4850"/>
<rect x="295.40" y="336.80" width="18.70" height="21.00" fill="#eadcb8" rx="1.5"/>
<rect x="296.80" y="338.20" width="15.50" height="16.00" fill="#f3e8cc" rx="1"/>
<rect x="372.20" y="392.30" width="26.80" height="24.70" fill="#080604"/>
<rect x="372.20" y="411.20" width="26.80" height="5.80" fill="#5a5850"/>
<rect x="378.60" y="396.60" width="13.60" height="13.80" fill="#e6d030" rx="1"/>
<rect x="380.20" y="398.20" width="10.40" height="10.40" fill="#d0b818" rx="1"/>
<polyline points="262.80,342.80 265.10,346.20 266.60,348.90 268.40,351.80 270.60,355.10 276.20,362.30 281.80,367.40 285.20,370.70 289.60,375.70 295.20,379.20 300.80,383.70 305.30,388.20 310.90,392.60 316.40,397.60 322.00,401.60 326.50,403.10 332.10,406.00 337.70,409.20 343.20,412.10 348.80,415.00 354.40,417.20 360.00,419.40 365.60,421.00 371.20,422.80 374.50,423.90 379.00,425.50 384.60,426.60 390.20,428.40" fill="none" stroke="#4a84cc" stroke-width="0.6" stroke-linejoin="round" stroke-linecap="round"/>
<circle cx="262.80" cy="342.80" r="1.95" fill="#fff" stroke="#5a90d8" stroke-width="0.8"/>
<circle cx="265.10" cy="346.20" r="1.95" fill="#fff" stroke="#5a90d8" stroke-width="0.8"/>
<circle cx="266.60" cy="348.90" r="1.95" fill="#fff" stroke="#5a90d8" stroke-width="0.8"/>
<circle cx="268.40" cy="351.80" r="1.95" fill="#fff" stroke="#5a90d8" stroke-width="0.8"/>
<circle cx="270.60" cy="355.10" r="1.95" fill="#fff" stroke="#5a90d8" stroke-width="0.8"/>
<circle cx="276.20" cy="362.30" r="1.95" fill="#fff" stroke="#5a90d8" stroke-width="0.8"/>
<circle cx="281.80" cy="367.40" r="1.95" fill="#fff" stroke="#5a90d8" stroke-width="0.8"/>
<circle cx="285.20" cy="370.70" r="1.95" fill="#fff" stroke="#5a90d8" stroke-width="0.8"/>
<circle cx="289.60" cy="375.70" r="1.95" fill="#fff" stroke="#5a90d8" stroke-width="0.8"/>
<circle cx="295.20" cy="379.20" r="1.95" fill="#fff" stroke="#5a90d8" stroke-width="0.8"/>
<circle cx="300.80" cy="383.70" r="1.95" fill="#fff" stroke="#5a90d8" stroke-width="0.8"/>
<circle cx="305.30" cy="388.20" r="1.95" fill="#fff" stroke="#5a90d8" stroke-width="0.8"/>
<circle cx="310.90" cy="392.60" r="1.95" fill="#fff" stroke="#5a90d8" stroke-width="0.8"/>
<circle cx="316.40" cy="397.60" r="1.95" fill="#fff" stroke="#5a90d8" stroke-width="0.8"/>
<circle cx="322.00" cy="401.60" r="1.95" fill="#fff" stroke="#5a90d8" stroke-width="0.8"/>
<circle cx="326.50" cy="403.10" r="1.95" fill="#fff" stroke="#5a90d8" stroke-width="0.8"/>
<circle cx="332.10" cy="406.00" r="1.95" fill="#fff" stroke="#5a90d8" stroke-width="0.8"/>
<circle cx="337.70" cy="409.20" r="1.95" fill="#fff" stroke="#5a90d8" stroke-width="0.8"/>
<circle cx="343.20" cy="412.10" r="1.95" fill="#fff" stroke="#5a90d8" stroke-width="0.8"/>
<circle cx="348.80" cy="415.00" r="1.95" fill="#fff" stroke="#5a90d8" stroke-width="0.8"/>
<circle cx="354.40" cy="417.20" r="1.95" fill="#fff" stroke="#5a90d8" stroke-width="0.8"/>
<circle cx="360.00" cy="419.40" r="1.95" fill="#fff" stroke="#5a90d8" stroke-width="0.8"/>
<circle cx="365.60" cy="421.00" r="1.95" fill="#fff" stroke="#5a90d8" stroke-width="0.8"/>
<circle cx="371.20" cy="422.80" r="1.95" fill="#fff" stroke="#5a90d8" stroke-width="0.8"/>
<circle cx="374.50" cy="423.90" r="1.95" fill="#fff" stroke="#5a90d8" stroke-width="0.8"/>
<circle cx="379.00" cy="425.50" r="1.95" fill="#fff" stroke="#5a90d8" stroke-width="0.8"/>
<circle cx="384.60" cy="426.60" r="1.95" fill="#fff" stroke="#5a90d8" stroke-width="0.8"/>
<circle cx="390.20" cy="428.40" r="1.95" fill="#fff" stroke="#5a90d8" stroke-width="0.8"/>
<polyline points="263.20,430.31 284.40,423.19 305.60,415.05 326.80,401.49 348.00,397.76 369.20,384.61 390.40,355.52" fill="none" stroke="#555" stroke-width="0.9" stroke-linejoin="round" stroke-linecap="round"/>
<circle cx="263.20" cy="430.31" r="2.2" fill="#444" stroke="none" stroke-width="0"/>
<circle cx="284.40" cy="423.19" r="2.2" fill="#444" stroke="none" stroke-width="0"/>
<circle cx="305.60" cy="415.05" r="2.2" fill="#444" stroke="none" stroke-width="0"/>
<circle cx="326.80" cy="401.49" r="2.2" fill="#444" stroke="none" stroke-width="0"/>
<circle cx="348.00" cy="397.76" r="2.2" fill="#444" stroke="none" stroke-width="0"/>
<circle cx="369.20" cy="384.61" r="2.2" fill="#444" stroke="none" stroke-width="0"/>
<circle cx="390.40" cy="355.52" r="2.2" fill="#444" stroke="none" stroke-width="0"/>
<line x1="486.50" y1="448.50" x2="634.50" y2="448.50" stroke="#3c3c3c" stroke-width="1"/>
<line x1="486.50" y1="328.50" x2="486.50" y2="448.50" stroke="#3c3c3c" stroke-width="1"/>
<line x1="486.50" y1="328.50" x2="634.50" y2="328.50" stroke="#555" stroke-width="1"/>
<line x1="634.50" y1="328.50" x2="634.50" y2="448.50" stroke="#555" stroke-width="1"/>
<line x1="486.20" y1="448.00" x2="486.20" y2="450.50" stroke="#3c3c3c" stroke-width="1"/>
<text x="486.20" y="460.80" font-size="11.2" text-anchor="middle" fill="#222">0</text>
<line x1="499.71" y1="448.00" x2="499.71" y2="449.50" stroke="#3c3c3c" stroke-width="0.7"/>
<line x1="513.22" y1="448.00" x2="513.22" y2="450.50" stroke="#3c3c3c" stroke-width="1"/>
<text x="513.22" y="460.80" font-size="11.2" text-anchor="middle" fill="#222">5</text>
<line x1="526.73" y1="448.00" x2="526.73" y2="449.50" stroke="#3c3c3c" stroke-width="0.7"/>
<line x1="540.24" y1="448.00" x2="540.24" y2="450.50" stroke="#3c3c3c" stroke-width="1"/>
<text x="540.24" y="460.80" font-size="11.2" text-anchor="middle" fill="#222">10</text>
<line x1="553.75" y1="448.00" x2="553.75" y2="449.50" stroke="#3c3c3c" stroke-width="0.7"/>
<line x1="567.26" y1="448.00" x2="567.26" y2="450.50" stroke="#3c3c3c" stroke-width="1"/>
<text x="567.26" y="460.80" font-size="11.2" text-anchor="middle" fill="#222">15</text>
<line x1="580.77" y1="448.00" x2="580.77" y2="449.50" stroke="#3c3c3c" stroke-width="0.7"/>
<line x1="594.28" y1="448.00" x2="594.28" y2="450.50" stroke="#3c3c3c" stroke-width="1"/>
<text x="594.28" y="460.80" font-size="11.2" text-anchor="middle" fill="#222">20</text>
<line x1="607.79" y1="448.00" x2="607.79" y2="449.50" stroke="#3c3c3c" stroke-width="0.7"/>
<line x1="621.30" y1="448.00" x2="621.30" y2="450.50" stroke="#3c3c3c" stroke-width="1"/>
<text x="621.30" y="460.80" font-size="11.2" text-anchor="middle" fill="#222">25</text>
<line x1="634.81" y1="448.00" x2="634.81" y2="449.50" stroke="#3c3c3c" stroke-width="0.7"/>
<line x1="483.70" y1="448.00" x2="486.20" y2="448.00" stroke="#3c3c3c" stroke-width="1"/>
<text x="482.20" y="451.00" font-size="11.2" text-anchor="end" fill="#222">0</text>
<line x1="484.70" y1="433.09" x2="486.20" y2="433.09" stroke="#3c3c3c" stroke-width="0.7"/>
<line x1="483.70" y1="418.18" x2="486.20" y2="418.18" stroke="#3c3c3c" stroke-width="1"/>
<text x="482.20" y="421.18" font-size="11.2" text-anchor="end" fill="#222">5</text>
<line x1="484.70" y1="403.26" x2="486.20" y2="403.26" stroke="#3c3c3c" stroke-width="0.7"/>
<line x1="483.70" y1="388.35" x2="486.20" y2="388.35" stroke="#3c3c3c" stroke-width="1"/>
<text x="482.20" y="391.35" font-size="11.2" text-anchor="end" fill="#222">10</text>
<line x1="484.70" y1="373.44" x2="486.20" y2="373.44" stroke="#3c3c3c" stroke-width="0.7"/>
<line x1="483.70" y1="358.52" x2="486.20" y2="358.52" stroke="#3c3c3c" stroke-width="1"/>
<text x="482.20" y="361.52" font-size="11.2" text-anchor="end" fill="#222">15</text>
<line x1="484.70" y1="343.61" x2="486.20" y2="343.61" stroke="#3c3c3c" stroke-width="0.7"/>
<line x1="483.70" y1="328.70" x2="486.20" y2="328.70" stroke="#3c3c3c" stroke-width="1"/>
<text x="482.20" y="331.70" font-size="11.2" text-anchor="end" fill="#222">20</text>
<text x="452.70" y="333.00" font-size="16.5" text-anchor="middle" fill="#111" font-weight="bold">g</text>
<text x="464.30" y="434.55" font-size="11.24" fill="#222" transform="rotate(-90 464.30 434.55)">Force/Width (N/m)</text>
<text x="511.45" y="475.60" font-size="11.26" fill="#222">Displacement (mm)</text>
<polyline points="486.30,447.10 486.62,446.74 487.03,446.28 487.50,445.75 488.03,445.16 488.61,444.51 489.22,443.83 489.85,443.11 490.50,442.37 491.15,441.63 491.79,440.90 492.41,440.19 493.00,439.50 493.57,438.83 494.15,438.14 494.74,437.44 495.33,436.73 495.93,436.02 496.52,435.30 497.11,434.58 497.69,433.87 498.26,433.16 498.82,432.46 499.37,431.77 499.90,431.10 500.41,430.44 500.91,429.80 501.39,429.16 501.86,428.53 502.32,427.91 502.77,427.29 503.22,426.68 503.67,426.06 504.12,425.43 504.57,424.80 505.03,424.16 505.50,423.50 505.98,422.83 506.47,422.16 506.96,421.48 507.46,420.80 507.96,420.11 508.46,419.42 508.95,418.72 509.44,418.02 509.92,417.32 510.39,416.61 510.85,415.91 511.30,415.20 511.73,414.49 512.15,413.78 512.56,413.07 512.96,412.36 513.35,411.64 513.74,410.92 514.12,410.20 514.50,409.47 514.87,408.74 515.25,408.00 515.62,407.25 516.00,406.50 516.38,405.73 516.76,404.96 517.14,404.17 517.52,403.37 517.90,402.57 518.27,401.77 518.64,400.96 519.00,400.16 519.36,399.36 519.72,398.56 520.06,397.78 520.40,397.00 520.73,396.23 521.05,395.47 521.36,394.72 521.67,393.97 521.97,393.23 522.27,392.49 522.56,391.75 522.85,391.00 523.14,390.26 523.43,389.51 523.71,388.76 524.00,388.00 524.29,387.24 524.57,386.49 524.84,385.75 525.12,385.00 525.39,384.25 525.66,383.50 525.93,382.74 526.20,381.97 526.47,381.18 526.75,380.38 527.02,379.55 527.30,378.70 527.58,377.82 527.87,376.92 528.17,376.00 528.47,375.05 528.77,374.09 529.06,373.12 529.36,372.15 529.64,371.17 529.92,370.19 530.20,369.22 530.45,368.25 530.70,367.30 530.93,366.33 531.16,365.32 531.37,364.29 531.57,363.24 531.77,362.19 531.96,361.16 532.15,360.15 532.33,359.19 532.50,358.27 532.67,357.43 532.84,356.67 533.00,356.00 533.16,355.42 533.33,354.92 533.49,354.49 533.64,354.13 533.80,353.81 533.94,353.54 534.08,353.32 534.21,353.12 534.33,352.95 534.43,352.79 534.52,352.64 534.60,352.50 534.60,352.50 536.40,354.10 538.70,352.50 541.00,353.20 545.00,355.50 549.30,358.80 553.00,365.90 556.40,367.20 560.50,370.50 566.00,371.80 573.50,372.40 578.00,370.00 582.80,367.70 588.00,365.80 593.10,364.00 595.90,371.50 599.20,384.50 600.50,400.00 602.00,410.00 603.60,418.90" fill="none" stroke="#e85a5a" stroke-width="0.9" stroke-linejoin="round" stroke-linecap="round"/>
<polyline points="486.30,447.10 486.58,446.61 486.92,446.00 487.32,445.29 487.78,444.49 488.27,443.62 488.79,442.70 489.34,441.74 489.89,440.76 490.44,439.78 490.98,438.82 491.51,437.88 492.00,437.00 492.48,436.14 492.96,435.27 493.45,434.39 493.93,433.51 494.42,432.62 494.91,431.74 495.39,430.86 495.87,429.98 496.34,429.12 496.80,428.26 497.26,427.42 497.70,426.60 498.13,425.80 498.56,425.01 498.98,424.24 499.39,423.47 499.79,422.72 500.19,421.98 500.58,421.23 500.97,420.49 501.36,419.75 501.74,419.01 502.12,418.26 502.50,417.50 502.88,416.73 503.25,415.96 503.62,415.17 503.99,414.39 504.36,413.60 504.72,412.82 505.08,412.04 505.43,411.27 505.78,410.50 506.12,409.75 506.46,409.02 506.80,408.30 507.13,407.60 507.46,406.92 507.78,406.26 508.10,405.61 508.41,404.97 508.73,404.33 509.03,403.70 509.33,403.07 509.63,402.44 509.93,401.80 510.21,401.16 510.50,400.50 510.78,399.84 511.05,399.18 511.32,398.51 511.59,397.85 511.84,397.19 512.10,396.52 512.35,395.85 512.60,395.17 512.85,394.49 513.10,393.80 513.35,393.10 513.60,392.40 513.85,391.69 514.10,390.97 514.34,390.24 514.59,389.51 514.83,388.77 515.07,388.02 515.31,387.28 515.55,386.53 515.79,385.77 516.02,385.02 516.26,384.26 516.50,383.50 516.74,382.74 516.98,381.98 517.21,381.22 517.45,380.46 517.69,379.70 517.92,378.93 518.16,378.16 518.39,377.38 518.62,376.60 518.85,375.81 519.08,375.01 519.30,374.20 519.52,373.38 519.74,372.54 519.96,371.69 520.17,370.83 520.38,369.96 520.59,369.09 520.80,368.22 521.01,367.36 521.21,366.50 521.41,365.65 521.61,364.82 521.80,364.00 521.99,363.18 522.19,362.35 522.39,361.52 522.59,360.69 522.78,359.86 522.97,359.04 523.15,358.25 523.33,357.48 523.49,356.75 523.64,356.05 523.78,355.40 523.90,354.80 524.00,354.25 524.09,353.73 524.17,353.24 524.23,352.79 524.29,352.36 524.33,351.98 524.37,351.62 524.40,351.29 524.43,351.00 524.45,350.74 524.48,350.50 524.50,350.30 524.50,350.30 525.00,352.50 526.10,350.30 527.00,351.80 528.40,353.70 533.00,358.20 538.70,361.60 544.00,365.00 548.00,369.00 551.20,375.20 556.40,377.90 564.20,378.90 577.20,379.80 584.70,378.50 591.20,379.80 595.90,384.50 599.60,392.00 601.50,405.00 602.50,418.00" fill="none" stroke="#555" stroke-width="0.9" stroke-linejoin="round" stroke-linecap="round"/>
<polyline points="486.30,447.10 486.60,446.64 486.97,446.06 487.41,445.38 487.90,444.62 488.44,443.79 489.01,442.91 489.60,442.00 490.20,441.07 490.80,440.14 491.39,439.22 491.96,438.34 492.50,437.50 493.02,436.69 493.56,435.88 494.09,435.06 494.63,434.24 495.17,433.43 495.71,432.61 496.25,431.79 496.78,430.97 497.30,430.15 497.81,429.33 498.31,428.51 498.80,427.70 499.27,426.89 499.73,426.08 500.18,425.27 500.62,424.46 501.05,423.65 501.48,422.84 501.90,422.04 502.31,421.23 502.73,420.42 503.15,419.62 503.57,418.81 504.00,418.00 504.43,417.19 504.87,416.38 505.30,415.57 505.74,414.76 506.18,413.95 506.61,413.14 507.04,412.33 507.47,411.52 507.89,410.71 508.30,409.91 508.71,409.10 509.10,408.30 509.48,407.50 509.86,406.71 510.23,405.92 510.59,405.13 510.94,404.34 511.29,403.56 511.63,402.77 511.97,401.98 512.31,401.19 512.64,400.40 512.97,399.60 513.30,398.80 513.63,397.99 513.95,397.18 514.26,396.36 514.57,395.54 514.88,394.72 515.19,393.90 515.49,393.08 515.79,392.26 516.09,391.44 516.39,390.62 516.70,389.81 517.00,389.00 517.30,388.20 517.61,387.40 517.91,386.61 518.22,385.83 518.52,385.04 518.83,384.26 519.13,383.47 519.43,382.69 519.72,381.90 520.02,381.10 520.31,380.30 520.60,379.50 520.89,378.68 521.18,377.85 521.47,377.01 521.76,376.16 522.04,375.31 522.33,374.46 522.60,373.62 522.88,372.78 523.15,371.96 523.41,371.15 523.66,370.36 523.90,369.60 524.13,368.86 524.36,368.14 524.57,367.44 524.78,366.76 524.98,366.08 525.17,365.42 525.37,364.76 525.56,364.11 525.74,363.46 525.93,362.81 526.11,362.16 526.30,361.50 526.48,360.85 526.67,360.22 526.84,359.60 527.01,359.00 527.19,358.39 527.36,357.78 527.53,357.16 527.70,356.53 527.87,355.87 528.04,355.18 528.22,354.46 528.40,353.70 528.59,352.86 528.80,351.92 529.01,350.92 529.24,349.86 529.46,348.79 529.68,347.71 529.89,346.67 530.10,345.67 530.28,344.75 530.45,343.93 530.59,343.24 530.70,342.70 530.70,342.70 531.80,360.50 533.00,368.50 535.30,369.60 542.10,370.40 547.00,372.00 551.20,374.20 556.80,380.80 562.30,385.40 571.70,386.30 586.60,385.40 599.60,385.40 604.20,387.30 607.00,397.50 609.00,410.00 610.30,421.80" fill="none" stroke="#4a7acc" stroke-width="0.9" stroke-linejoin="round" stroke-linecap="round"/>
<line x1="574.90" y1="335.30" x2="593.20" y2="335.30" stroke="#6a6a6a" stroke-width="1.1"/>
<text x="595.82" y="337.90" font-size="8.36" fill="#222">Sample 1</text>
<line x1="574.90" y1="345.30" x2="593.20" y2="345.30" stroke="#f09090" stroke-width="1.1"/>
<text x="595.82" y="348.50" font-size="8.36" fill="#222">Sample 2</text>
<line x1="574.90" y1="356.30" x2="593.20" y2="356.30" stroke="#7088d0" stroke-width="1.1"/>
<text x="595.82" y="358.70" font-size="8.34" fill="#222">Sample 3</text>
<path d="M526.8,384.2 L530.2,384.2 L530.2,386 L529.8,386 L530.6,405 Q531.5,409.5 536,409.8 L547,410.3 L547.5,412.8 L536,413.3 Q527,413.3 526.8,405 Z" fill="#f2dc30" filter="url(#bl05)"/>
<path d="M533,409.2 L546.8,409.6 L548,411.5 L547,413.2 L533,413 Z" fill="#909088" filter="url(#bl05)"/>
<path d="M527,439.5 L530.6,439.5 L530.8,420 Q531.5,416.5 536,416 L547.5,414.5 L547.5,412.8 L536,413.2 Q527,414 527,420 Z" fill="#c4c4c4" filter="url(#bl05)"/>
<circle cx="528.00" cy="442.30" r="0.9" fill="#aaa" stroke="none" stroke-width="0"/>
<line x1="530.90" y1="392.80" x2="536.00" y2="392.80" stroke="#e8c020" stroke-width="0.9"/>
<text x="539.60" y="395.60" font-size="7.5" text-anchor="start" fill="#e8c020">AP hydrogel</text>
<line x1="531.00" y1="403.90" x2="537.00" y2="403.90" stroke="#6a6aa8" stroke-width="0.9"/>
<text x="539.60" y="406.70" font-size="7.5" text-anchor="start" fill="#6a6a80">Stiff backing layer</text>
<line x1="531.00" y1="424.20" x2="538.00" y2="424.20" stroke="#888" stroke-width="0.9"/>
<text x="541.00" y="427.00" font-size="7.5" text-anchor="start" fill="#808080">Stiff backing layer</text>
<line x1="531.00" y1="435.10" x2="538.00" y2="435.10" stroke="#ccc" stroke-width="0.9"/>
<text x="541.00" y="437.90" font-size="7.5" text-anchor="start" fill="#c8c8c8">Ceramic elastomer</text></svg>
</body></html>
